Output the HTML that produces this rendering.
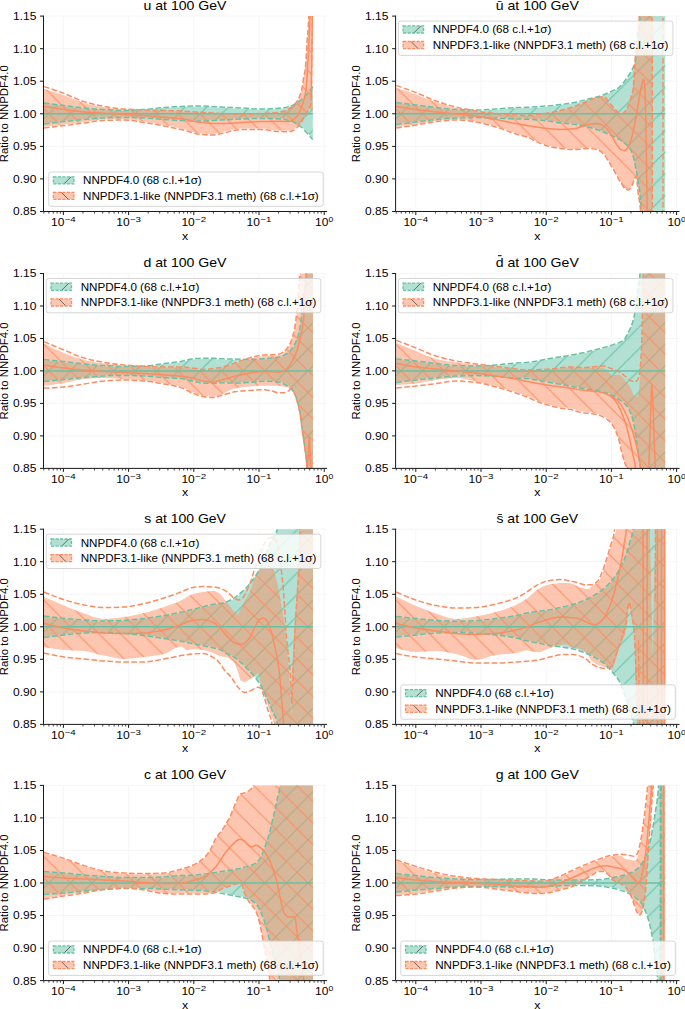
<!DOCTYPE html>
<html><head><meta charset="utf-8"><title>PDF ratios</title>
<style>html,body{margin:0;padding:0;background:#fff}svg{display:block}text{font-family:"Liberation Sans",sans-serif;fill:#000}</style></head><body>
<svg width="685" height="1009" viewBox="0 0 685 1009">
<defs>
<pattern id="hg_u" patternUnits="userSpaceOnUse" x="243.2" y="113.8" width="21.6" height="21.6"><path d="M0 0L-21.6 21.6 M21.6 0L0 21.6 M43.3 0L21.6 21.6" stroke="#66c2a5" stroke-width="1.0" stroke-opacity="1.0" fill="none"/></pattern>
<pattern id="ho_u" patternUnits="userSpaceOnUse" x="243.2" y="113.8" width="21.6" height="21.6"><path d="M0 0L21.6 21.6 M-21.6 0L0 21.6 M21.6 0L43.3 21.6" stroke="#fc8d62" stroke-width="1.0" stroke-opacity="1.0" fill="none"/></pattern>
<pattern id="hg_ubar" patternUnits="userSpaceOnUse" x="595.3" y="113.8" width="21.6" height="21.6"><path d="M0 0L-21.6 21.6 M21.6 0L0 21.6 M43.3 0L21.6 21.6" stroke="#66c2a5" stroke-width="1.0" stroke-opacity="1.0" fill="none"/></pattern>
<pattern id="ho_ubar" patternUnits="userSpaceOnUse" x="595.3" y="113.8" width="21.6" height="21.6"><path d="M0 0L21.6 21.6 M-21.6 0L0 21.6 M21.6 0L43.3 21.6" stroke="#fc8d62" stroke-width="1.0" stroke-opacity="1.0" fill="none"/></pattern>
<pattern id="hg_d" patternUnits="userSpaceOnUse" x="243.2" y="370.9" width="21.6" height="21.6"><path d="M0 0L-21.6 21.6 M21.6 0L0 21.6 M43.3 0L21.6 21.6" stroke="#66c2a5" stroke-width="1.0" stroke-opacity="1.0" fill="none"/></pattern>
<pattern id="ho_d" patternUnits="userSpaceOnUse" x="243.2" y="370.9" width="21.6" height="21.6"><path d="M0 0L21.6 21.6 M-21.6 0L0 21.6 M21.6 0L43.3 21.6" stroke="#fc8d62" stroke-width="1.0" stroke-opacity="1.0" fill="none"/></pattern>
<pattern id="hg_dbar" patternUnits="userSpaceOnUse" x="595.3" y="370.9" width="21.6" height="21.6"><path d="M0 0L-21.6 21.6 M21.6 0L0 21.6 M43.3 0L21.6 21.6" stroke="#66c2a5" stroke-width="1.0" stroke-opacity="1.0" fill="none"/></pattern>
<pattern id="ho_dbar" patternUnits="userSpaceOnUse" x="595.3" y="370.9" width="21.6" height="21.6"><path d="M0 0L21.6 21.6 M-21.6 0L0 21.6 M21.6 0L43.3 21.6" stroke="#fc8d62" stroke-width="1.0" stroke-opacity="1.0" fill="none"/></pattern>
<pattern id="hg_s" patternUnits="userSpaceOnUse" x="243.2" y="626.8" width="21.6" height="21.6"><path d="M0 0L-21.6 21.6 M21.6 0L0 21.6 M43.3 0L21.6 21.6" stroke="#66c2a5" stroke-width="1.0" stroke-opacity="1.0" fill="none"/></pattern>
<pattern id="ho_s" patternUnits="userSpaceOnUse" x="243.2" y="626.8" width="21.6" height="21.6"><path d="M0 0L21.6 21.6 M-21.6 0L0 21.6 M21.6 0L43.3 21.6" stroke="#fc8d62" stroke-width="1.0" stroke-opacity="1.0" fill="none"/></pattern>
<pattern id="hg_sbar" patternUnits="userSpaceOnUse" x="595.3" y="626.8" width="21.6" height="21.6"><path d="M0 0L-21.6 21.6 M21.6 0L0 21.6 M43.3 0L21.6 21.6" stroke="#66c2a5" stroke-width="1.0" stroke-opacity="1.0" fill="none"/></pattern>
<pattern id="ho_sbar" patternUnits="userSpaceOnUse" x="595.3" y="626.8" width="21.6" height="21.6"><path d="M0 0L21.6 21.6 M-21.6 0L0 21.6 M21.6 0L43.3 21.6" stroke="#fc8d62" stroke-width="1.0" stroke-opacity="1.0" fill="none"/></pattern>
<pattern id="hg_c" patternUnits="userSpaceOnUse" x="243.2" y="883" width="21.6" height="21.6"><path d="M0 0L-21.6 21.6 M21.6 0L0 21.6 M43.3 0L21.6 21.6" stroke="#66c2a5" stroke-width="1.0" stroke-opacity="1.0" fill="none"/></pattern>
<pattern id="ho_c" patternUnits="userSpaceOnUse" x="243.2" y="883" width="21.6" height="21.6"><path d="M0 0L21.6 21.6 M-21.6 0L0 21.6 M21.6 0L43.3 21.6" stroke="#fc8d62" stroke-width="1.0" stroke-opacity="1.0" fill="none"/></pattern>
<pattern id="hg_g" patternUnits="userSpaceOnUse" x="595.3" y="883" width="21.6" height="21.6"><path d="M0 0L-21.6 21.6 M21.6 0L0 21.6 M43.3 0L21.6 21.6" stroke="#66c2a5" stroke-width="1.0" stroke-opacity="1.0" fill="none"/></pattern>
<pattern id="ho_g" patternUnits="userSpaceOnUse" x="595.3" y="883" width="21.6" height="21.6"><path d="M0 0L21.6 21.6 M-21.6 0L0 21.6 M21.6 0L43.3 21.6" stroke="#fc8d62" stroke-width="1.0" stroke-opacity="1.0" fill="none"/></pattern>
<clipPath id="cp_u"><rect x="43.5" y="16.1" width="283.1" height="195.4"/></clipPath>
<clipPath id="cp_ubar"><rect x="395.6" y="16.1" width="283.4" height="195.4"/></clipPath>
<clipPath id="cp_d"><rect x="43.5" y="273.5" width="283.1" height="194.9"/></clipPath>
<clipPath id="cp_dbar"><rect x="395.6" y="273.5" width="283.4" height="194.9"/></clipPath>
<clipPath id="cp_s"><rect x="43.5" y="529.2" width="283.1" height="195.2"/></clipPath>
<clipPath id="cp_sbar"><rect x="395.6" y="529.2" width="283.4" height="195.2"/></clipPath>
<clipPath id="cp_c"><rect x="43.5" y="785.4" width="283.1" height="195.2"/></clipPath>
<clipPath id="cp_g"><rect x="395.6" y="785.4" width="283.4" height="195.2"/></clipPath>
</defs>
<g id="panel_u">
<path d="M63.4 16.1V211.5M128.6 16.1V211.5M193.8 16.1V211.5M259 16.1V211.5M324.2 16.1V211.5M43.5 16.1H326.6M43.5 48.7H326.6M43.5 81.2H326.6M43.5 113.8H326.6M43.5 146.4H326.6M43.5 178.9H326.6M43.5 211.5H326.6" stroke="#f5f5f5" stroke-width="0.9" fill="none"/>
<g clip-path="url(#cp_u)">
<path d="M44 103.7C50.7 104.6 57.3 105.5 64 106.3C70.7 107.1 77.3 108.1 84 108.7C90.7 109.3 97.3 109.9 104 110.3C110.7 110.7 117.3 111.1 124 111.1C130.7 111.1 137.3 110.7 144 110.3C150.7 109.9 157.3 108.8 164 108.3C169.7 107.8 175.3 107.3 181 107.1C187.7 106.9 194.3 106.7 201 106.7C207.7 106.7 214.3 107.4 221 107.7C227.7 108 234.3 108.4 241 108.7C247.7 109 254.3 109.7 261 109.7C267.7 109.7 274.3 109.3 281 108.7C284.3 108.4 287.7 107.7 291 106.7C294.3 105.7 297.7 103.3 301 100.7C303 99.2 305 97 307 94.7C308.9 92.5 310.9 90 312.8 87.2L312.8 138.9C310.9 136.6 308.9 134.4 307 132.3C305 130.2 303 127.8 301 126.3C297.7 123.7 294.3 121.3 291 120.3C287.7 119.3 284.3 118.5 281 118.3C274.3 117.9 267.7 117.7 261 117.7C254.3 117.7 247.7 118 241 118.3C234.3 118.5 227.7 119 221 119.3C214.3 119.6 207.7 120.3 201 120.3C194.3 120.3 187.7 120.1 181 119.9C175.3 119.7 169.7 119.1 164 118.7C157.3 118.2 150.7 117.6 144 117.3C137.3 117 130.7 116.7 124 116.7C117.3 116.7 110.7 117 104 117.3C97.3 117.6 90.7 118.1 84 118.7C77.3 119.3 70.7 120.1 64 120.9C57.3 121.7 50.7 122.5 44 123.3Z" fill="#66c2a5" fill-opacity="0.5"/>
<path d="M44 103.7C50.7 104.6 57.3 105.5 64 106.3C70.7 107.1 77.3 108.1 84 108.7C90.7 109.3 97.3 109.9 104 110.3C110.7 110.7 117.3 111.1 124 111.1C130.7 111.1 137.3 110.7 144 110.3C150.7 109.9 157.3 108.8 164 108.3C169.7 107.8 175.3 107.3 181 107.1C187.7 106.9 194.3 106.7 201 106.7C207.7 106.7 214.3 107.4 221 107.7C227.7 108 234.3 108.4 241 108.7C247.7 109 254.3 109.7 261 109.7C267.7 109.7 274.3 109.3 281 108.7C284.3 108.4 287.7 107.7 291 106.7C294.3 105.7 297.7 103.3 301 100.7C303 99.2 305 97 307 94.7C308.9 92.5 310.9 90 312.8 87.2L312.8 138.9C310.9 136.6 308.9 134.4 307 132.3C305 130.2 303 127.8 301 126.3C297.7 123.7 294.3 121.3 291 120.3C287.7 119.3 284.3 118.5 281 118.3C274.3 117.9 267.7 117.7 261 117.7C254.3 117.7 247.7 118 241 118.3C234.3 118.5 227.7 119 221 119.3C214.3 119.6 207.7 120.3 201 120.3C194.3 120.3 187.7 120.1 181 119.9C175.3 119.7 169.7 119.1 164 118.7C157.3 118.2 150.7 117.6 144 117.3C137.3 117 130.7 116.7 124 116.7C117.3 116.7 110.7 117 104 117.3C97.3 117.6 90.7 118.1 84 118.7C77.3 119.3 70.7 120.1 64 120.9C57.3 121.7 50.7 122.5 44 123.3Z" fill="url(#hg_u)"/>
<path d="M44 89C50.7 90.9 57.3 93 64 95.3C70.7 97.6 77.3 101.1 84 103C90.7 104.8 97.3 106.2 104 107.3C110.7 108.3 117.3 109.2 124 109.7C130.7 110.2 137.3 110.5 144 110.7C150.7 111 157.3 111.1 164 111.3C169.7 111.4 175.3 111.5 181 111.7C187.7 111.9 194.3 112.7 201 113.1C207.7 113.5 214.3 113.8 221 114.1C227.7 114.4 234.3 115.1 241 115.1C247.7 115.1 254.3 114.7 261 114.3C267.7 113.9 274.3 113.7 281 112.7C284.3 112.2 287.7 110.3 291 108.2C292.1 107.5 293.2 106.4 294.3 105.3C295.5 104.1 296.6 102.7 297.8 100.8C298.7 99.3 299.6 97.3 300.5 94.6C301.1 92.8 301.7 90.5 302.3 87.4C302.7 85.2 303.2 81.1 303.6 78.5C304.1 75.3 304.7 74.3 305.2 70.2C305.8 65.6 306.4 52.7 307 43.7C307.6 34.9 308.2 32.3 308.8 16.7C309 10 309.2 -10.5 309.5 -29.3L312.8 112.6C311.7 109.9 310.5 109 309.4 109C308.5 109 307.6 111.4 306.7 112.6C305.8 113.8 304.9 115 304 116.5C303.1 117.9 302.3 120.1 301.4 121.4C300.2 123.2 299 124.6 297.8 125.8C296.3 127.2 294.9 128.8 293.4 129.4C291.9 130 290.5 130.7 289 130.7C286.3 130.7 283.7 130.7 281 130.6C274.3 130.5 267.7 128.6 261 128.6C254.3 128.6 247.7 128.6 241 128.6C234.3 128.6 227.7 131.4 221 132.6C218.3 133.1 215.7 134 213 134C209 134 205 133.7 201 133.4C194.3 132.9 187.7 129.9 181 128.4C175.3 127.1 169.7 126.1 164 125C157.3 123.7 150.7 122.3 144 121.4C137.3 120.5 130.7 119.2 124 119.2C117.3 119.2 110.7 119.4 104 119.6C97.3 119.8 90.7 121.2 84 122C77.3 122.8 70.7 123.8 64 124.6C57.3 125.4 50.7 126.1 44 126.8Z" fill="#fc8d62" fill-opacity="0.5"/>
<path d="M44 89C50.7 90.9 57.3 93 64 95.3C70.7 97.6 77.3 101.1 84 103C90.7 104.8 97.3 106.2 104 107.3C110.7 108.3 117.3 109.2 124 109.7C130.7 110.2 137.3 110.5 144 110.7C150.7 111 157.3 111.1 164 111.3C169.7 111.4 175.3 111.5 181 111.7C187.7 111.9 194.3 112.7 201 113.1C207.7 113.5 214.3 113.8 221 114.1C227.7 114.4 234.3 115.1 241 115.1C247.7 115.1 254.3 114.7 261 114.3C267.7 113.9 274.3 113.7 281 112.7C284.3 112.2 287.7 110.3 291 108.2C292.1 107.5 293.2 106.4 294.3 105.3C295.5 104.1 296.6 102.7 297.8 100.8C298.7 99.3 299.6 97.3 300.5 94.6C301.1 92.8 301.7 90.5 302.3 87.4C302.7 85.2 303.2 81.1 303.6 78.5C304.1 75.3 304.7 74.3 305.2 70.2C305.8 65.6 306.4 52.7 307 43.7C307.6 34.9 308.2 32.3 308.8 16.7C309 10 309.2 -10.5 309.5 -29.3L312.8 112.6C311.7 109.9 310.5 109 309.4 109C308.5 109 307.6 111.4 306.7 112.6C305.8 113.8 304.9 115 304 116.5C303.1 117.9 302.3 120.1 301.4 121.4C300.2 123.2 299 124.6 297.8 125.8C296.3 127.2 294.9 128.8 293.4 129.4C291.9 130 290.5 130.7 289 130.7C286.3 130.7 283.7 130.7 281 130.6C274.3 130.5 267.7 128.6 261 128.6C254.3 128.6 247.7 128.6 241 128.6C234.3 128.6 227.7 131.4 221 132.6C218.3 133.1 215.7 134 213 134C209 134 205 133.7 201 133.4C194.3 132.9 187.7 129.9 181 128.4C175.3 127.1 169.7 126.1 164 125C157.3 123.7 150.7 122.3 144 121.4C137.3 120.5 130.7 119.2 124 119.2C117.3 119.2 110.7 119.4 104 119.6C97.3 119.8 90.7 121.2 84 122C77.3 122.8 70.7 123.8 64 124.6C57.3 125.4 50.7 126.1 44 126.8Z" fill="url(#ho_u)"/>
<path d="M43.5 113.8H312.8" stroke="#66c2a5" stroke-width="1.5" fill="none"/>
<path d="M44 103C50.7 103.9 57.3 104.8 64 105.6C70.7 106.4 77.3 107.4 84 108C90.7 108.6 97.3 109.2 104 109.6C110.7 110 117.3 110.4 124 110.4C130.7 110.4 137.3 110 144 109.6C150.7 109.2 157.3 108.1 164 107.6C169.7 107.1 175.3 106.6 181 106.4C187.7 106.2 194.3 106 201 106C207.7 106 214.3 106.7 221 107C227.7 107.3 234.3 107.7 241 108C247.7 108.3 254.3 109 261 109C267.7 109 274.3 108.6 281 108C284.3 107.7 287.7 107 291 106C294.3 105 297.7 102.6 301 100C303 98.5 305 96.3 307 94C308.9 91.8 310.9 89.3 312.8 86.5" stroke="#66c2a5" stroke-width="1.5" fill="none" stroke-dasharray="5.6 2.4" stroke-linejoin="round"/>
<path d="M44 124C50.7 123.2 57.3 122.4 64 121.6C70.7 120.8 77.3 120 84 119.4C90.7 118.8 97.3 118.3 104 118C110.7 117.7 117.3 117.4 124 117.4C130.7 117.4 137.3 117.7 144 118C150.7 118.3 157.3 118.9 164 119.4C169.7 119.8 175.3 120.4 181 120.6C187.7 120.8 194.3 121 201 121C207.7 121 214.3 120.3 221 120C227.7 119.7 234.3 119.2 241 119C247.7 118.8 254.3 118.4 261 118.4C267.7 118.4 274.3 118.6 281 119C284.3 119.2 287.7 120 291 121C294.3 122 297.7 124.4 301 127C303 128.5 305 130.9 307 133C308.9 135.1 310.9 137.3 312.8 139.6" stroke="#66c2a5" stroke-width="1.5" fill="none" stroke-dasharray="5.6 2.4" stroke-linejoin="round"/>
<path d="M44 106.6C50.7 107.7 57.3 108.7 64 109.6C70.7 110.5 77.3 111.5 84 112C90.7 112.5 97.3 112.8 104 113.2C110.7 113.6 117.3 114 124 114.4C130.7 114.8 137.3 115.1 144 115.6C150.7 116.1 157.3 116.7 164 117.2C169.7 117.7 175.3 118 181 118.6C187.7 119.4 194.3 121.8 201 122.4C207.7 123 214.3 123.6 221 123.6C227.7 123.6 234.3 122.7 241 122.4C247.7 122.1 254.3 121.7 261 121.6C267.7 121.5 274.3 121.3 281 121.3C283.6 121.3 286.3 121.5 288.9 121.5C290.4 121.5 291.9 120.6 293.4 119.7C294.9 118.9 296.3 117.3 297.8 115.3C298.7 114.1 299.6 112.1 300.5 110C301.4 107.9 302.3 105 303.2 101.9C304.1 98.9 304.9 96.8 305.8 91.2C306.4 87.5 306.9 78.3 307.5 69.5C308 61.7 308.5 49.9 309 40C309.4 32.1 309.8 28.3 310.2 16C310.5 7.8 310.7 -10.7 311 -30" stroke="#fc8d62" stroke-width="1.5" fill="none" stroke-linejoin="round"/>
<path d="M44 86.6C50.7 88.6 57.3 90.9 64 93.4C70.7 95.9 77.3 99.6 84 101.6C90.7 103.6 97.3 105.3 104 106.4C110.7 107.5 117.3 108.5 124 109C130.7 109.5 137.3 109.8 144 110C150.7 110.2 157.3 110.4 164 110.6C169.7 110.7 175.3 110.8 181 111C187.7 111.2 194.3 112 201 112.4C207.7 112.8 214.3 113.1 221 113.4C227.7 113.7 234.3 114.4 241 114.4C247.7 114.4 254.3 114 261 113.6C267.7 113.2 274.3 113 281 112C284.3 111.5 287.7 109.6 291 107.5C292.1 106.8 293.2 105.7 294.3 104.6C295.5 103.4 296.6 102 297.8 100.1C298.7 98.6 299.6 96.6 300.5 93.9C301.1 92.1 301.7 89.8 302.3 86.7C302.7 84.5 303.2 80.4 303.6 77.8C304.1 74.6 304.7 73.6 305.2 69.5C305.8 64.9 306.4 52 307 43C307.6 34.2 308.2 31.6 308.8 16C309 9.3 309.2 -11.2 309.5 -30" stroke="#fc8d62" stroke-width="1.5" fill="none" stroke-dasharray="5.6 2.4" stroke-linejoin="round"/>
<path d="M44 128C50.7 127.2 57.3 126.4 64 125.6C70.7 124.8 77.3 123.9 84 123C90.7 122.1 97.3 120.6 104 120.4C110.7 120.2 117.3 120 124 120C130.7 120 137.3 121.4 144 122.4C150.7 123.4 157.3 124.7 164 126C169.7 127.1 175.3 128.1 181 129.4C187.7 130.9 194.3 133.9 201 134.4C205 134.7 209 135 213 135C215.7 135 218.3 134.1 221 133.6C227.7 132.4 234.3 129.6 241 129.6C247.7 129.6 254.3 129.6 261 129.6C267.7 129.6 274.3 131.5 281 131.6C283.7 131.7 286.3 131.7 289 131.7C290.5 131.7 291.9 131 293.4 130.4C294.9 129.8 296.3 128.2 297.8 126.8C299 125.6 300.2 124.3 301.4 122.4C302.3 121 303.1 118.6 304 117C304.9 115.4 305.8 114.1 306.7 112.6C307.6 111.1 308.5 109.9 309.4 108C309.9 106.9 310.5 106.8 311 104C311.3 102.6 311.5 78.4 311.8 60C312 48.5 312.1 35.1 312.3 16C312.4 4.6 312.5 -12.2 312.6 -30" stroke="#fc8d62" stroke-width="1.5" fill="none" stroke-dasharray="5.6 2.4" stroke-linejoin="round"/>
<path d="M311.2 100C311.4 89 311.6 75.2 311.8 60C312 47.3 312.1 34 312.3 16C312.4 8.8 312.4 -0.5 312.5 -10" stroke="#fc8d62" stroke-width="1.5" fill="none"/>
</g>
<path d="M43.5 16.1V211.5H326.6" stroke="#1a1a1a" stroke-width="1" fill="none" stroke-linecap="square"/>
<path d="M63.4 211.5v3.5M128.6 211.5v3.5M193.8 211.5v3.5M259 211.5v3.5M324.2 211.5v3.5" stroke="#1a1a1a" stroke-width="1" fill="none"/>
<path d="M43.8 211.5v2.1M48.9 211.5v2.1M53.3 211.5v2.1M57.1 211.5v2.1M60.4 211.5v2.1M83 211.5v2.1M94.5 211.5v2.1M102.7 211.5v2.1M109 211.5v2.1M114.1 211.5v2.1M118.5 211.5v2.1M122.3 211.5v2.1M125.6 211.5v2.1M148.2 211.5v2.1M159.7 211.5v2.1M167.9 211.5v2.1M174.2 211.5v2.1M179.3 211.5v2.1M183.7 211.5v2.1M187.5 211.5v2.1M190.8 211.5v2.1M213.4 211.5v2.1M224.9 211.5v2.1M233.1 211.5v2.1M239.4 211.5v2.1M244.5 211.5v2.1M248.9 211.5v2.1M252.7 211.5v2.1M256 211.5v2.1M278.6 211.5v2.1M290.1 211.5v2.1M298.3 211.5v2.1M304.6 211.5v2.1M309.7 211.5v2.1M314.1 211.5v2.1M317.9 211.5v2.1M321.2 211.5v2.1" stroke="#1a1a1a" stroke-width="0.8" fill="none"/>
<path d="M43.5 16.1h-3.5M43.5 48.7h-3.5M43.5 81.2h-3.5M43.5 113.8h-3.5M43.5 146.4h-3.5M43.5 178.9h-3.5M43.5 211.5h-3.5" stroke="#1a1a1a" stroke-width="1" fill="none"/>
<text x="13" y="20" font-size="10.5" text-anchor="start" textLength="23.4" lengthAdjust="spacingAndGlyphs">1.15</text>
<text x="13" y="52.6" font-size="10.5" text-anchor="start" textLength="23.4" lengthAdjust="spacingAndGlyphs">1.10</text>
<text x="13" y="85.1" font-size="10.5" text-anchor="start" textLength="23.4" lengthAdjust="spacingAndGlyphs">1.05</text>
<text x="13" y="117.7" font-size="10.5" text-anchor="start" textLength="23.4" lengthAdjust="spacingAndGlyphs">1.00</text>
<text x="13" y="150.3" font-size="10.5" text-anchor="start" textLength="23.4" lengthAdjust="spacingAndGlyphs">0.95</text>
<text x="13" y="182.8" font-size="10.5" text-anchor="start" textLength="23.4" lengthAdjust="spacingAndGlyphs">0.90</text>
<text x="13" y="215.4" font-size="10.5" text-anchor="start" textLength="23.4" lengthAdjust="spacingAndGlyphs">0.85</text>
<text x="51" y="226.1" font-size="10.5" text-anchor="start" textLength="13.4" lengthAdjust="spacingAndGlyphs">10</text>
<text x="64.7" y="222.1" font-size="7.5" text-anchor="start" textLength="11.1" lengthAdjust="spacingAndGlyphs">−4</text>
<text x="116.2" y="226.1" font-size="10.5" text-anchor="start" textLength="13.4" lengthAdjust="spacingAndGlyphs">10</text>
<text x="129.9" y="222.1" font-size="7.5" text-anchor="start" textLength="11.1" lengthAdjust="spacingAndGlyphs">−3</text>
<text x="181.4" y="226.1" font-size="10.5" text-anchor="start" textLength="13.4" lengthAdjust="spacingAndGlyphs">10</text>
<text x="195.1" y="222.1" font-size="7.5" text-anchor="start" textLength="11.1" lengthAdjust="spacingAndGlyphs">−2</text>
<text x="246.6" y="226.1" font-size="10.5" text-anchor="start" textLength="13.4" lengthAdjust="spacingAndGlyphs">10</text>
<text x="260.3" y="222.1" font-size="7.5" text-anchor="start" textLength="11.1" lengthAdjust="spacingAndGlyphs">−1</text>
<text x="315" y="226.1" font-size="10.5" text-anchor="start" textLength="13.4" lengthAdjust="spacingAndGlyphs">10</text>
<text x="328.6" y="222.1" font-size="7.5" text-anchor="start" textLength="4.8" lengthAdjust="spacingAndGlyphs">0</text>
<text x="181.9" y="239.5" font-size="10.5" text-anchor="start" textLength="6.2" lengthAdjust="spacingAndGlyphs">x</text>
<text transform="translate(7.9 162.3) rotate(-90)" font-size="10.5" text-anchor="start" textLength="97" lengthAdjust="spacingAndGlyphs">Ratio to NNPDF4.0</text>
<text x="143.5" y="10" font-size="12.6" text-anchor="start" textLength="83" lengthAdjust="spacingAndGlyphs">u at 100 GeV</text>
<rect x="48.7" y="172" width="274.5" height="34.3" rx="2.2" ry="2.2" fill="#fff" fill-opacity="0.8" stroke="#ccc" stroke-opacity="0.8" stroke-width="1"/>
<rect x="53.4" y="176.8" width="20.5" height="7.1" fill="#66c2a5" fill-opacity="0.5"/>
<path d="M64 183.8L71.1 176.8" stroke="#444" stroke-width="1" stroke-opacity="0.75"/>
<rect x="53.4" y="176.8" width="20.5" height="7.1" fill="none" stroke="#66c2a5" stroke-width="1.3" stroke-dasharray="3.1 1.4"/>
<text x="83.1" y="184.2" font-size="10.5" text-anchor="start" textLength="118.6" lengthAdjust="spacingAndGlyphs">NNPDF4.0 (68 c.l.+1σ)</text>
<rect x="53.4" y="192.3" width="20.5" height="7.1" fill="#fc8d62" fill-opacity="0.5"/>
<path d="M61.3 192.3L68.4 199.4" stroke="#444" stroke-width="1" stroke-opacity="0.75"/>
<rect x="53.4" y="192.3" width="20.5" height="7.1" fill="none" stroke="#fc8d62" stroke-width="1.3" stroke-dasharray="3.1 1.4"/>
<text x="83.1" y="199.8" font-size="10.5" text-anchor="start" textLength="235.6" lengthAdjust="spacingAndGlyphs">NNPDF3.1-like (NNPDF3.1 meth) (68 c.l.+1σ)</text>
</g>
<g id="panel_ubar">
<path d="M415.8 16.1V211.5M481 16.1V211.5M546.2 16.1V211.5M611.4 16.1V211.5M676.6 16.1V211.5M395.6 16.1H679M395.6 48.7H679M395.6 81.2H679M395.6 113.8H679M395.6 146.4H679M395.6 178.9H679M395.6 211.5H679" stroke="#f5f5f5" stroke-width="0.9" fill="none"/>
<g clip-path="url(#cp_ubar)">
<path d="M396.3 103.1C402.9 104 409.4 104.8 416 105.7C422.7 106.6 429.3 107.5 436 108.3C442.7 109.1 449.3 110.1 456 110.3C462.7 110.5 469.3 110.7 476 110.7C482.7 110.7 489.3 110.1 496 109.7C502.7 109.3 509.3 108.6 516 108.3C519.7 108.2 523.3 108.1 527 108C534.7 107.7 542.3 107.1 550 106.4C553.3 106.1 556.7 105.7 560 105.3C564.9 104.7 569.7 104 574.6 103.1C579.5 102.2 584.3 100.7 589.2 99.5C593.1 98.5 597 97.8 600.9 96.5C604.3 95.4 607.6 93.8 611 92.2C613.7 90.9 616.3 89.9 619 88C621.3 86.3 623.7 83.1 626 79.9C628.3 76.7 630.7 73.7 633 68.4C634.2 65.7 635.4 62.7 636.6 56.7C637.4 52.7 638.2 43.8 639 33.7C639.3 29.5 639.7 26.8 640 17.2C640.2 11.4 640.4 -29.3 640.6 -29.3C648.8 -29.3 657 -29.3 665.2 -29.3L665.2 259.3C657.4 259.3 649.6 259.3 641.8 259.3C641.5 259.3 641.3 217.1 641 210.3C640.5 198.4 640.1 193.5 639.6 189.3C639.1 184.8 638.6 182.7 638.1 179.8C637.4 175.5 636.6 171.7 635.9 168.1C634.9 163.4 634 158.1 633 155C632 151.8 631 149.2 630 147.7C628.6 145.6 627.1 144.5 625.7 143.3C623.3 141.2 620.8 139.6 618.4 138.2C613.5 135.5 608.7 133.5 603.8 131.6C598.9 129.7 594.1 127.7 589.2 126.5C584.3 125.3 579.5 124.3 574.6 123.6C569.7 122.9 564.9 122.7 560 122.1C556.7 121.7 553.3 121 550 120.6C542.3 119.7 534.7 118.7 527 118.5C523.3 118.4 519.7 118.4 516 118.3C509.3 118.1 502.7 117.5 496 117.3C489.3 117.1 482.7 116.9 476 116.9C469.3 116.9 462.7 117.1 456 117.3C449.3 117.5 442.7 118.3 436 118.9C429.3 119.5 422.7 120.5 416 121.3C409.4 122.1 402.9 122.9 396.3 123.7Z" fill="#66c2a5" fill-opacity="0.5"/>
<path d="M396.3 103.1C402.9 104 409.4 104.8 416 105.7C422.7 106.6 429.3 107.5 436 108.3C442.7 109.1 449.3 110.1 456 110.3C462.7 110.5 469.3 110.7 476 110.7C482.7 110.7 489.3 110.1 496 109.7C502.7 109.3 509.3 108.6 516 108.3C519.7 108.2 523.3 108.1 527 108C534.7 107.7 542.3 107.1 550 106.4C553.3 106.1 556.7 105.7 560 105.3C564.9 104.7 569.7 104 574.6 103.1C579.5 102.2 584.3 100.7 589.2 99.5C593.1 98.5 597 97.8 600.9 96.5C604.3 95.4 607.6 93.8 611 92.2C613.7 90.9 616.3 89.9 619 88C621.3 86.3 623.7 83.1 626 79.9C628.3 76.7 630.7 73.7 633 68.4C634.2 65.7 635.4 62.7 636.6 56.7C637.4 52.7 638.2 43.8 639 33.7C639.3 29.5 639.7 26.8 640 17.2C640.2 11.4 640.4 -29.3 640.6 -29.3C648.8 -29.3 657 -29.3 665.2 -29.3L665.2 259.3C657.4 259.3 649.6 259.3 641.8 259.3C641.5 259.3 641.3 217.1 641 210.3C640.5 198.4 640.1 193.5 639.6 189.3C639.1 184.8 638.6 182.7 638.1 179.8C637.4 175.5 636.6 171.7 635.9 168.1C634.9 163.4 634 158.1 633 155C632 151.8 631 149.2 630 147.7C628.6 145.6 627.1 144.5 625.7 143.3C623.3 141.2 620.8 139.6 618.4 138.2C613.5 135.5 608.7 133.5 603.8 131.6C598.9 129.7 594.1 127.7 589.2 126.5C584.3 125.3 579.5 124.3 574.6 123.6C569.7 122.9 564.9 122.7 560 122.1C556.7 121.7 553.3 121 550 120.6C542.3 119.7 534.7 118.7 527 118.5C523.3 118.4 519.7 118.4 516 118.3C509.3 118.1 502.7 117.5 496 117.3C489.3 117.1 482.7 116.9 476 116.9C469.3 116.9 462.7 117.1 456 117.3C449.3 117.5 442.7 118.3 436 118.9C429.3 119.5 422.7 120.5 416 121.3C409.4 122.1 402.9 122.9 396.3 123.7Z" fill="url(#hg_ubar)"/>
<path d="M396.3 88C402.9 89.9 409.4 92.1 416 94.5C422.7 96.9 429.3 100.2 436 102.3C442.7 104.5 449.3 106.3 456 107.8C462.7 109.3 469.3 110.7 476 111.7C482.7 112.7 489.3 113.7 496 114.3C502.7 114.9 509.3 115.4 516 115.7C519.7 115.9 523.3 116.1 527 116.1C534.7 116.1 542.3 114.6 550 113.4C557.7 112.2 565.3 110 573 107.6C576.9 106.4 580.8 104.5 584.7 103C588.5 101.5 592.2 99.6 596 98.7C598.6 98.1 601.2 97.3 603.8 97.3C605.7 97.3 607.7 101.6 609.6 103.8C611.6 106 613.5 108.5 615.5 110.4C617 111.8 618.4 114.1 619.9 114.3C620.6 114.4 621.3 114.5 622 114.5C623.2 114.5 624.5 112.7 625.7 111.1C626.7 109.9 627.6 107.6 628.6 105.3C629.6 103 630.5 99.8 631.5 96.5C632 94.8 632.5 93.6 633 90.7C633.8 86 634.6 66.1 635.4 56.7C636.2 47.7 636.9 41.5 637.7 33.7C638.2 28.3 638.8 27.7 639.3 17.2C639.5 12.6 639.8 -29.3 640 -29.3C644.1 -29.3 648.2 -29.3 652.3 -29.3L652.3 259.3C648.6 259.3 644.9 259.3 641.2 259.3C641 259.3 640.7 213.9 640.5 210.3C639.8 199.9 639.2 200.9 638.5 195.3C638 191.1 637.5 184.7 637 181.3C636.6 178.8 636.3 175.4 635.9 175.4C635.4 175.4 635 177.3 634.5 178.3C633.5 180.5 632.5 184.1 631.5 185.7C630.5 187.3 629.6 189.3 628.6 189.3C627.6 189.3 626.7 189 625.7 188.6C624.2 188 622.8 184.9 621.3 182.7C619.4 179.8 617.4 175.9 615.5 172.5C613.5 169.1 611.6 165.5 609.6 162.3C607.7 159.2 605.7 155.4 603.8 153.5C601.9 151.6 599.9 149.8 598 149.2C595.1 148.4 592.1 147.7 589.2 147.7C584.3 147.7 579.5 148.9 574.6 148.9C569.7 148.9 564.9 148.3 560 147.7C556.7 147.3 553.3 146.7 550 145.9C546.2 145 542.3 143.5 538.5 141.9C534.7 140.3 530.8 137.6 527 136.3C523.3 135 519.7 134.4 516 133.3C509.3 131.3 502.7 128.2 496 126.3C489.3 124.4 482.7 122.3 476 121.3C469.3 120.3 462.7 119.3 456 119.3C449.3 119.3 442.7 120.2 436 120.9C429.3 121.6 422.7 123.2 416 124.3C409.4 125.4 402.9 126.4 396.3 127.3Z" fill="#fc8d62" fill-opacity="0.5"/>
<path d="M396.3 88C402.9 89.9 409.4 92.1 416 94.5C422.7 96.9 429.3 100.2 436 102.3C442.7 104.5 449.3 106.3 456 107.8C462.7 109.3 469.3 110.7 476 111.7C482.7 112.7 489.3 113.7 496 114.3C502.7 114.9 509.3 115.4 516 115.7C519.7 115.9 523.3 116.1 527 116.1C534.7 116.1 542.3 114.6 550 113.4C557.7 112.2 565.3 110 573 107.6C576.9 106.4 580.8 104.5 584.7 103C588.5 101.5 592.2 99.6 596 98.7C598.6 98.1 601.2 97.3 603.8 97.3C605.7 97.3 607.7 101.6 609.6 103.8C611.6 106 613.5 108.5 615.5 110.4C617 111.8 618.4 114.1 619.9 114.3C620.6 114.4 621.3 114.5 622 114.5C623.2 114.5 624.5 112.7 625.7 111.1C626.7 109.9 627.6 107.6 628.6 105.3C629.6 103 630.5 99.8 631.5 96.5C632 94.8 632.5 93.6 633 90.7C633.8 86 634.6 66.1 635.4 56.7C636.2 47.7 636.9 41.5 637.7 33.7C638.2 28.3 638.8 27.7 639.3 17.2C639.5 12.6 639.8 -29.3 640 -29.3C644.1 -29.3 648.2 -29.3 652.3 -29.3L652.3 259.3C648.6 259.3 644.9 259.3 641.2 259.3C641 259.3 640.7 213.9 640.5 210.3C639.8 199.9 639.2 200.9 638.5 195.3C638 191.1 637.5 184.7 637 181.3C636.6 178.8 636.3 175.4 635.9 175.4C635.4 175.4 635 177.3 634.5 178.3C633.5 180.5 632.5 184.1 631.5 185.7C630.5 187.3 629.6 189.3 628.6 189.3C627.6 189.3 626.7 189 625.7 188.6C624.2 188 622.8 184.9 621.3 182.7C619.4 179.8 617.4 175.9 615.5 172.5C613.5 169.1 611.6 165.5 609.6 162.3C607.7 159.2 605.7 155.4 603.8 153.5C601.9 151.6 599.9 149.8 598 149.2C595.1 148.4 592.1 147.7 589.2 147.7C584.3 147.7 579.5 148.9 574.6 148.9C569.7 148.9 564.9 148.3 560 147.7C556.7 147.3 553.3 146.7 550 145.9C546.2 145 542.3 143.5 538.5 141.9C534.7 140.3 530.8 137.6 527 136.3C523.3 135 519.7 134.4 516 133.3C509.3 131.3 502.7 128.2 496 126.3C489.3 124.4 482.7 122.3 476 121.3C469.3 120.3 462.7 119.3 456 119.3C449.3 119.3 442.7 120.2 436 120.9C429.3 121.6 422.7 123.2 416 124.3C409.4 125.4 402.9 126.4 396.3 127.3Z" fill="url(#ho_ubar)"/>
<path d="M395.6 113.8H665.2" stroke="#66c2a5" stroke-width="1.5" fill="none"/>
<path d="M396.3 102.4C402.9 103.3 409.4 104.1 416 105C422.7 105.9 429.3 106.8 436 107.6C442.7 108.4 449.3 109.4 456 109.6C462.7 109.8 469.3 110 476 110C482.7 110 489.3 109.4 496 109C502.7 108.6 509.3 107.9 516 107.6C519.7 107.5 523.3 107.4 527 107.3C534.7 107 542.3 106.4 550 105.7C553.3 105.4 556.7 105 560 104.6C564.9 104 569.7 103.3 574.6 102.4C579.5 101.5 584.3 100 589.2 98.8C593.1 97.8 597 97.1 600.9 95.8C604.3 94.7 607.6 93.1 611 91.5C613.7 90.2 616.3 89.2 619 87.3C621.3 85.6 623.7 82.4 626 79.2C628.3 76 630.7 73 633 67.7C634.2 65 635.4 62 636.6 56C637.4 52 638.2 43.1 639 33C639.3 28.8 639.7 26.1 640 16.5C640.2 10.7 640.4 -30 640.6 -30C648.8 -30 657 -30 665.2 -30" stroke="#66c2a5" stroke-width="1.5" fill="none" stroke-dasharray="5.6 2.4" stroke-linejoin="round"/>
<path d="M396.3 124.4C402.9 123.6 409.4 122.8 416 122C422.7 121.2 429.3 120.2 436 119.6C442.7 119 449.3 118.2 456 118C462.7 117.8 469.3 117.6 476 117.6C482.7 117.6 489.3 117.8 496 118C502.7 118.2 509.3 118.8 516 119C519.7 119.1 523.3 119.1 527 119.2C534.7 119.4 542.3 120.4 550 121.3C553.3 121.7 556.7 122.4 560 122.8C564.9 123.4 569.7 123.6 574.6 124.3C579.5 125 584.3 126 589.2 127.2C594.1 128.4 598.9 130.4 603.8 132.3C608.7 134.2 613.5 136.2 618.4 138.9C620.8 140.3 623.3 141.9 625.7 144C627.1 145.2 628.6 146.3 630 148.4C631 149.9 632 152.5 633 155.7C634 158.8 634.9 164.1 635.9 168.8C636.6 172.4 637.4 176.2 638.1 180.5C638.6 183.4 639.1 185.5 639.6 190C640.1 194.2 640.5 199.1 641 211C641.3 217.8 641.5 260 641.8 260C649.6 260 657.4 260 665.2 260" stroke="#66c2a5" stroke-width="1.5" fill="none" stroke-dasharray="5.6 2.4" stroke-linejoin="round"/>
<path d="M396.3 106.4C402.9 107.6 409.4 108.7 416 109.6C422.7 110.5 429.3 111.3 436 112C442.7 112.7 449.3 113.3 456 114C462.7 114.7 469.3 115.1 476 116C482.7 116.9 489.3 118.3 496 119.6C502.7 120.9 509.3 122.4 516 123.6C519.7 124.3 523.3 124.9 527 125.5C534.7 126.7 542.3 128.2 550 128.8C553.3 129.1 556.7 129.4 560 129.4C564.9 129.4 569.7 129.1 574.6 128.7C578.5 128.4 582.4 125.7 586.3 125C589.7 124.4 593.1 123.6 596.5 123.6C598.9 123.6 601.4 124.6 603.8 125.8C605.7 126.7 607.7 129.7 609.6 132.3C611.6 135 613.5 139.7 615.5 142.6C617.4 145.4 619.4 149.2 621.3 149.9C622.3 150.3 623.2 150.6 624.2 150.6C625.4 150.6 626.7 149.2 627.9 147.7C629.1 146.2 630.3 142.2 631.5 138.2C632.5 134.9 633.5 129.9 634.5 125C635.5 120.3 636.4 114.6 637.4 109C638.1 104.8 638.9 99.8 639.6 95.8C640.4 91.5 641.2 87.1 642 84C642.5 82.1 643 79.2 643.5 79.2C643.9 79.2 644.3 82.2 644.7 86C645.1 90.2 645.6 110.4 646 130C646.4 148.1 646.8 174.4 647.2 211C647.3 223.2 647.5 241.8 647.6 260" stroke="#fc8d62" stroke-width="1.5" fill="none" stroke-linejoin="round"/>
<path d="M396.3 85.6C402.9 87.7 409.4 90.1 416 92.6C422.7 95.2 429.3 98.7 436 101C442.7 103.3 449.3 105.4 456 107C462.7 108.6 469.3 109.9 476 111C482.7 112.1 489.3 113 496 113.6C502.7 114.2 509.3 114.7 516 115C519.7 115.2 523.3 115.4 527 115.4C534.7 115.4 542.3 113.9 550 112.7C557.7 111.5 565.3 109.3 573 106.9C576.9 105.7 580.8 103.8 584.7 102.3C588.5 100.8 592.2 98.9 596 98C598.6 97.4 601.2 96.6 603.8 96.6C605.7 96.6 607.7 100.9 609.6 103.1C611.6 105.3 613.5 107.8 615.5 109.7C617 111.1 618.4 113.4 619.9 113.6C620.6 113.7 621.3 113.8 622 113.8C623.2 113.8 624.5 112 625.7 110.4C626.7 109.2 627.6 106.9 628.6 104.6C629.6 102.3 630.5 99.1 631.5 95.8C632 94.1 632.5 92.9 633 90C633.8 85.3 634.6 65.4 635.4 56C636.2 47 636.9 40.8 637.7 33C638.2 27.6 638.8 27 639.3 16.5C639.5 11.9 639.8 -30 640 -30C644.1 -30 648.2 -30 652.3 -30" stroke="#fc8d62" stroke-width="1.5" fill="none" stroke-dasharray="5.6 2.4" stroke-linejoin="round"/>
<path d="M396.3 128C402.9 127.1 409.4 126.1 416 125C422.7 123.9 429.3 122.3 436 121.6C442.7 120.9 449.3 120 456 120C462.7 120 469.3 121 476 122C482.7 123 489.3 125.1 496 127C502.7 128.9 509.3 132 516 134C519.7 135.1 523.3 135.7 527 137C530.8 138.3 534.7 141 538.5 142.6C542.3 144.2 546.2 145.7 550 146.6C553.3 147.4 556.7 148 560 148.4C564.9 149 569.7 149.6 574.6 149.6C579.5 149.6 584.3 148.4 589.2 148.4C592.1 148.4 595.1 149.1 598 149.9C599.9 150.5 601.9 152.3 603.8 154.2C605.7 156.1 607.7 159.9 609.6 163C611.6 166.2 613.5 169.8 615.5 173.2C617.4 176.6 619.4 180.5 621.3 183.4C622.8 185.6 624.2 188.7 625.7 189.3C626.7 189.7 627.6 190 628.6 190C629.6 190 630.5 188 631.5 186.4C632.5 184.8 633.5 181.2 634.5 179C635 178 635.4 176.1 635.9 176.1C636.3 176.1 636.6 179.5 637 182C637.5 185.4 638 191.8 638.5 196C639.2 201.6 639.8 200.6 640.5 211C640.7 214.6 641 260 641.2 260C644.9 260 648.6 260 652.3 260" stroke="#fc8d62" stroke-width="1.5" fill="none" stroke-dasharray="5.6 2.4" stroke-linejoin="round"/>
<path d="M652.3 10C652.3 80 652.3 150 652.3 220" stroke="#fc8d62" stroke-width="1.5" fill="none" stroke-dasharray="5.6 2.4"/>
<path d="M663 10C663 80 663 150 663 220" stroke="#fc8d62" stroke-width="1.5" fill="none" stroke-dasharray="5.6 2.4"/>
</g>
<path d="M395.6 16.1V211.5H679" stroke="#1a1a1a" stroke-width="1" fill="none" stroke-linecap="square"/>
<path d="M415.8 211.5v3.5M481 211.5v3.5M546.2 211.5v3.5M611.4 211.5v3.5M676.6 211.5v3.5" stroke="#1a1a1a" stroke-width="1" fill="none"/>
<path d="M396.2 211.5v2.1M401.3 211.5v2.1M405.7 211.5v2.1M409.5 211.5v2.1M412.8 211.5v2.1M435.4 211.5v2.1M446.9 211.5v2.1M455.1 211.5v2.1M461.4 211.5v2.1M466.5 211.5v2.1M470.9 211.5v2.1M474.7 211.5v2.1M478 211.5v2.1M500.6 211.5v2.1M512.1 211.5v2.1M520.3 211.5v2.1M526.6 211.5v2.1M531.7 211.5v2.1M536.1 211.5v2.1M539.9 211.5v2.1M543.2 211.5v2.1M565.8 211.5v2.1M577.3 211.5v2.1M585.5 211.5v2.1M591.8 211.5v2.1M596.9 211.5v2.1M601.3 211.5v2.1M605.1 211.5v2.1M608.4 211.5v2.1M631 211.5v2.1M642.5 211.5v2.1M650.7 211.5v2.1M657 211.5v2.1M662.1 211.5v2.1M666.5 211.5v2.1M670.3 211.5v2.1M673.6 211.5v2.1" stroke="#1a1a1a" stroke-width="0.8" fill="none"/>
<path d="M395.6 16.1h-3.5M395.6 48.7h-3.5M395.6 81.2h-3.5M395.6 113.8h-3.5M395.6 146.4h-3.5M395.6 178.9h-3.5M395.6 211.5h-3.5" stroke="#1a1a1a" stroke-width="1" fill="none"/>
<text x="365.1" y="20" font-size="10.5" text-anchor="start" textLength="23.4" lengthAdjust="spacingAndGlyphs">1.15</text>
<text x="365.1" y="52.6" font-size="10.5" text-anchor="start" textLength="23.4" lengthAdjust="spacingAndGlyphs">1.10</text>
<text x="365.1" y="85.1" font-size="10.5" text-anchor="start" textLength="23.4" lengthAdjust="spacingAndGlyphs">1.05</text>
<text x="365.1" y="117.7" font-size="10.5" text-anchor="start" textLength="23.4" lengthAdjust="spacingAndGlyphs">1.00</text>
<text x="365.1" y="150.3" font-size="10.5" text-anchor="start" textLength="23.4" lengthAdjust="spacingAndGlyphs">0.95</text>
<text x="365.1" y="182.8" font-size="10.5" text-anchor="start" textLength="23.4" lengthAdjust="spacingAndGlyphs">0.90</text>
<text x="365.1" y="215.4" font-size="10.5" text-anchor="start" textLength="23.4" lengthAdjust="spacingAndGlyphs">0.85</text>
<text x="403.4" y="226.1" font-size="10.5" text-anchor="start" textLength="13.4" lengthAdjust="spacingAndGlyphs">10</text>
<text x="417.1" y="222.1" font-size="7.5" text-anchor="start" textLength="11.1" lengthAdjust="spacingAndGlyphs">−4</text>
<text x="468.6" y="226.1" font-size="10.5" text-anchor="start" textLength="13.4" lengthAdjust="spacingAndGlyphs">10</text>
<text x="482.3" y="222.1" font-size="7.5" text-anchor="start" textLength="11.1" lengthAdjust="spacingAndGlyphs">−3</text>
<text x="533.8" y="226.1" font-size="10.5" text-anchor="start" textLength="13.4" lengthAdjust="spacingAndGlyphs">10</text>
<text x="547.5" y="222.1" font-size="7.5" text-anchor="start" textLength="11.1" lengthAdjust="spacingAndGlyphs">−2</text>
<text x="599" y="226.1" font-size="10.5" text-anchor="start" textLength="13.4" lengthAdjust="spacingAndGlyphs">10</text>
<text x="612.7" y="222.1" font-size="7.5" text-anchor="start" textLength="11.1" lengthAdjust="spacingAndGlyphs">−1</text>
<text x="667.4" y="226.1" font-size="10.5" text-anchor="start" textLength="13.4" lengthAdjust="spacingAndGlyphs">10</text>
<text x="681" y="222.1" font-size="7.5" text-anchor="start" textLength="4.8" lengthAdjust="spacingAndGlyphs">0</text>
<text x="534.2" y="239.5" font-size="10.5" text-anchor="start" textLength="6.2" lengthAdjust="spacingAndGlyphs">x</text>
<text transform="translate(360 162.3) rotate(-90)" font-size="10.5" text-anchor="start" textLength="97" lengthAdjust="spacingAndGlyphs">Ratio to NNPDF4.0</text>
<text x="495.8" y="10" font-size="12.6" text-anchor="start" textLength="83" lengthAdjust="spacingAndGlyphs">ū at 100 GeV</text>
<rect x="398.4" y="21.1" width="274.5" height="34.3" rx="2.2" ry="2.2" fill="#fff" fill-opacity="0.8" stroke="#ccc" stroke-opacity="0.8" stroke-width="1"/>
<rect x="403.1" y="25.9" width="20.5" height="7.1" fill="#66c2a5" fill-opacity="0.5"/>
<path d="M413.7 33L420.8 25.9" stroke="#444" stroke-width="1" stroke-opacity="0.75"/>
<rect x="403.1" y="25.9" width="20.5" height="7.1" fill="none" stroke="#66c2a5" stroke-width="1.3" stroke-dasharray="3.1 1.4"/>
<text x="432.8" y="33.4" font-size="10.5" text-anchor="start" textLength="118.6" lengthAdjust="spacingAndGlyphs">NNPDF4.0 (68 c.l.+1σ)</text>
<rect x="403.1" y="41.5" width="20.5" height="7.1" fill="#fc8d62" fill-opacity="0.5"/>
<path d="M411 41.5L418.1 48.6" stroke="#444" stroke-width="1" stroke-opacity="0.75"/>
<rect x="403.1" y="41.5" width="20.5" height="7.1" fill="none" stroke="#fc8d62" stroke-width="1.3" stroke-dasharray="3.1 1.4"/>
<text x="432.8" y="49" font-size="10.5" text-anchor="start" textLength="235.6" lengthAdjust="spacingAndGlyphs">NNPDF3.1-like (NNPDF3.1 meth) (68 c.l.+1σ)</text>
</g>
<g id="panel_d">
<path d="M63.4 273.5V468.4M128.6 273.5V468.4M193.8 273.5V468.4M259 273.5V468.4M324.2 273.5V468.4M43.5 273.5H326.6M43.5 306H326.6M43.5 338.5H326.6M43.5 370.9H326.6M43.5 403.4H326.6M43.5 435.9H326.6M43.5 468.4H326.6" stroke="#f5f5f5" stroke-width="0.9" fill="none"/>
<g clip-path="url(#cp_d)">
<path d="M44 360.3C50.7 360.9 57.3 361.6 64 362.3C70.7 363 77.3 364.1 84 364.7C90.7 365.3 97.3 365.9 104 366.3C110.7 366.7 117.3 367.1 124 367.1C130.7 367.1 137.3 366.9 144 366.7C150.7 366.5 157.3 365.1 164 364.3C169.7 363.6 175.3 363.1 181 362.2C184.7 361.6 188.3 360 192 359.6C195.7 359.2 199.3 358.9 203 358.9C206.6 358.9 210.2 358.9 213.8 358.9C215.9 358.9 217.9 359.3 220 359.4C224.9 359.6 229.7 359.7 234.6 359.8C239.5 359.9 244.3 360.1 249.2 360.1C254.1 360.1 258.9 359.7 263.8 359.4C268.7 359.1 273.5 358.8 278.4 357.9C280.8 357.5 283.3 356.4 285.7 355C287.6 353.9 289.6 352.2 291.5 349.9C293 348.2 294.4 345.8 295.9 342.6C296.9 340.5 297.8 337.7 298.8 333.8C299.5 330.8 300.3 326.2 301 320.7C301.7 315.7 302.3 306.5 303 300.7C303.6 295.8 304.1 292.4 304.7 287.7C305.2 283.5 305.7 282.4 306.2 274C306.5 269.5 306.7 230.7 307 230.7C309 230.7 311 230.7 313 230.7L313 509.3C311.2 509.3 309.4 509.3 307.6 509.3C307.4 509.3 307.1 472 306.9 467.5C306.2 453.4 305.4 452 304.7 446C304 440 303.2 436 302.5 430.7C302 427.1 301.5 422.9 301 419.3C300.5 416 300.1 412.2 299.6 409.8C298.9 406.1 298.1 403.6 297.4 401.1C296.4 397.8 295.5 394 294.5 392.3C293.5 390.5 292.5 389.6 291.5 388.6C289.6 386.8 287.6 385.3 285.7 384.3C283.3 383 280.8 381.5 278.4 381.3C273.5 380.8 268.7 380.6 263.8 380.6C258.9 380.6 254.1 381.5 249.2 381.8C244.3 382.1 239.5 382.4 234.6 382.4C229.7 382.4 224.9 382.1 220 382.1C217.9 382.1 215.9 382.7 213.8 382.7C210.2 382.7 206.6 382.5 203 382.2C199.3 381.9 195.7 381 192 380.3C188.3 379.6 184.7 378.3 181 377.9C175.3 377.4 169.7 377.3 164 376.9C157.3 376.4 150.7 375.6 144 375.3C137.3 375 130.7 374.7 124 374.7C117.3 374.7 110.7 375 104 375.3C97.3 375.6 90.7 376.3 84 376.9C77.3 377.5 70.7 378.2 64 378.9C57.3 379.6 50.7 380.2 44 380.9Z" fill="#66c2a5" fill-opacity="0.5"/>
<path d="M44 360.3C50.7 360.9 57.3 361.6 64 362.3C70.7 363 77.3 364.1 84 364.7C90.7 365.3 97.3 365.9 104 366.3C110.7 366.7 117.3 367.1 124 367.1C130.7 367.1 137.3 366.9 144 366.7C150.7 366.5 157.3 365.1 164 364.3C169.7 363.6 175.3 363.1 181 362.2C184.7 361.6 188.3 360 192 359.6C195.7 359.2 199.3 358.9 203 358.9C206.6 358.9 210.2 358.9 213.8 358.9C215.9 358.9 217.9 359.3 220 359.4C224.9 359.6 229.7 359.7 234.6 359.8C239.5 359.9 244.3 360.1 249.2 360.1C254.1 360.1 258.9 359.7 263.8 359.4C268.7 359.1 273.5 358.8 278.4 357.9C280.8 357.5 283.3 356.4 285.7 355C287.6 353.9 289.6 352.2 291.5 349.9C293 348.2 294.4 345.8 295.9 342.6C296.9 340.5 297.8 337.7 298.8 333.8C299.5 330.8 300.3 326.2 301 320.7C301.7 315.7 302.3 306.5 303 300.7C303.6 295.8 304.1 292.4 304.7 287.7C305.2 283.5 305.7 282.4 306.2 274C306.5 269.5 306.7 230.7 307 230.7C309 230.7 311 230.7 313 230.7L313 509.3C311.2 509.3 309.4 509.3 307.6 509.3C307.4 509.3 307.1 472 306.9 467.5C306.2 453.4 305.4 452 304.7 446C304 440 303.2 436 302.5 430.7C302 427.1 301.5 422.9 301 419.3C300.5 416 300.1 412.2 299.6 409.8C298.9 406.1 298.1 403.6 297.4 401.1C296.4 397.8 295.5 394 294.5 392.3C293.5 390.5 292.5 389.6 291.5 388.6C289.6 386.8 287.6 385.3 285.7 384.3C283.3 383 280.8 381.5 278.4 381.3C273.5 380.8 268.7 380.6 263.8 380.6C258.9 380.6 254.1 381.5 249.2 381.8C244.3 382.1 239.5 382.4 234.6 382.4C229.7 382.4 224.9 382.1 220 382.1C217.9 382.1 215.9 382.7 213.8 382.7C210.2 382.7 206.6 382.5 203 382.2C199.3 381.9 195.7 381 192 380.3C188.3 379.6 184.7 378.3 181 377.9C175.3 377.4 169.7 377.3 164 376.9C157.3 376.4 150.7 375.6 144 375.3C137.3 375 130.7 374.7 124 374.7C117.3 374.7 110.7 375 104 375.3C97.3 375.6 90.7 376.3 84 376.9C77.3 377.5 70.7 378.2 64 378.9C57.3 379.6 50.7 380.2 44 380.9Z" fill="url(#hg_d)"/>
<path d="M44 343.6C50.7 347.1 57.3 350.3 64 353C70.7 355.7 77.3 358.4 84 360C90.7 361.6 97.3 362.7 104 363.6C110.7 364.5 117.3 365.2 124 365.8C130.7 366.4 137.3 366.9 144 367.2C150.7 367.5 157.3 367.8 164 367.8C169.7 367.8 175.3 367.8 181 367.8C184.7 367.8 188.3 368.3 192 368.7C195.7 369.1 199.3 370.3 203 370.3C206.6 370.3 210.2 369.8 213.8 369.4C215.9 369.2 217.9 368.7 220 368.3C224.9 367.3 229.7 365.5 234.6 364C239.5 362.5 244.3 360.2 249.2 359C254.1 357.8 258.9 356.4 263.8 356C268.7 355.6 273.5 355.8 278.4 355.3C280.3 355.1 282.3 353.8 284.2 352.4C285.7 351.4 287.1 349.6 288.6 347.3C289.8 345.4 291.1 342.2 292.3 338.5C293 336.3 293.8 333.3 294.5 329.8C295.1 327.1 295.6 324.2 296.2 320C296.7 316.3 297.2 310.1 297.7 304.4C298.2 299.1 298.6 293.3 299.1 286.9C299.4 282.8 299.7 280.8 300 273.3C300.2 267.5 300.5 230 300.7 230C304.8 230 308.9 230 313 230L313 510C311.2 510 309.4 510 307.6 510C307.4 510 307.1 472.6 306.9 468.2C306.2 454.4 305.4 453.1 304.7 447.2C304 441.3 303.2 437.2 302.5 431.9C302 428.3 301.5 424.1 301 420.5C300.5 417.2 300.1 413.4 299.6 411C298.9 407.3 298.1 404.8 297.4 402.3C296.4 399 295.5 395.6 294.5 393.5C293.5 391.4 292.5 389.1 291.5 388.6C289.6 387.7 287.6 387.6 285.7 387.2C283.3 386.7 280.8 385.7 278.4 385.7C273.5 385.7 268.7 385.7 263.8 385.7C258.9 385.7 254.1 386 249.2 386.4C244.3 386.8 239.5 387.5 234.6 388.6C232.2 389.2 229.7 390.4 227.3 391.5C224.9 392.6 222.4 394.4 220 395.2C217.9 395.9 215.9 396.7 213.8 396.7C210.2 396.7 206.6 396.2 203 395.6C199.3 395 195.7 393.6 192 392.2C188.3 390.8 184.7 387.9 181 386.8C175.3 385.1 169.7 384.2 164 383.2C157.3 382 150.7 380.7 144 380.2C137.3 379.7 130.7 379.6 124 379.2C117.3 378.8 110.7 378 104 378C97.3 378 90.7 378.5 84 379C77.3 379.5 70.7 381.9 64 383C57.3 384.1 50.7 385.2 44 386Z" fill="#fc8d62" fill-opacity="0.5"/>
<path d="M44 343.6C50.7 347.1 57.3 350.3 64 353C70.7 355.7 77.3 358.4 84 360C90.7 361.6 97.3 362.7 104 363.6C110.7 364.5 117.3 365.2 124 365.8C130.7 366.4 137.3 366.9 144 367.2C150.7 367.5 157.3 367.8 164 367.8C169.7 367.8 175.3 367.8 181 367.8C184.7 367.8 188.3 368.3 192 368.7C195.7 369.1 199.3 370.3 203 370.3C206.6 370.3 210.2 369.8 213.8 369.4C215.9 369.2 217.9 368.7 220 368.3C224.9 367.3 229.7 365.5 234.6 364C239.5 362.5 244.3 360.2 249.2 359C254.1 357.8 258.9 356.4 263.8 356C268.7 355.6 273.5 355.8 278.4 355.3C280.3 355.1 282.3 353.8 284.2 352.4C285.7 351.4 287.1 349.6 288.6 347.3C289.8 345.4 291.1 342.2 292.3 338.5C293 336.3 293.8 333.3 294.5 329.8C295.1 327.1 295.6 324.2 296.2 320C296.7 316.3 297.2 310.1 297.7 304.4C298.2 299.1 298.6 293.3 299.1 286.9C299.4 282.8 299.7 280.8 300 273.3C300.2 267.5 300.5 230 300.7 230C304.8 230 308.9 230 313 230L313 510C311.2 510 309.4 510 307.6 510C307.4 510 307.1 472.6 306.9 468.2C306.2 454.4 305.4 453.1 304.7 447.2C304 441.3 303.2 437.2 302.5 431.9C302 428.3 301.5 424.1 301 420.5C300.5 417.2 300.1 413.4 299.6 411C298.9 407.3 298.1 404.8 297.4 402.3C296.4 399 295.5 395.6 294.5 393.5C293.5 391.4 292.5 389.1 291.5 388.6C289.6 387.7 287.6 387.6 285.7 387.2C283.3 386.7 280.8 385.7 278.4 385.7C273.5 385.7 268.7 385.7 263.8 385.7C258.9 385.7 254.1 386 249.2 386.4C244.3 386.8 239.5 387.5 234.6 388.6C232.2 389.2 229.7 390.4 227.3 391.5C224.9 392.6 222.4 394.4 220 395.2C217.9 395.9 215.9 396.7 213.8 396.7C210.2 396.7 206.6 396.2 203 395.6C199.3 395 195.7 393.6 192 392.2C188.3 390.8 184.7 387.9 181 386.8C175.3 385.1 169.7 384.2 164 383.2C157.3 382 150.7 380.7 144 380.2C137.3 379.7 130.7 379.6 124 379.2C117.3 378.8 110.7 378 104 378C97.3 378 90.7 378.5 84 379C77.3 379.5 70.7 381.9 64 383C57.3 384.1 50.7 385.2 44 386Z" fill="url(#ho_d)"/>
<path d="M43.5 370.9H312.8" stroke="#66c2a5" stroke-width="1.5" fill="none"/>
<path d="M44 359.6C50.7 360.2 57.3 360.9 64 361.6C70.7 362.3 77.3 363.4 84 364C90.7 364.6 97.3 365.2 104 365.6C110.7 366 117.3 366.4 124 366.4C130.7 366.4 137.3 366.2 144 366C150.7 365.8 157.3 364.4 164 363.6C169.7 362.9 175.3 362.4 181 361.5C184.7 360.9 188.3 359.3 192 358.9C195.7 358.5 199.3 358.2 203 358.2C206.6 358.2 210.2 358.2 213.8 358.2C215.9 358.2 217.9 358.6 220 358.7C224.9 358.9 229.7 359 234.6 359.1C239.5 359.2 244.3 359.4 249.2 359.4C254.1 359.4 258.9 359 263.8 358.7C268.7 358.4 273.5 358.1 278.4 357.2C280.8 356.8 283.3 355.7 285.7 354.3C287.6 353.2 289.6 351.5 291.5 349.2C293 347.5 294.4 345.1 295.9 341.9C296.9 339.8 297.8 337 298.8 333.1C299.5 330.1 300.3 325.5 301 320C301.7 315 302.3 305.8 303 300C303.6 295.1 304.1 291.7 304.7 287C305.2 282.8 305.7 281.7 306.2 273.3C306.5 268.8 306.7 230 307 230C309 230 311 230 313 230" stroke="#66c2a5" stroke-width="1.5" fill="none" stroke-dasharray="5.6 2.4" stroke-linejoin="round"/>
<path d="M44 381.6C50.7 380.9 57.3 380.3 64 379.6C70.7 378.9 77.3 378.2 84 377.6C90.7 377 97.3 376.3 104 376C110.7 375.7 117.3 375.4 124 375.4C130.7 375.4 137.3 375.7 144 376C150.7 376.3 157.3 377.1 164 377.6C169.7 378 175.3 378.1 181 378.6C184.7 379 188.3 380.3 192 381C195.7 381.7 199.3 382.6 203 382.9C206.6 383.2 210.2 383.4 213.8 383.4C215.9 383.4 217.9 382.8 220 382.8C224.9 382.8 229.7 383.1 234.6 383.1C239.5 383.1 244.3 382.8 249.2 382.5C254.1 382.2 258.9 381.3 263.8 381.3C268.7 381.3 273.5 381.5 278.4 382C280.8 382.2 283.3 383.7 285.7 385C287.6 386 289.6 387.5 291.5 389.3C292.5 390.3 293.5 391.2 294.5 393C295.5 394.7 296.4 398.5 297.4 401.8C298.1 404.3 298.9 406.8 299.6 410.5C300.1 412.9 300.5 416.7 301 420C301.5 423.6 302 427.8 302.5 431.4C303.2 436.7 304 440.7 304.7 446.7C305.4 452.7 306.2 454.1 306.9 468.2C307.1 472.7 307.4 510 307.6 510C309.4 510 311.2 510 313 510" stroke="#66c2a5" stroke-width="1.5" fill="none" stroke-dasharray="5.6 2.4" stroke-linejoin="round"/>
<path d="M44 365C50.7 366.2 57.3 367.2 64 368C70.7 368.8 77.3 369.4 84 370C90.7 370.6 97.3 371.2 104 371.6C110.7 372 117.3 372.1 124 372.4C130.7 372.7 137.3 373.2 144 373.6C150.7 374 157.3 374.5 164 375C169.7 375.4 175.3 375.6 181 376.2C184.7 376.6 188.3 377.1 192 377.8C195.7 378.5 199.3 380.4 203 381C206.6 381.5 210.2 382.1 213.8 382.1C215.9 382.1 217.9 381.1 220 380.6C224.9 379.3 229.7 377.4 234.6 376.2C239.5 375 244.3 374.1 249.2 373.3C254.1 372.5 258.9 371.4 263.8 371.4C268.7 371.4 273.5 372.3 278.4 372.3C280.3 372.3 282.3 371.6 284.2 370.8C285.7 370.2 287.1 368.5 288.6 366.7C290.1 364.9 291.5 362.2 293 359.4C294.5 356.6 295.9 353.6 297.4 349.2C298.4 346.3 299.3 341.7 300.3 337.5C301 334.3 301.8 331.6 302.5 327.3C302.8 325.4 303.2 323.3 303.5 320C304 315.1 304.5 303.7 305 295C305.4 288 305.8 285.5 306.2 273C306.4 266.7 306.6 247.9 306.8 230" stroke="#fc8d62" stroke-width="1.5" fill="none" stroke-linejoin="round"/>
<path d="M44 341.6C50.7 344.5 57.3 347.3 64 350C70.7 352.7 77.3 356.1 84 358C90.7 359.9 97.3 361.3 104 362.4C110.7 363.5 117.3 364.4 124 365C130.7 365.6 137.3 366.1 144 366.4C150.7 366.7 157.3 367 164 367C169.7 367 175.3 367 181 367C184.7 367 188.3 367.5 192 367.9C195.7 368.3 199.3 369.4 203 369.4C206.6 369.4 210.2 368.9 213.8 368.5C215.9 368.3 217.9 367.8 220 367.4C224.9 366.4 229.7 364.7 234.6 363.1C239.5 361.5 244.3 359.3 249.2 358C254.1 356.7 258.9 355.4 263.8 355C268.7 354.6 273.5 354.8 278.4 354.3C280.3 354.1 282.3 352.8 284.2 351.4C285.7 350.4 287.1 348.6 288.6 346.3C289.8 344.4 291.1 341.2 292.3 337.5C293 335.3 293.8 332.4 294.5 328.8C295 326.5 295.4 323.6 295.9 320C296.4 316.1 296.9 310.1 297.4 304.4C297.9 299.1 298.3 293.3 298.8 286.9C299.1 282.8 299.4 280.8 299.7 273.3C299.9 267.5 300.2 230 300.4 230C304.6 230 308.8 230 313 230" stroke="#fc8d62" stroke-width="1.5" fill="none" stroke-dasharray="5.6 2.4" stroke-linejoin="round"/>
<path d="M44 388C50.7 388 57.3 387.5 64 387C70.7 386.5 77.3 385 84 384C90.7 383 97.3 381.5 104 381C110.7 380.5 117.3 380 124 380C130.7 380 137.3 380.5 144 381C150.7 381.5 157.3 382.8 164 384C169.7 385 175.3 385.9 181 387.6C184.7 388.7 188.3 391.6 192 393C195.7 394.4 199.3 395.8 203 396.4C206.6 397 210.2 397.5 213.8 397.5C215.9 397.5 217.9 396.5 220 395.9C222.4 395.2 224.9 394.4 227.3 393.7C229.7 393 232.2 392.2 234.6 391.8C239.5 391.1 244.3 390.7 249.2 390.4C254.1 390.1 258.9 389.8 263.8 389.8C266.2 389.8 268.7 390.4 271.1 390.8C273.5 391.2 276 392.7 278.4 392.7C280.3 392.7 282.3 392.7 284.2 392.7C285.7 392.7 287.1 391.6 288.6 390.8C289.6 390.3 290.5 388.6 291.5 388.6C292.5 388.6 293.5 391.4 294.5 393.5C295.5 395.6 296.4 399 297.4 402.3C298.1 404.8 298.9 407.3 299.6 411C300.1 413.4 300.5 417.2 301 420.5C301.5 424.1 302 428.3 302.5 431.9C303.2 437.2 304 441.3 304.7 447.2C305.4 453.1 306.2 454.4 306.9 468.2C307.1 472.6 307.4 510 307.6 510C309.4 510 311.2 510 313 510" stroke="#fc8d62" stroke-width="1.5" fill="none" stroke-dasharray="5.6 2.4" stroke-linejoin="round"/>
<path d="M307.5 468.2C307.8 462 308.2 455.9 308.5 450C308.8 445.2 309 436 309.3 436C309.5 436 309.8 445.5 310 450C310.3 456.4 310.7 462.5 311 468.2" stroke="#fc8d62" stroke-width="1.5" fill="none"/>
</g>
<path d="M43.5 273.5V468.4H326.6" stroke="#1a1a1a" stroke-width="1" fill="none" stroke-linecap="square"/>
<path d="M63.4 468.4v3.5M128.6 468.4v3.5M193.8 468.4v3.5M259 468.4v3.5M324.2 468.4v3.5" stroke="#1a1a1a" stroke-width="1" fill="none"/>
<path d="M43.8 468.4v2.1M48.9 468.4v2.1M53.3 468.4v2.1M57.1 468.4v2.1M60.4 468.4v2.1M83 468.4v2.1M94.5 468.4v2.1M102.7 468.4v2.1M109 468.4v2.1M114.1 468.4v2.1M118.5 468.4v2.1M122.3 468.4v2.1M125.6 468.4v2.1M148.2 468.4v2.1M159.7 468.4v2.1M167.9 468.4v2.1M174.2 468.4v2.1M179.3 468.4v2.1M183.7 468.4v2.1M187.5 468.4v2.1M190.8 468.4v2.1M213.4 468.4v2.1M224.9 468.4v2.1M233.1 468.4v2.1M239.4 468.4v2.1M244.5 468.4v2.1M248.9 468.4v2.1M252.7 468.4v2.1M256 468.4v2.1M278.6 468.4v2.1M290.1 468.4v2.1M298.3 468.4v2.1M304.6 468.4v2.1M309.7 468.4v2.1M314.1 468.4v2.1M317.9 468.4v2.1M321.2 468.4v2.1" stroke="#1a1a1a" stroke-width="0.8" fill="none"/>
<path d="M43.5 273.5h-3.5M43.5 306h-3.5M43.5 338.5h-3.5M43.5 370.9h-3.5M43.5 403.4h-3.5M43.5 435.9h-3.5M43.5 468.4h-3.5" stroke="#1a1a1a" stroke-width="1" fill="none"/>
<text x="13" y="277.4" font-size="10.5" text-anchor="start" textLength="23.4" lengthAdjust="spacingAndGlyphs">1.15</text>
<text x="13" y="309.9" font-size="10.5" text-anchor="start" textLength="23.4" lengthAdjust="spacingAndGlyphs">1.10</text>
<text x="13" y="342.4" font-size="10.5" text-anchor="start" textLength="23.4" lengthAdjust="spacingAndGlyphs">1.05</text>
<text x="13" y="374.8" font-size="10.5" text-anchor="start" textLength="23.4" lengthAdjust="spacingAndGlyphs">1.00</text>
<text x="13" y="407.3" font-size="10.5" text-anchor="start" textLength="23.4" lengthAdjust="spacingAndGlyphs">0.95</text>
<text x="13" y="439.8" font-size="10.5" text-anchor="start" textLength="23.4" lengthAdjust="spacingAndGlyphs">0.90</text>
<text x="13" y="472.3" font-size="10.5" text-anchor="start" textLength="23.4" lengthAdjust="spacingAndGlyphs">0.85</text>
<text x="51" y="483" font-size="10.5" text-anchor="start" textLength="13.4" lengthAdjust="spacingAndGlyphs">10</text>
<text x="64.7" y="479" font-size="7.5" text-anchor="start" textLength="11.1" lengthAdjust="spacingAndGlyphs">−4</text>
<text x="116.2" y="483" font-size="10.5" text-anchor="start" textLength="13.4" lengthAdjust="spacingAndGlyphs">10</text>
<text x="129.9" y="479" font-size="7.5" text-anchor="start" textLength="11.1" lengthAdjust="spacingAndGlyphs">−3</text>
<text x="181.4" y="483" font-size="10.5" text-anchor="start" textLength="13.4" lengthAdjust="spacingAndGlyphs">10</text>
<text x="195.1" y="479" font-size="7.5" text-anchor="start" textLength="11.1" lengthAdjust="spacingAndGlyphs">−2</text>
<text x="246.6" y="483" font-size="10.5" text-anchor="start" textLength="13.4" lengthAdjust="spacingAndGlyphs">10</text>
<text x="260.3" y="479" font-size="7.5" text-anchor="start" textLength="11.1" lengthAdjust="spacingAndGlyphs">−1</text>
<text x="315" y="483" font-size="10.5" text-anchor="start" textLength="13.4" lengthAdjust="spacingAndGlyphs">10</text>
<text x="328.6" y="479" font-size="7.5" text-anchor="start" textLength="4.8" lengthAdjust="spacingAndGlyphs">0</text>
<text x="181.9" y="496.4" font-size="10.5" text-anchor="start" textLength="6.2" lengthAdjust="spacingAndGlyphs">x</text>
<text transform="translate(7.9 419.5) rotate(-90)" font-size="10.5" text-anchor="start" textLength="97" lengthAdjust="spacingAndGlyphs">Ratio to NNPDF4.0</text>
<text x="143.5" y="267.4" font-size="12.6" text-anchor="start" textLength="83" lengthAdjust="spacingAndGlyphs">d at 100 GeV</text>
<rect x="46.3" y="278.5" width="274.5" height="34.3" rx="2.2" ry="2.2" fill="#fff" fill-opacity="0.8" stroke="#ccc" stroke-opacity="0.8" stroke-width="1"/>
<rect x="51" y="283.2" width="20.5" height="7.1" fill="#66c2a5" fill-opacity="0.5"/>
<path d="M61.6 290.4L68.7 283.2" stroke="#444" stroke-width="1" stroke-opacity="0.75"/>
<rect x="51" y="283.2" width="20.5" height="7.1" fill="none" stroke="#66c2a5" stroke-width="1.3" stroke-dasharray="3.1 1.4"/>
<text x="80.7" y="290.8" font-size="10.5" text-anchor="start" textLength="118.6" lengthAdjust="spacingAndGlyphs">NNPDF4.0 (68 c.l.+1σ)</text>
<rect x="51" y="298.9" width="20.5" height="7.1" fill="#fc8d62" fill-opacity="0.5"/>
<path d="M58.9 298.9L66 306" stroke="#444" stroke-width="1" stroke-opacity="0.75"/>
<rect x="51" y="298.9" width="20.5" height="7.1" fill="none" stroke="#fc8d62" stroke-width="1.3" stroke-dasharray="3.1 1.4"/>
<text x="80.7" y="306.4" font-size="10.5" text-anchor="start" textLength="235.6" lengthAdjust="spacingAndGlyphs">NNPDF3.1-like (NNPDF3.1 meth) (68 c.l.+1σ)</text>
</g>
<g id="panel_dbar">
<path d="M415.8 273.5V468.4M481 273.5V468.4M546.2 273.5V468.4M611.4 273.5V468.4M676.6 273.5V468.4M395.6 273.5H679M395.6 306H679M395.6 338.5H679M395.6 370.9H679M395.6 403.4H679M395.6 435.9H679M395.6 468.4H679" stroke="#f5f5f5" stroke-width="0.9" fill="none"/>
<g clip-path="url(#cp_dbar)">
<path d="M396.3 359.7C402.9 360.3 409.4 361 416 361.7C422.7 362.5 429.3 363.5 436 364.3C442.7 365.1 449.3 366.1 456 366.3C462.7 366.5 469.3 366.7 476 366.7C482.7 366.7 489.3 366.1 496 365.7C502.7 365.3 509.3 364.1 516 363.7C519.7 363.5 523.3 363.4 527 363.2C534.7 362.7 542.3 360.4 550 359.1C556.7 358 563.3 357.2 570 356C574.9 355.1 579.7 354.2 584.6 353.1C589.5 352 594.3 350.8 599.2 349.5C604.1 348.2 608.9 346.8 613.8 345.1C617.2 343.9 620.6 343.3 624 340.7C625.3 339.7 626.7 336.2 628 333.7C628.9 331.9 629.9 330.3 630.8 328C632 325.1 633.1 321.8 634.3 316.4C635.1 312.9 635.8 305.7 636.6 300.3C637.4 294.9 638.1 290.5 638.9 284.2C639.3 281.2 639.6 280.4 640 273.7C640.2 270.1 640.4 230.7 640.6 230.7C648.8 230.7 657 230.7 665.2 230.7L665.2 509.3C657.1 509.3 649 509.3 640.9 509.3C640.7 509.3 640.5 470 640.3 467.3C640 462.7 639.6 462.6 639.3 460.3C638.9 457.3 638.4 454.4 638 451.3C637.5 447.5 636.9 443 636.4 439.3C635.7 434.2 634.9 429 634.2 425.4C633.2 420.6 632.3 416.3 631.3 413.8C629.8 410 628.4 407.5 626.9 405.7C624.5 402.7 622 401 619.6 399.2C616.7 397.1 613.8 395.2 610.9 394C607 392.4 603.1 391.2 599.2 390.4C594.3 389.4 589.5 389 584.6 388.2C579.7 387.4 574.9 386.2 570 385.3C563.3 384.1 556.7 382.9 550 381.8C542.3 380.5 534.7 378.5 527 377.9C523.3 377.6 519.7 377.5 516 377.3C509.3 376.9 502.7 376.1 496 375.7C489.3 375.3 482.7 374.9 476 374.9C469.3 374.9 462.7 375.1 456 375.3C449.3 375.5 442.7 376.6 436 377.3C429.3 378 422.7 378.6 416 379.3C409.4 380 402.9 380.8 396.3 381.7Z" fill="#66c2a5" fill-opacity="0.5"/>
<path d="M396.3 359.7C402.9 360.3 409.4 361 416 361.7C422.7 362.5 429.3 363.5 436 364.3C442.7 365.1 449.3 366.1 456 366.3C462.7 366.5 469.3 366.7 476 366.7C482.7 366.7 489.3 366.1 496 365.7C502.7 365.3 509.3 364.1 516 363.7C519.7 363.5 523.3 363.4 527 363.2C534.7 362.7 542.3 360.4 550 359.1C556.7 358 563.3 357.2 570 356C574.9 355.1 579.7 354.2 584.6 353.1C589.5 352 594.3 350.8 599.2 349.5C604.1 348.2 608.9 346.8 613.8 345.1C617.2 343.9 620.6 343.3 624 340.7C625.3 339.7 626.7 336.2 628 333.7C628.9 331.9 629.9 330.3 630.8 328C632 325.1 633.1 321.8 634.3 316.4C635.1 312.9 635.8 305.7 636.6 300.3C637.4 294.9 638.1 290.5 638.9 284.2C639.3 281.2 639.6 280.4 640 273.7C640.2 270.1 640.4 230.7 640.6 230.7C648.8 230.7 657 230.7 665.2 230.7L665.2 509.3C657.1 509.3 649 509.3 640.9 509.3C640.7 509.3 640.5 470 640.3 467.3C640 462.7 639.6 462.6 639.3 460.3C638.9 457.3 638.4 454.4 638 451.3C637.5 447.5 636.9 443 636.4 439.3C635.7 434.2 634.9 429 634.2 425.4C633.2 420.6 632.3 416.3 631.3 413.8C629.8 410 628.4 407.5 626.9 405.7C624.5 402.7 622 401 619.6 399.2C616.7 397.1 613.8 395.2 610.9 394C607 392.4 603.1 391.2 599.2 390.4C594.3 389.4 589.5 389 584.6 388.2C579.7 387.4 574.9 386.2 570 385.3C563.3 384.1 556.7 382.9 550 381.8C542.3 380.5 534.7 378.5 527 377.9C523.3 377.6 519.7 377.5 516 377.3C509.3 376.9 502.7 376.1 496 375.7C489.3 375.3 482.7 374.9 476 374.9C469.3 374.9 462.7 375.1 456 375.3C449.3 375.5 442.7 376.6 436 377.3C429.3 378 422.7 378.6 416 379.3C409.4 380 402.9 380.8 396.3 381.7Z" fill="url(#hg_dbar)"/>
<path d="M396.3 343C402.9 345.7 409.4 348.4 416 351C422.7 353.7 429.3 357.4 436 359C442.7 360.6 449.3 361.5 456 362.4C462.7 363.3 469.3 364 476 364.8C482.7 365.6 489.3 366.4 496 367.2C502.7 368 509.3 369.1 516 369.8C519.7 370.2 523.3 370.8 527 370.8C534.7 370.8 542.3 370.3 550 369.8C556.7 369.4 563.3 367.6 570 367.6C574.9 367.6 579.7 368.3 584.6 368.3C589.5 368.3 594.3 367.6 599.2 367.6C601.6 367.6 604.1 368.5 606.5 369.6C608.4 370.5 610.4 375.8 612.3 375.8C614.3 375.8 616.2 374.6 618.2 374.6C620.1 374.6 622.1 377.5 624 379.4C626 381.3 627.9 383.6 629.9 386.7C631.3 388.9 632.8 394.2 634.2 395.5C634.9 396.2 635.7 396.9 636.4 396.9C637.1 396.9 637.9 395.1 638.6 392.6C639.1 390.9 639.6 382.9 640.1 376.5C640.6 370.5 641 362.5 641.5 354.6C641.8 350.1 642 347.9 642.3 340C642.5 334.1 642.7 310.7 642.9 300C643.1 289.3 643.3 284.9 643.5 273C643.7 263.1 643.8 230 644 230C651.1 230 658.1 230 665.2 230L665.2 510C652.8 510 640.4 510 628 510C627.7 510 627.3 469.8 627 468C626.4 464.9 625.9 465.1 625.3 463.4C624.2 460 623 456.3 621.9 451.9C621 448.4 620.1 443.2 619.2 440C618.4 437 617.5 434.4 616.7 432.4C615.2 428.8 613.8 425.7 612.3 423.7C610.4 421.1 608.4 419.1 606.5 417.8C604.1 416.2 601.6 414.9 599.2 414.2C596.8 413.5 594.3 413 591.9 412.6C589.5 412.2 587 412.2 584.6 411.8C582.2 411.4 579.7 410.8 577.3 410.2C574.9 409.6 572.4 408.3 570 408C567.2 407.6 564.4 407.6 561.6 407.3C557.7 406.8 553.9 405.7 550 404.7C546.2 403.7 542.3 402.4 538.5 401C534.7 399.6 530.8 397.5 527 396C523.3 394.5 519.7 393.2 516 392C509.3 389.8 502.7 387.7 496 386C489.3 384.3 482.7 382.7 476 381.4C469.3 380.1 462.7 378 456 378C449.3 378 442.7 379.1 436 380C429.3 380.9 422.7 382.9 416 383.6C409.4 384.3 402.9 384.9 396.3 385Z" fill="#fc8d62" fill-opacity="0.5"/>
<path d="M396.3 343C402.9 345.7 409.4 348.4 416 351C422.7 353.7 429.3 357.4 436 359C442.7 360.6 449.3 361.5 456 362.4C462.7 363.3 469.3 364 476 364.8C482.7 365.6 489.3 366.4 496 367.2C502.7 368 509.3 369.1 516 369.8C519.7 370.2 523.3 370.8 527 370.8C534.7 370.8 542.3 370.3 550 369.8C556.7 369.4 563.3 367.6 570 367.6C574.9 367.6 579.7 368.3 584.6 368.3C589.5 368.3 594.3 367.6 599.2 367.6C601.6 367.6 604.1 368.5 606.5 369.6C608.4 370.5 610.4 375.8 612.3 375.8C614.3 375.8 616.2 374.6 618.2 374.6C620.1 374.6 622.1 377.5 624 379.4C626 381.3 627.9 383.6 629.9 386.7C631.3 388.9 632.8 394.2 634.2 395.5C634.9 396.2 635.7 396.9 636.4 396.9C637.1 396.9 637.9 395.1 638.6 392.6C639.1 390.9 639.6 382.9 640.1 376.5C640.6 370.5 641 362.5 641.5 354.6C641.8 350.1 642 347.9 642.3 340C642.5 334.1 642.7 310.7 642.9 300C643.1 289.3 643.3 284.9 643.5 273C643.7 263.1 643.8 230 644 230C651.1 230 658.1 230 665.2 230L665.2 510C652.8 510 640.4 510 628 510C627.7 510 627.3 469.8 627 468C626.4 464.9 625.9 465.1 625.3 463.4C624.2 460 623 456.3 621.9 451.9C621 448.4 620.1 443.2 619.2 440C618.4 437 617.5 434.4 616.7 432.4C615.2 428.8 613.8 425.7 612.3 423.7C610.4 421.1 608.4 419.1 606.5 417.8C604.1 416.2 601.6 414.9 599.2 414.2C596.8 413.5 594.3 413 591.9 412.6C589.5 412.2 587 412.2 584.6 411.8C582.2 411.4 579.7 410.8 577.3 410.2C574.9 409.6 572.4 408.3 570 408C567.2 407.6 564.4 407.6 561.6 407.3C557.7 406.8 553.9 405.7 550 404.7C546.2 403.7 542.3 402.4 538.5 401C534.7 399.6 530.8 397.5 527 396C523.3 394.5 519.7 393.2 516 392C509.3 389.8 502.7 387.7 496 386C489.3 384.3 482.7 382.7 476 381.4C469.3 380.1 462.7 378 456 378C449.3 378 442.7 379.1 436 380C429.3 380.9 422.7 382.9 416 383.6C409.4 384.3 402.9 384.9 396.3 385Z" fill="url(#ho_dbar)"/>
<path d="M395.6 370.9H665.2" stroke="#66c2a5" stroke-width="1.5" fill="none"/>
<path d="M396.3 359C402.9 359.6 409.4 360.3 416 361C422.7 361.8 429.3 362.8 436 363.6C442.7 364.4 449.3 365.4 456 365.6C462.7 365.8 469.3 366 476 366C482.7 366 489.3 365.4 496 365C502.7 364.6 509.3 363.4 516 363C519.7 362.8 523.3 362.7 527 362.5C534.7 362 542.3 359.7 550 358.4C556.7 357.3 563.3 356.5 570 355.3C574.9 354.4 579.7 353.5 584.6 352.4C589.5 351.3 594.3 350.1 599.2 348.8C604.1 347.5 608.9 346.1 613.8 344.4C617.2 343.2 620.6 342.6 624 340C625.3 339 626.7 335.5 628 333C628.9 331.2 629.9 329.6 630.8 327.3C632 324.4 633.1 321.1 634.3 315.7C635.1 312.2 635.8 305 636.6 299.6C637.4 294.2 638.1 289.8 638.9 283.5C639.3 280.5 639.6 279.7 640 273C640.2 269.4 640.4 230 640.6 230C648.8 230 657 230 665.2 230" stroke="#66c2a5" stroke-width="1.5" fill="none" stroke-dasharray="5.6 2.4" stroke-linejoin="round"/>
<path d="M396.3 382.4C402.9 381.5 409.4 380.7 416 380C422.7 379.3 429.3 378.7 436 378C442.7 377.3 449.3 376.2 456 376C462.7 375.8 469.3 375.6 476 375.6C482.7 375.6 489.3 376 496 376.4C502.7 376.8 509.3 377.6 516 378C519.7 378.2 523.3 378.3 527 378.6C534.7 379.2 542.3 381.2 550 382.5C556.7 383.6 563.3 384.8 570 386C574.9 386.9 579.7 388.1 584.6 388.9C589.5 389.7 594.3 390.1 599.2 391.1C603.1 391.9 607 393.1 610.9 394.7C613.8 395.9 616.7 397.8 619.6 399.9C622 401.7 624.5 403.4 626.9 406.4C628.4 408.2 629.8 410.7 631.3 414.5C632.3 417 633.2 421.3 634.2 426.1C634.9 429.7 635.7 434.9 636.4 440C636.9 443.7 637.5 448.2 638 452C638.4 455.1 638.9 458 639.3 461C639.6 463.3 640 463.4 640.3 468C640.5 470.7 640.7 510 640.9 510C649 510 657.1 510 665.2 510" stroke="#66c2a5" stroke-width="1.5" fill="none" stroke-dasharray="5.6 2.4" stroke-linejoin="round"/>
<path d="M396.3 363.6C402.9 365 409.4 366.2 416 367C422.7 367.8 429.3 368.3 436 369C442.7 369.7 449.3 370.3 456 371C462.7 371.7 469.3 372.2 476 373C482.7 373.8 489.3 375 496 376C502.7 377 509.3 377.8 516 379C519.7 379.7 523.3 380.8 527 381.5C534.7 383 542.3 384.3 550 385.5C556.7 386.5 563.3 387.2 570 388.2C574.9 388.9 579.7 389.8 584.6 390.4C589.5 391 594.3 391 599.2 391.8C602.6 392.3 606 393.6 609.4 395.5C611.8 396.8 614.3 399.5 616.7 402.8C618.2 404.8 619.6 408.2 621.1 411.5C622.6 414.8 624 418.6 625.5 423.2C627 427.8 628.4 433.7 629.9 440C630.9 444.4 632 449.7 633 455C633.8 459.1 634.6 459.6 635.4 468C635.8 471.8 636.1 492.2 636.5 510" stroke="#fc8d62" stroke-width="1.5" fill="none" stroke-linejoin="round"/>
<path d="M396.3 340.4C402.9 342.9 409.4 345.4 416 348C422.7 350.6 429.3 353.9 436 356C442.7 358.1 449.3 359.8 456 361C462.7 362.2 469.3 363.1 476 364C482.7 364.9 489.3 365.6 496 366.4C502.7 367.2 509.3 368.3 516 369C519.7 369.4 523.3 370 527 370C534.7 370 542.3 369.5 550 369C556.7 368.6 563.3 367 570 367C574.9 367 579.7 367.7 584.6 367.7C587 367.7 589.5 367.2 591.9 367C595.8 366.6 599.7 366 603.6 366C606 366 608.5 367.6 610.9 368.5C613.3 369.4 615.8 370.2 618.2 371.4C620.6 372.6 623.1 374.7 625.5 376.5C627.4 377.9 629.4 380.4 631.3 380.9C632.8 381.3 634.2 381.6 635.7 381.6C636.7 381.6 637.6 380.1 638.6 378C639.1 376.9 639.6 373.4 640.1 369.2C640.5 366.2 640.8 361.1 641.2 354.6C641.4 351.1 641.6 346.4 641.8 340C642.1 331.4 642.3 311.6 642.6 300C642.8 289.9 643.1 284.1 643.3 273C643.5 261.9 643.8 230 644 230C651.1 230 658.1 230 665.2 230" stroke="#fc8d62" stroke-width="1.5" fill="none" stroke-dasharray="5.6 2.4" stroke-linejoin="round"/>
<path d="M396.3 388C402.9 387.4 409.4 386.7 416 386C422.7 385.3 429.3 384.4 436 383.6C442.7 382.8 449.3 381 456 381C462.7 381 469.3 381.7 476 382.4C482.7 383.1 489.3 385.3 496 387C502.7 388.7 509.3 390.8 516 393C519.7 394.2 523.3 395.5 527 397C530.8 398.5 534.7 400.6 538.5 402C542.3 403.4 546.2 404.7 550 405.7C553.9 406.7 557.7 407.7 561.6 408.3C564.4 408.7 567.2 408.8 570 409.3C572.4 409.7 574.9 410.9 577.3 411.5C579.7 412.1 582.2 412.7 584.6 413C587 413.3 589.5 413.4 591.9 413.7C594.3 414 596.8 414.5 599.2 415.2C601.6 415.9 604.1 417.2 606.5 418.8C608.4 420.1 610.4 422.1 612.3 424.7C613.8 426.7 615.2 429.8 616.7 433.4C617.4 435.2 618.2 437.4 618.9 440C619.8 443.2 620.7 448.4 621.6 451.9C622.7 456.3 623.9 459.9 625 463.4C625.5 465 626.1 464.9 626.6 468C626.9 469.9 627.3 510 627.6 510C640.1 510 652.7 510 665.2 510" stroke="#fc8d62" stroke-width="1.5" fill="none" stroke-dasharray="5.6 2.4" stroke-linejoin="round"/>
<path d="M648.8 468C649.1 459.5 649.5 450.1 649.8 440C650.2 427.9 650.6 409.9 651 400C651.3 393.4 651.5 383.8 651.8 383.8C652.1 383.8 652.5 393.2 652.8 400C653.3 409.5 653.7 428 654.2 440C654.6 450.2 655 459.6 655.4 468" stroke="#fc8d62" stroke-width="1.5" fill="none"/>
<path d="M609.4 395.5C612.3 395.9 615.3 398.5 618.2 401.3C620.6 403.6 623.1 408.2 625.5 413C627.4 416.8 629.4 422 631.3 427.6C632.5 431.2 633.8 435.4 635 440C636.2 444.4 637.3 449.5 638.5 455C639.3 458.9 640.2 463.3 641 468" stroke="#fc8d62" stroke-width="1.5" fill="none"/>
</g>
<path d="M395.6 273.5V468.4H679" stroke="#1a1a1a" stroke-width="1" fill="none" stroke-linecap="square"/>
<path d="M415.8 468.4v3.5M481 468.4v3.5M546.2 468.4v3.5M611.4 468.4v3.5M676.6 468.4v3.5" stroke="#1a1a1a" stroke-width="1" fill="none"/>
<path d="M396.2 468.4v2.1M401.3 468.4v2.1M405.7 468.4v2.1M409.5 468.4v2.1M412.8 468.4v2.1M435.4 468.4v2.1M446.9 468.4v2.1M455.1 468.4v2.1M461.4 468.4v2.1M466.5 468.4v2.1M470.9 468.4v2.1M474.7 468.4v2.1M478 468.4v2.1M500.6 468.4v2.1M512.1 468.4v2.1M520.3 468.4v2.1M526.6 468.4v2.1M531.7 468.4v2.1M536.1 468.4v2.1M539.9 468.4v2.1M543.2 468.4v2.1M565.8 468.4v2.1M577.3 468.4v2.1M585.5 468.4v2.1M591.8 468.4v2.1M596.9 468.4v2.1M601.3 468.4v2.1M605.1 468.4v2.1M608.4 468.4v2.1M631 468.4v2.1M642.5 468.4v2.1M650.7 468.4v2.1M657 468.4v2.1M662.1 468.4v2.1M666.5 468.4v2.1M670.3 468.4v2.1M673.6 468.4v2.1" stroke="#1a1a1a" stroke-width="0.8" fill="none"/>
<path d="M395.6 273.5h-3.5M395.6 306h-3.5M395.6 338.5h-3.5M395.6 370.9h-3.5M395.6 403.4h-3.5M395.6 435.9h-3.5M395.6 468.4h-3.5" stroke="#1a1a1a" stroke-width="1" fill="none"/>
<text x="365.1" y="277.4" font-size="10.5" text-anchor="start" textLength="23.4" lengthAdjust="spacingAndGlyphs">1.15</text>
<text x="365.1" y="309.9" font-size="10.5" text-anchor="start" textLength="23.4" lengthAdjust="spacingAndGlyphs">1.10</text>
<text x="365.1" y="342.4" font-size="10.5" text-anchor="start" textLength="23.4" lengthAdjust="spacingAndGlyphs">1.05</text>
<text x="365.1" y="374.8" font-size="10.5" text-anchor="start" textLength="23.4" lengthAdjust="spacingAndGlyphs">1.00</text>
<text x="365.1" y="407.3" font-size="10.5" text-anchor="start" textLength="23.4" lengthAdjust="spacingAndGlyphs">0.95</text>
<text x="365.1" y="439.8" font-size="10.5" text-anchor="start" textLength="23.4" lengthAdjust="spacingAndGlyphs">0.90</text>
<text x="365.1" y="472.3" font-size="10.5" text-anchor="start" textLength="23.4" lengthAdjust="spacingAndGlyphs">0.85</text>
<text x="403.4" y="483" font-size="10.5" text-anchor="start" textLength="13.4" lengthAdjust="spacingAndGlyphs">10</text>
<text x="417.1" y="479" font-size="7.5" text-anchor="start" textLength="11.1" lengthAdjust="spacingAndGlyphs">−4</text>
<text x="468.6" y="483" font-size="10.5" text-anchor="start" textLength="13.4" lengthAdjust="spacingAndGlyphs">10</text>
<text x="482.3" y="479" font-size="7.5" text-anchor="start" textLength="11.1" lengthAdjust="spacingAndGlyphs">−3</text>
<text x="533.8" y="483" font-size="10.5" text-anchor="start" textLength="13.4" lengthAdjust="spacingAndGlyphs">10</text>
<text x="547.5" y="479" font-size="7.5" text-anchor="start" textLength="11.1" lengthAdjust="spacingAndGlyphs">−2</text>
<text x="599" y="483" font-size="10.5" text-anchor="start" textLength="13.4" lengthAdjust="spacingAndGlyphs">10</text>
<text x="612.7" y="479" font-size="7.5" text-anchor="start" textLength="11.1" lengthAdjust="spacingAndGlyphs">−1</text>
<text x="667.4" y="483" font-size="10.5" text-anchor="start" textLength="13.4" lengthAdjust="spacingAndGlyphs">10</text>
<text x="681" y="479" font-size="7.5" text-anchor="start" textLength="4.8" lengthAdjust="spacingAndGlyphs">0</text>
<text x="534.2" y="496.4" font-size="10.5" text-anchor="start" textLength="6.2" lengthAdjust="spacingAndGlyphs">x</text>
<text transform="translate(360 419.5) rotate(-90)" font-size="10.5" text-anchor="start" textLength="97" lengthAdjust="spacingAndGlyphs">Ratio to NNPDF4.0</text>
<text x="495.8" y="267.4" font-size="12.6" text-anchor="start" textLength="83" lengthAdjust="spacingAndGlyphs">d at 100 GeV</text>
<path d="M498 255.7h3.6" stroke="#000" stroke-width="1" fill="none"/>
<rect x="398.4" y="278.5" width="274.5" height="34.3" rx="2.2" ry="2.2" fill="#fff" fill-opacity="0.8" stroke="#ccc" stroke-opacity="0.8" stroke-width="1"/>
<rect x="403.1" y="283.2" width="20.5" height="7.1" fill="#66c2a5" fill-opacity="0.5"/>
<path d="M413.7 290.4L420.8 283.2" stroke="#444" stroke-width="1" stroke-opacity="0.75"/>
<rect x="403.1" y="283.2" width="20.5" height="7.1" fill="none" stroke="#66c2a5" stroke-width="1.3" stroke-dasharray="3.1 1.4"/>
<text x="432.8" y="290.8" font-size="10.5" text-anchor="start" textLength="118.6" lengthAdjust="spacingAndGlyphs">NNPDF4.0 (68 c.l.+1σ)</text>
<rect x="403.1" y="298.9" width="20.5" height="7.1" fill="#fc8d62" fill-opacity="0.5"/>
<path d="M411 298.9L418.1 306" stroke="#444" stroke-width="1" stroke-opacity="0.75"/>
<rect x="403.1" y="298.9" width="20.5" height="7.1" fill="none" stroke="#fc8d62" stroke-width="1.3" stroke-dasharray="3.1 1.4"/>
<text x="432.8" y="306.4" font-size="10.5" text-anchor="start" textLength="235.6" lengthAdjust="spacingAndGlyphs">NNPDF3.1-like (NNPDF3.1 meth) (68 c.l.+1σ)</text>
</g>
<g id="panel_s">
<path d="M63.4 529.2V724.4M128.6 529.2V724.4M193.8 529.2V724.4M259 529.2V724.4M324.2 529.2V724.4M43.5 529.2H326.6M43.5 561.7H326.6M43.5 594.3H326.6M43.5 626.8H326.6M43.5 659.3H326.6M43.5 691.9H326.6M43.5 724.4H326.6" stroke="#f5f5f5" stroke-width="0.9" fill="none"/>
<g clip-path="url(#cp_s)">
<path d="M44 616.7C50.7 617.6 57.3 618.5 64 619.1C70.7 619.7 77.3 620.3 84 620.7C90.7 621.1 97.3 621.7 104 621.7C110.7 621.7 117.3 621.4 124 621.1C130.7 620.8 137.3 619.9 144 619.1C150.7 618.3 157.3 617.4 164 616.3C169.7 615.4 175.3 614.1 181 612.9C184.7 612.1 188.3 611.2 192 610.3C195.7 609.4 199.3 608.4 203 607.5C206.6 606.6 210.2 605.4 213.8 604.9C215.9 604.6 217.9 604.6 220 604.3C222.4 603.9 224.9 603 227.3 602.1C229.7 601.2 232.2 599.9 234.6 598.4C237 596.9 239.5 594.8 241.9 592.6C244.3 590.4 246.8 588.1 249.2 585.3C251.6 582.5 254.1 578.7 256.5 575.1C257.5 573.7 258.4 572.5 259.4 570.7C261.7 566.5 264.1 559 266.4 553.4C268.6 548.1 270.8 542.6 273 538C274.4 535 275.9 536.2 277.3 529.7C277.6 528.2 278 490.7 278.3 490.7C289.9 490.7 301.4 490.7 313 490.7L313 769.3C301.4 769.3 289.9 769.3 278.3 769.3C278 769.3 277.6 725.4 277.3 723.3C275.9 714.4 274.4 715.4 273 711.8C270.8 706.3 268.6 701 266.4 696.3C264.2 691.6 262 686.8 259.8 683.3C257.6 679.8 255.5 677.2 253.3 674.6C251.4 672.4 249.6 670.5 247.7 668.6C245.8 666.6 243.8 664.4 241.9 662.7C239.5 660.5 237 658.4 234.6 656.9C232.2 655.4 229.7 654.5 227.3 653.2C224.9 651.9 222.4 649.8 220 648.9C217.9 648.2 215.9 647.8 213.8 647.3C210.2 646.5 206.6 645.7 203 645C199.3 644.2 195.7 643.5 192 642.8C188.3 642.1 184.7 641.2 181 640.5C175.3 639.4 169.7 638.6 164 637.7C157.3 636.7 150.7 635.7 144 634.9C137.3 634.1 130.7 633.4 124 632.9C117.3 632.4 110.7 631.7 104 631.7C97.3 631.7 90.7 632 84 632.3C77.3 632.6 70.7 633.5 64 634.3C57.3 635.1 50.7 635.9 44 636.9Z" fill="#66c2a5" fill-opacity="0.5"/>
<path d="M44 616.7C50.7 617.6 57.3 618.5 64 619.1C70.7 619.7 77.3 620.3 84 620.7C90.7 621.1 97.3 621.7 104 621.7C110.7 621.7 117.3 621.4 124 621.1C130.7 620.8 137.3 619.9 144 619.1C150.7 618.3 157.3 617.4 164 616.3C169.7 615.4 175.3 614.1 181 612.9C184.7 612.1 188.3 611.2 192 610.3C195.7 609.4 199.3 608.4 203 607.5C206.6 606.6 210.2 605.4 213.8 604.9C215.9 604.6 217.9 604.6 220 604.3C222.4 603.9 224.9 603 227.3 602.1C229.7 601.2 232.2 599.9 234.6 598.4C237 596.9 239.5 594.8 241.9 592.6C244.3 590.4 246.8 588.1 249.2 585.3C251.6 582.5 254.1 578.7 256.5 575.1C257.5 573.7 258.4 572.5 259.4 570.7C261.7 566.5 264.1 559 266.4 553.4C268.6 548.1 270.8 542.6 273 538C274.4 535 275.9 536.2 277.3 529.7C277.6 528.2 278 490.7 278.3 490.7C289.9 490.7 301.4 490.7 313 490.7L313 769.3C301.4 769.3 289.9 769.3 278.3 769.3C278 769.3 277.6 725.4 277.3 723.3C275.9 714.4 274.4 715.4 273 711.8C270.8 706.3 268.6 701 266.4 696.3C264.2 691.6 262 686.8 259.8 683.3C257.6 679.8 255.5 677.2 253.3 674.6C251.4 672.4 249.6 670.5 247.7 668.6C245.8 666.6 243.8 664.4 241.9 662.7C239.5 660.5 237 658.4 234.6 656.9C232.2 655.4 229.7 654.5 227.3 653.2C224.9 651.9 222.4 649.8 220 648.9C217.9 648.2 215.9 647.8 213.8 647.3C210.2 646.5 206.6 645.7 203 645C199.3 644.2 195.7 643.5 192 642.8C188.3 642.1 184.7 641.2 181 640.5C175.3 639.4 169.7 638.6 164 637.7C157.3 636.7 150.7 635.7 144 634.9C137.3 634.1 130.7 633.4 124 632.9C117.3 632.4 110.7 631.7 104 631.7C97.3 631.7 90.7 632 84 632.3C77.3 632.6 70.7 633.5 64 634.3C57.3 635.1 50.7 635.9 44 636.9Z" fill="url(#hg_s)"/>
<path d="M44 597C50.7 600 57.3 602.8 64 605.6C70.7 608.4 77.3 611.5 84 613.6C90.7 615.7 97.3 619 104 619C110.7 619 117.3 617.9 124 617C130.7 616.1 137.3 614.6 144 613C150.7 611.4 157.3 609.2 164 607C169.7 605.1 175.3 603.2 181 600.5C183.9 599.1 186.9 596.5 189.8 595.4C194.2 593.8 198.6 592.6 203 592C206.6 591.5 210.2 591 213.8 591C215.9 591 217.9 592.6 220 594.1C221.5 595.1 222.9 597.4 224.4 599.2C226.3 601.5 228.3 604 230.2 606.5C231.7 608.4 233.1 610.9 234.6 612.3C235.6 613.2 236.5 614.5 237.5 614.5C238.5 614.5 239.4 611.2 240.4 609.4C241.9 606.7 243.3 603.3 244.8 600.7C246.3 598.1 247.7 596.5 249.2 593.4C249.9 591.9 250.7 589.5 251.4 587.5C252.6 584.2 253.8 580.1 255 577.3C256.2 574.4 257.5 571.4 258.7 570C260.5 568 262.2 566 264 566C265.3 566 266.7 566 268 566C269.8 566 271.5 567.7 273.3 570C274.5 571.5 275.7 577 276.9 581.7C277.9 585.6 278.9 590.9 279.9 596.3C280.9 601.5 281.8 607.7 282.8 613.8C283.5 618.4 284.3 622.4 285 628.4C285.5 632.2 285.9 638.3 286.4 643C286.9 648 287.4 652.1 287.9 657.6C288.2 661.3 288.6 664.9 288.9 670C289.3 675.6 289.6 685.8 290 692C290.5 700.9 291.1 714.7 291.6 714.7C291.7 714.7 291.9 700.6 292 692C292.1 685.6 292.2 673.1 292.3 670C292.5 662.8 292.8 662.1 293 657.6C293.2 653.1 293.5 647 293.7 643C294 637.2 294.4 633.5 294.7 628.4C295 623.8 295.3 618.4 295.6 613.8C295.9 608.7 296.3 604.6 296.6 599.2C296.9 594.9 297.1 589.8 297.4 584.6C297.6 580.1 297.9 576.1 298.1 570C298.5 560.4 298.8 550.3 299.2 529C299.3 521.3 299.5 490 299.6 490C304.1 490 308.5 490 313 490L313 770C300.3 770 287.7 770 275 770C274.7 770 274.3 726.2 274 724C272.9 717.1 271.9 717.8 270.8 714.7C269.3 710.4 267.9 705.9 266.4 701.5C264.9 697.1 263.5 693.1 262 688.4C260.5 683.7 259.1 673 257.6 673C256.9 673 256.1 674.6 255.4 675.3C253.9 676.6 252.5 677.7 251 678.6C248.8 679.9 246.7 681.9 244.5 681.9C243.3 681.9 242.2 681.4 241 680.7C240 680.1 239 674.7 238 672C236.9 668.9 235.7 664.9 234.6 663.4C232.2 660.3 229.7 658.4 227.3 657.6C224.9 656.8 222.4 656.7 220 656C217.9 655.4 215.9 654.1 213.8 653.4C210.2 652.1 206.6 650.6 203 650.1C199.3 649.5 195.7 649 192 649C190.5 649 189.1 650.5 187.6 650.5C185.4 650.5 183.2 646.5 181 646.5C175.3 646.5 169.7 652.7 164 654C157.3 655.5 150.7 656.2 144 657C137.3 657.8 130.7 659 124 659C117.3 659 110.7 656.9 104 655.6C97.3 654.3 90.7 651.5 84 651C77.3 650.5 70.7 650.5 64 650C57.3 649.5 50.7 648.3 44 647Z" fill="#fc8d62" fill-opacity="0.5"/>
<path d="M44 597C50.7 600 57.3 602.8 64 605.6C70.7 608.4 77.3 611.5 84 613.6C90.7 615.7 97.3 619 104 619C110.7 619 117.3 617.9 124 617C130.7 616.1 137.3 614.6 144 613C150.7 611.4 157.3 609.2 164 607C169.7 605.1 175.3 603.2 181 600.5C183.9 599.1 186.9 596.5 189.8 595.4C194.2 593.8 198.6 592.6 203 592C206.6 591.5 210.2 591 213.8 591C215.9 591 217.9 592.6 220 594.1C221.5 595.1 222.9 597.4 224.4 599.2C226.3 601.5 228.3 604 230.2 606.5C231.7 608.4 233.1 610.9 234.6 612.3C235.6 613.2 236.5 614.5 237.5 614.5C238.5 614.5 239.4 611.2 240.4 609.4C241.9 606.7 243.3 603.3 244.8 600.7C246.3 598.1 247.7 596.5 249.2 593.4C249.9 591.9 250.7 589.5 251.4 587.5C252.6 584.2 253.8 580.1 255 577.3C256.2 574.4 257.5 571.4 258.7 570C260.5 568 262.2 566 264 566C265.3 566 266.7 566 268 566C269.8 566 271.5 567.7 273.3 570C274.5 571.5 275.7 577 276.9 581.7C277.9 585.6 278.9 590.9 279.9 596.3C280.9 601.5 281.8 607.7 282.8 613.8C283.5 618.4 284.3 622.4 285 628.4C285.5 632.2 285.9 638.3 286.4 643C286.9 648 287.4 652.1 287.9 657.6C288.2 661.3 288.6 664.9 288.9 670C289.3 675.6 289.6 685.8 290 692C290.5 700.9 291.1 714.7 291.6 714.7C291.7 714.7 291.9 700.6 292 692C292.1 685.6 292.2 673.1 292.3 670C292.5 662.8 292.8 662.1 293 657.6C293.2 653.1 293.5 647 293.7 643C294 637.2 294.4 633.5 294.7 628.4C295 623.8 295.3 618.4 295.6 613.8C295.9 608.7 296.3 604.6 296.6 599.2C296.9 594.9 297.1 589.8 297.4 584.6C297.6 580.1 297.9 576.1 298.1 570C298.5 560.4 298.8 550.3 299.2 529C299.3 521.3 299.5 490 299.6 490C304.1 490 308.5 490 313 490L313 770C300.3 770 287.7 770 275 770C274.7 770 274.3 726.2 274 724C272.9 717.1 271.9 717.8 270.8 714.7C269.3 710.4 267.9 705.9 266.4 701.5C264.9 697.1 263.5 693.1 262 688.4C260.5 683.7 259.1 673 257.6 673C256.9 673 256.1 674.6 255.4 675.3C253.9 676.6 252.5 677.7 251 678.6C248.8 679.9 246.7 681.9 244.5 681.9C243.3 681.9 242.2 681.4 241 680.7C240 680.1 239 674.7 238 672C236.9 668.9 235.7 664.9 234.6 663.4C232.2 660.3 229.7 658.4 227.3 657.6C224.9 656.8 222.4 656.7 220 656C217.9 655.4 215.9 654.1 213.8 653.4C210.2 652.1 206.6 650.6 203 650.1C199.3 649.5 195.7 649 192 649C190.5 649 189.1 650.5 187.6 650.5C185.4 650.5 183.2 646.5 181 646.5C175.3 646.5 169.7 652.7 164 654C157.3 655.5 150.7 656.2 144 657C137.3 657.8 130.7 659 124 659C117.3 659 110.7 656.9 104 655.6C97.3 654.3 90.7 651.5 84 651C77.3 650.5 70.7 650.5 64 650C57.3 649.5 50.7 648.3 44 647Z" fill="url(#ho_s)"/>
<path d="M43.5 626.8H312.8" stroke="#66c2a5" stroke-width="1.5" fill="none"/>
<path d="M44 616C50.7 616.9 57.3 617.8 64 618.4C70.7 619 77.3 619.6 84 620C90.7 620.4 97.3 621 104 621C110.7 621 117.3 620.7 124 620.4C130.7 620.1 137.3 619.2 144 618.4C150.7 617.6 157.3 616.7 164 615.6C169.7 614.7 175.3 613.4 181 612.2C184.7 611.4 188.3 610.5 192 609.6C195.7 608.7 199.3 607.7 203 606.8C206.6 605.9 210.2 604.7 213.8 604.2C215.9 603.9 217.9 603.9 220 603.6C222.4 603.2 224.9 602.3 227.3 601.4C229.7 600.5 232.2 599.2 234.6 597.7C237 596.2 239.5 594.1 241.9 591.9C244.3 589.7 246.8 587.4 249.2 584.6C251.6 581.8 254.1 578 256.5 574.4C257.5 573 258.4 571.8 259.4 570C261.7 565.8 264.1 558.3 266.4 552.7C268.6 547.4 270.8 541.9 273 537.3C274.4 534.3 275.9 535.5 277.3 529C277.6 527.5 278 490 278.3 490C289.9 490 301.4 490 313 490" stroke="#66c2a5" stroke-width="1.5" fill="none" stroke-dasharray="5.6 2.4" stroke-linejoin="round"/>
<path d="M44 637.6C50.7 636.6 57.3 635.8 64 635C70.7 634.2 77.3 633.3 84 633C90.7 632.7 97.3 632.4 104 632.4C110.7 632.4 117.3 633.1 124 633.6C130.7 634.1 137.3 634.8 144 635.6C150.7 636.4 157.3 637.4 164 638.4C169.7 639.3 175.3 640.1 181 641.2C184.7 641.9 188.3 642.8 192 643.5C195.7 644.2 199.3 644.9 203 645.7C206.6 646.4 210.2 647.2 213.8 648C215.9 648.5 217.9 648.9 220 649.6C222.4 650.5 224.9 652.6 227.3 653.9C229.7 655.2 232.2 656.1 234.6 657.6C237 659.1 239.5 661.2 241.9 663.4C243.8 665.1 245.8 667.3 247.7 669.3C249.6 671.2 251.4 673.1 253.3 675.3C255.5 677.9 257.6 680.5 259.8 684C262 687.5 264.2 692.3 266.4 697C268.6 701.7 270.8 707 273 712.5C274.4 716.1 275.9 715.1 277.3 724C277.6 726.1 278 770 278.3 770C289.9 770 301.4 770 313 770" stroke="#66c2a5" stroke-width="1.5" fill="none" stroke-dasharray="5.6 2.4" stroke-linejoin="round"/>
<path d="M44 623.6C50.7 625.3 57.3 626.8 64 628C70.7 629.2 77.3 630.2 84 631C90.7 631.8 97.3 632.7 104 633C110.7 633.3 117.3 633.6 124 633.6C130.7 633.6 137.3 633.3 144 633C150.7 632.7 157.3 631.4 164 630C169.7 628.8 175.3 626.7 181 624.7C184.7 623.4 188.3 621.1 192 620.5C195.7 619.9 199.3 619.4 203 619.4C206.6 619.4 210.2 621 213.8 622.7C215.9 623.7 217.9 626 220 628C222.4 630.4 224.9 634 227.3 636.5C229.7 639 232.2 642.2 234.6 643C237 643.8 239.5 644.5 241.9 644.5C244.3 644.5 246.8 641.5 249.2 638.6C251.1 636.3 253.1 630.4 255 626.9C256.5 624.2 257.9 620.6 259.4 619.6C260.6 618.7 261.9 617.9 263.1 617.9C264.3 617.9 265.5 619.1 266.7 620.4C268.2 622 269.6 626.8 271.1 631.3C272.3 635 273.5 640.6 274.7 645.9C275.7 650.3 276.7 654.7 277.7 660.5C278.2 663.2 278.6 666.1 279.1 670C280 677.2 280.8 689.2 281.7 700C282.3 707.5 282.9 709.9 283.5 724C283.8 730.3 284 751 284.3 770" stroke="#fc8d62" stroke-width="1.5" fill="none" stroke-linejoin="round"/>
<path d="M44 592C50.7 594.9 57.3 597.5 64 599.6C70.7 601.7 77.3 603.8 84 605C90.7 606.2 97.3 607.6 104 607.6C110.7 607.6 117.3 607.3 124 607C130.7 606.7 137.3 605 144 603.6C150.7 602.2 157.3 600.1 164 598C169.7 596.2 175.3 594.1 181 592C184.7 590.6 188.3 588.3 192 587.7C195.7 587.1 199.3 586.6 203 586.6C206.6 586.6 210.2 586.8 213.8 587C215.9 587.1 217.9 587.6 220 588.2C222.4 588.9 224.9 590.3 227.3 591.9C229.7 593.5 232.2 597.4 234.6 598.5C236.1 599.2 237.5 599.9 239 599.9C240.5 599.9 241.9 598.4 243.4 597C244.6 595.8 245.8 592.9 247 590.4C248.2 587.9 249.5 585.1 250.7 581.7C251.9 578.4 253.1 573.5 254.3 570C255.4 566.8 256.5 564.3 257.6 561.4C259.8 555.6 262 547.6 264.2 543.9C265.7 541.5 267.1 539 268.6 538.4C270.1 537.8 271.5 537.3 273 537.3C274.4 537.3 275.9 540.2 277.3 543.9C278 545.8 278.8 551.2 279.5 556C280.1 559.9 280.7 564.8 281.3 570C282 576.4 282.8 583.1 283.5 591.9C284 597.9 284.5 606.2 285 613.8C285.5 620.9 285.9 629.9 286.4 635.7C287.1 644.8 287.9 650.8 288.6 657.6C289.1 662 289.5 664.1 290 670C290.3 674.2 290.7 683.1 291 690C291.2 694.8 291.5 705 291.7 705C291.9 705 292.2 696.1 292.4 690C292.6 684.8 292.8 674.7 293 670C293.2 664.6 293.5 662.1 293.7 657.6C294 651.1 294.4 642.4 294.7 635.7C295.1 627.7 295.5 620.3 295.9 613.8C296.4 605.7 296.9 599.5 297.4 591.9C297.9 584.8 298.3 580.1 298.8 570C299.2 561.3 299.6 549.1 300 529C300.2 520.6 300.3 490 300.5 490C304.7 490 308.8 490 313 490" stroke="#fc8d62" stroke-width="1.5" fill="none" stroke-dasharray="5.6 2.4" stroke-linejoin="round"/>
<path d="M44 653C50.7 654.7 57.3 656.1 64 657C70.7 657.9 77.3 658.3 84 659C90.7 659.7 97.3 660.6 104 661C110.7 661.4 117.3 662 124 662C130.7 662 137.3 662 144 662C150.7 662 157.3 660.1 164 659C169.7 658 175.3 656.5 181 655.6C184.7 655 188.3 654.3 192 654C195.7 653.7 199.3 653.4 203 653.4C206.6 653.4 210.2 655.7 213.8 657.8C215.9 659 217.9 661 220 663.4C221.5 665.1 222.9 668.1 224.4 670C226.7 673 229.1 674.6 231.4 677.5C233.6 680.2 235.8 685 238 687.3C240.2 689.5 242.3 692.4 244.5 692.4C246.7 692.4 248.8 691.4 251 690.6C253.2 689.8 255.4 687.3 257.6 687.3C258.7 687.3 259.9 687.7 261 688.4C262.1 689 263.1 693.9 264.2 697.2C265.7 701.7 267.1 707.4 268.6 712.5C269.7 716.3 270.8 715.6 271.9 724C272.2 726.6 272.6 770 272.9 770C286.3 770 299.6 770 313 770" stroke="#fc8d62" stroke-width="1.5" fill="none" stroke-dasharray="5.6 2.4" stroke-linejoin="round"/>
</g>
<path d="M43.5 529.2V724.4H326.6" stroke="#1a1a1a" stroke-width="1" fill="none" stroke-linecap="square"/>
<path d="M63.4 724.4v3.5M128.6 724.4v3.5M193.8 724.4v3.5M259 724.4v3.5M324.2 724.4v3.5" stroke="#1a1a1a" stroke-width="1" fill="none"/>
<path d="M43.8 724.4v2.1M48.9 724.4v2.1M53.3 724.4v2.1M57.1 724.4v2.1M60.4 724.4v2.1M83 724.4v2.1M94.5 724.4v2.1M102.7 724.4v2.1M109 724.4v2.1M114.1 724.4v2.1M118.5 724.4v2.1M122.3 724.4v2.1M125.6 724.4v2.1M148.2 724.4v2.1M159.7 724.4v2.1M167.9 724.4v2.1M174.2 724.4v2.1M179.3 724.4v2.1M183.7 724.4v2.1M187.5 724.4v2.1M190.8 724.4v2.1M213.4 724.4v2.1M224.9 724.4v2.1M233.1 724.4v2.1M239.4 724.4v2.1M244.5 724.4v2.1M248.9 724.4v2.1M252.7 724.4v2.1M256 724.4v2.1M278.6 724.4v2.1M290.1 724.4v2.1M298.3 724.4v2.1M304.6 724.4v2.1M309.7 724.4v2.1M314.1 724.4v2.1M317.9 724.4v2.1M321.2 724.4v2.1" stroke="#1a1a1a" stroke-width="0.8" fill="none"/>
<path d="M43.5 529.2h-3.5M43.5 561.7h-3.5M43.5 594.3h-3.5M43.5 626.8h-3.5M43.5 659.3h-3.5M43.5 691.9h-3.5M43.5 724.4h-3.5" stroke="#1a1a1a" stroke-width="1" fill="none"/>
<text x="13" y="533.1" font-size="10.5" text-anchor="start" textLength="23.4" lengthAdjust="spacingAndGlyphs">1.15</text>
<text x="13" y="565.6" font-size="10.5" text-anchor="start" textLength="23.4" lengthAdjust="spacingAndGlyphs">1.10</text>
<text x="13" y="598.2" font-size="10.5" text-anchor="start" textLength="23.4" lengthAdjust="spacingAndGlyphs">1.05</text>
<text x="13" y="630.7" font-size="10.5" text-anchor="start" textLength="23.4" lengthAdjust="spacingAndGlyphs">1.00</text>
<text x="13" y="663.2" font-size="10.5" text-anchor="start" textLength="23.4" lengthAdjust="spacingAndGlyphs">0.95</text>
<text x="13" y="695.8" font-size="10.5" text-anchor="start" textLength="23.4" lengthAdjust="spacingAndGlyphs">0.90</text>
<text x="13" y="728.3" font-size="10.5" text-anchor="start" textLength="23.4" lengthAdjust="spacingAndGlyphs">0.85</text>
<text x="51" y="739" font-size="10.5" text-anchor="start" textLength="13.4" lengthAdjust="spacingAndGlyphs">10</text>
<text x="64.7" y="735" font-size="7.5" text-anchor="start" textLength="11.1" lengthAdjust="spacingAndGlyphs">−4</text>
<text x="116.2" y="739" font-size="10.5" text-anchor="start" textLength="13.4" lengthAdjust="spacingAndGlyphs">10</text>
<text x="129.9" y="735" font-size="7.5" text-anchor="start" textLength="11.1" lengthAdjust="spacingAndGlyphs">−3</text>
<text x="181.4" y="739" font-size="10.5" text-anchor="start" textLength="13.4" lengthAdjust="spacingAndGlyphs">10</text>
<text x="195.1" y="735" font-size="7.5" text-anchor="start" textLength="11.1" lengthAdjust="spacingAndGlyphs">−2</text>
<text x="246.6" y="739" font-size="10.5" text-anchor="start" textLength="13.4" lengthAdjust="spacingAndGlyphs">10</text>
<text x="260.3" y="735" font-size="7.5" text-anchor="start" textLength="11.1" lengthAdjust="spacingAndGlyphs">−1</text>
<text x="315" y="739" font-size="10.5" text-anchor="start" textLength="13.4" lengthAdjust="spacingAndGlyphs">10</text>
<text x="328.6" y="735" font-size="7.5" text-anchor="start" textLength="4.8" lengthAdjust="spacingAndGlyphs">0</text>
<text x="181.9" y="752.4" font-size="10.5" text-anchor="start" textLength="6.2" lengthAdjust="spacingAndGlyphs">x</text>
<text transform="translate(7.9 675.3) rotate(-90)" font-size="10.5" text-anchor="start" textLength="97" lengthAdjust="spacingAndGlyphs">Ratio to NNPDF4.0</text>
<text x="144.3" y="523.1" font-size="12.6" text-anchor="start" textLength="81.6" lengthAdjust="spacingAndGlyphs">s at 100 GeV</text>
<rect x="46.3" y="534.2" width="274.5" height="34.3" rx="2.2" ry="2.2" fill="#fff" fill-opacity="0.8" stroke="#ccc" stroke-opacity="0.8" stroke-width="1"/>
<rect x="51" y="539" width="20.5" height="7.1" fill="#66c2a5" fill-opacity="0.5"/>
<path d="M61.6 546.1L68.7 539" stroke="#444" stroke-width="1" stroke-opacity="0.75"/>
<rect x="51" y="539" width="20.5" height="7.1" fill="none" stroke="#66c2a5" stroke-width="1.3" stroke-dasharray="3.1 1.4"/>
<text x="80.7" y="546.5" font-size="10.5" text-anchor="start" textLength="118.6" lengthAdjust="spacingAndGlyphs">NNPDF4.0 (68 c.l.+1σ)</text>
<rect x="51" y="554.6" width="20.5" height="7.1" fill="#fc8d62" fill-opacity="0.5"/>
<path d="M58.9 554.6L66 561.7" stroke="#444" stroke-width="1" stroke-opacity="0.75"/>
<rect x="51" y="554.6" width="20.5" height="7.1" fill="none" stroke="#fc8d62" stroke-width="1.3" stroke-dasharray="3.1 1.4"/>
<text x="80.7" y="562.1" font-size="10.5" text-anchor="start" textLength="235.6" lengthAdjust="spacingAndGlyphs">NNPDF3.1-like (NNPDF3.1 meth) (68 c.l.+1σ)</text>
</g>
<g id="panel_sbar">
<path d="M415.8 529.2V724.4M481 529.2V724.4M546.2 529.2V724.4M611.4 529.2V724.4M676.6 529.2V724.4M395.6 529.2H679M395.6 561.7H679M395.6 594.3H679M395.6 626.8H679M395.6 659.3H679M395.6 691.9H679M395.6 724.4H679" stroke="#f5f5f5" stroke-width="0.9" fill="none"/>
<g clip-path="url(#cp_sbar)">
<path d="M396.3 617.1C402.9 617.9 409.4 618.6 416 619.3C422.7 620 429.3 620.7 436 621.1C442.7 621.5 449.3 621.9 456 621.9C462.7 621.9 469.3 621.6 476 621.3C482.7 621 489.3 620.1 496 619.3C502.7 618.5 509.3 617.6 516 616.3C519.7 615.6 523.3 614.4 527 613.7C534.7 612.3 542.3 611.8 550 610.4C556.7 609.2 563.3 607.7 570 605.9C572.4 605.3 574.9 604.5 577.3 603.7C579.7 602.9 582.2 601.9 584.6 600.8C587 599.7 589.5 598.4 591.9 597.1C594.3 595.8 596.8 594.4 599.2 592.7C601.6 591 604.1 589.1 606.5 586.9C608.9 584.7 611.4 582.1 613.8 578.9C616.2 575.7 618.7 571.9 621.1 567.2C622.6 564.4 624 561 625.5 557C627 553 628.4 547.8 629.9 542.4C630.9 538.9 631.8 539.6 632.8 530.7C633 528.6 633.3 490.7 633.5 490.7C644.1 490.7 654.6 490.7 665.2 490.7L665.2 769.3C655 769.3 644.8 769.3 634.6 769.3C634.3 769.3 633.9 726.5 633.6 723.8C633.1 719.5 632.5 719.3 632 717.3C630.8 713 629.7 709.5 628.5 705.8C627 701 625.5 696.1 624 692C622.4 687.7 620.9 683.3 619.3 680.5C617 676.4 614.6 673.9 612.3 671.2C609.2 667.7 606.1 664.3 603 662C599.2 659.1 595.4 656.9 591.6 655.1C585.4 652.2 579.2 649.6 573 648.2C565.3 646.5 557.7 646 550 644.7C542.3 643.4 534.7 641.8 527 640.1C523.3 639.3 519.7 638 516 637.3C509.3 636 502.7 635 496 634.3C489.3 633.6 482.7 633.1 476 632.7C469.3 632.3 462.7 631.7 456 631.7C449.3 631.7 442.7 632 436 632.3C429.3 632.6 422.7 633.6 416 634.3C409.4 635 402.9 635.6 396.3 636.3Z" fill="#66c2a5" fill-opacity="0.5"/>
<path d="M396.3 617.1C402.9 617.9 409.4 618.6 416 619.3C422.7 620 429.3 620.7 436 621.1C442.7 621.5 449.3 621.9 456 621.9C462.7 621.9 469.3 621.6 476 621.3C482.7 621 489.3 620.1 496 619.3C502.7 618.5 509.3 617.6 516 616.3C519.7 615.6 523.3 614.4 527 613.7C534.7 612.3 542.3 611.8 550 610.4C556.7 609.2 563.3 607.7 570 605.9C572.4 605.3 574.9 604.5 577.3 603.7C579.7 602.9 582.2 601.9 584.6 600.8C587 599.7 589.5 598.4 591.9 597.1C594.3 595.8 596.8 594.4 599.2 592.7C601.6 591 604.1 589.1 606.5 586.9C608.9 584.7 611.4 582.1 613.8 578.9C616.2 575.7 618.7 571.9 621.1 567.2C622.6 564.4 624 561 625.5 557C627 553 628.4 547.8 629.9 542.4C630.9 538.9 631.8 539.6 632.8 530.7C633 528.6 633.3 490.7 633.5 490.7C644.1 490.7 654.6 490.7 665.2 490.7L665.2 769.3C655 769.3 644.8 769.3 634.6 769.3C634.3 769.3 633.9 726.5 633.6 723.8C633.1 719.5 632.5 719.3 632 717.3C630.8 713 629.7 709.5 628.5 705.8C627 701 625.5 696.1 624 692C622.4 687.7 620.9 683.3 619.3 680.5C617 676.4 614.6 673.9 612.3 671.2C609.2 667.7 606.1 664.3 603 662C599.2 659.1 595.4 656.9 591.6 655.1C585.4 652.2 579.2 649.6 573 648.2C565.3 646.5 557.7 646 550 644.7C542.3 643.4 534.7 641.8 527 640.1C523.3 639.3 519.7 638 516 637.3C509.3 636 502.7 635 496 634.3C489.3 633.6 482.7 633.1 476 632.7C469.3 632.3 462.7 631.7 456 631.7C449.3 631.7 442.7 632 436 632.3C429.3 632.6 422.7 633.6 416 634.3C409.4 635 402.9 635.6 396.3 636.3Z" fill="url(#hg_sbar)"/>
<path d="M396.3 596.4C402.9 599.9 409.4 603.2 416 606C422.7 608.8 429.3 611.5 436 613.6C442.7 615.7 449.3 619 456 619C462.7 619 469.3 617.5 476 616.4C482.7 615.3 489.3 613.8 496 612C502.7 610.2 509.3 608 516 605C519.7 603.3 523.3 601 527 598.5C530.8 595.9 534.7 591 538.5 588.9C542.3 586.8 546.2 585 550 584.3C553.9 583.6 557.7 583 561.6 583C564.4 583 567.2 583.1 570 583.3C572.4 583.5 574.9 585.4 577.3 586.2C579.7 587 582.2 587.9 584.6 588.4C585.7 588.6 586.9 589 588 589C589.3 589 590.6 587.1 591.9 586.2C593.8 584.9 595.8 584.4 597.7 582.6C598.9 581.5 600.2 579.2 601.4 576.7C602.6 574.2 603.8 570.2 605 566.5C606.5 562 607.9 556.8 609.4 551.9C610.9 547 612.3 542.2 613.8 537.3C614.5 534.9 615.3 535 616 530C616.3 527.7 616.7 490 617 490C627.7 490 638.5 490 649.2 490C649.4 490 649.6 518.7 649.8 529C650.3 554.9 650.8 569.3 651.3 590C651.8 610.7 652.3 653.5 652.8 653.5C653.2 653.5 653.6 607.9 654 590C654.5 566.2 655.1 555.7 655.6 529C655.8 519 656 490 656.2 490C659.2 490 662.2 490 665.2 490L665.2 770C656.1 770 647.1 770 638 770C637.8 770 637.5 733.9 637.3 724.5C636.8 704.3 636.3 698.5 635.8 683.5C635.3 667.5 634.7 634.5 634.2 630C633.3 622.4 632.4 622.6 631.5 618C630.7 613.9 629.9 603.7 629.1 603.7C628.4 603.7 627.6 623.2 626.9 626.8C624.4 639.3 621.8 641.1 619.3 648C616.6 655.4 613.9 669.6 611.2 669.6C609.3 669.6 607.3 668 605.4 667.3C603.1 666.5 600.8 666 598.5 665C596.2 664 593.9 662.6 591.6 660.4C590.1 658.9 588.5 654.9 587 653.5C584.7 651.3 582.3 649.5 580 648.9C577.7 648.3 575.3 648.3 573 647.7C570.7 647.1 568.5 644.3 566.2 644.3C560.8 644.3 555.4 646.4 550 648C546.2 649.1 542.3 652.3 538.5 652.3C534.7 652.3 530.8 650.5 527 650.5C523.3 650.5 519.7 652.5 516 653C509.3 654 502.7 654.1 496 655C489.3 655.9 482.7 659.6 476 659.6C469.3 659.6 462.7 655.3 456 654C449.3 652.7 442.7 651 436 651C429.3 651 422.7 652 416 652C409.4 652 402.9 650.2 396.3 648Z" fill="#fc8d62" fill-opacity="0.5"/>
<path d="M396.3 596.4C402.9 599.9 409.4 603.2 416 606C422.7 608.8 429.3 611.5 436 613.6C442.7 615.7 449.3 619 456 619C462.7 619 469.3 617.5 476 616.4C482.7 615.3 489.3 613.8 496 612C502.7 610.2 509.3 608 516 605C519.7 603.3 523.3 601 527 598.5C530.8 595.9 534.7 591 538.5 588.9C542.3 586.8 546.2 585 550 584.3C553.9 583.6 557.7 583 561.6 583C564.4 583 567.2 583.1 570 583.3C572.4 583.5 574.9 585.4 577.3 586.2C579.7 587 582.2 587.9 584.6 588.4C585.7 588.6 586.9 589 588 589C589.3 589 590.6 587.1 591.9 586.2C593.8 584.9 595.8 584.4 597.7 582.6C598.9 581.5 600.2 579.2 601.4 576.7C602.6 574.2 603.8 570.2 605 566.5C606.5 562 607.9 556.8 609.4 551.9C610.9 547 612.3 542.2 613.8 537.3C614.5 534.9 615.3 535 616 530C616.3 527.7 616.7 490 617 490C627.7 490 638.5 490 649.2 490C649.4 490 649.6 518.7 649.8 529C650.3 554.9 650.8 569.3 651.3 590C651.8 610.7 652.3 653.5 652.8 653.5C653.2 653.5 653.6 607.9 654 590C654.5 566.2 655.1 555.7 655.6 529C655.8 519 656 490 656.2 490C659.2 490 662.2 490 665.2 490L665.2 770C656.1 770 647.1 770 638 770C637.8 770 637.5 733.9 637.3 724.5C636.8 704.3 636.3 698.5 635.8 683.5C635.3 667.5 634.7 634.5 634.2 630C633.3 622.4 632.4 622.6 631.5 618C630.7 613.9 629.9 603.7 629.1 603.7C628.4 603.7 627.6 623.2 626.9 626.8C624.4 639.3 621.8 641.1 619.3 648C616.6 655.4 613.9 669.6 611.2 669.6C609.3 669.6 607.3 668 605.4 667.3C603.1 666.5 600.8 666 598.5 665C596.2 664 593.9 662.6 591.6 660.4C590.1 658.9 588.5 654.9 587 653.5C584.7 651.3 582.3 649.5 580 648.9C577.7 648.3 575.3 648.3 573 647.7C570.7 647.1 568.5 644.3 566.2 644.3C560.8 644.3 555.4 646.4 550 648C546.2 649.1 542.3 652.3 538.5 652.3C534.7 652.3 530.8 650.5 527 650.5C523.3 650.5 519.7 652.5 516 653C509.3 654 502.7 654.1 496 655C489.3 655.9 482.7 659.6 476 659.6C469.3 659.6 462.7 655.3 456 654C449.3 652.7 442.7 651 436 651C429.3 651 422.7 652 416 652C409.4 652 402.9 650.2 396.3 648Z" fill="url(#ho_sbar)"/>
<path d="M395.6 626.8H665.2" stroke="#66c2a5" stroke-width="1.5" fill="none"/>
<path d="M396.3 616.4C402.9 617.2 409.4 617.9 416 618.6C422.7 619.3 429.3 620 436 620.4C442.7 620.8 449.3 621.2 456 621.2C462.7 621.2 469.3 620.9 476 620.6C482.7 620.3 489.3 619.4 496 618.6C502.7 617.8 509.3 616.9 516 615.6C519.7 614.9 523.3 613.7 527 613C534.7 611.6 542.3 611.1 550 609.7C556.7 608.5 563.3 607 570 605.2C572.4 604.6 574.9 603.8 577.3 603C579.7 602.2 582.2 601.2 584.6 600.1C587 599 589.5 597.7 591.9 596.4C594.3 595.1 596.8 593.7 599.2 592C601.6 590.3 604.1 588.4 606.5 586.2C608.9 584 611.4 581.4 613.8 578.2C616.2 575 618.7 571.2 621.1 566.5C622.6 563.7 624 560.3 625.5 556.3C627 552.3 628.4 547.1 629.9 541.7C630.9 538.2 631.8 538.9 632.8 530C633 527.9 633.3 490 633.5 490C644.1 490 654.6 490 665.2 490" stroke="#66c2a5" stroke-width="1.5" fill="none" stroke-dasharray="5.6 2.4" stroke-linejoin="round"/>
<path d="M396.3 637C402.9 636.3 409.4 635.7 416 635C422.7 634.3 429.3 633.3 436 633C442.7 632.7 449.3 632.4 456 632.4C462.7 632.4 469.3 633 476 633.4C482.7 633.8 489.3 634.3 496 635C502.7 635.7 509.3 636.7 516 638C519.7 638.7 523.3 640 527 640.8C534.7 642.5 542.3 644.1 550 645.4C557.7 646.7 565.3 647.2 573 648.9C579.2 650.3 585.4 652.9 591.6 655.8C595.4 657.6 599.2 659.8 603 662.7C606.1 665 609.2 668.4 612.3 671.9C614.6 674.6 617 677.1 619.3 681.2C620.9 684 622.4 688.4 624 692.7C625.5 696.8 627 701.7 628.5 706.5C629.7 710.2 630.8 713.7 632 718C632.5 720 633.1 720.2 633.6 724.5C633.9 727.2 634.3 770 634.6 770C644.8 770 655 770 665.2 770" stroke="#66c2a5" stroke-width="1.5" fill="none" stroke-dasharray="5.6 2.4" stroke-linejoin="round"/>
<path d="M396.3 623.6C402.9 625.3 409.4 626.8 416 628C422.7 629.2 429.3 630.1 436 631C442.7 631.9 449.3 632.9 456 633.4C462.7 633.9 469.3 634.4 476 634.4C482.7 634.4 489.3 634 496 633.6C502.7 633.2 509.3 631.5 516 630C519.7 629.2 523.3 628.2 527 627C530.8 625.7 534.7 623.6 538.5 622.3C542.3 621 546.2 619.7 550 618.9C553.9 618.1 557.7 617 561.6 617C564.4 617 567.2 617.4 570 617.6C572.4 617.8 574.9 617.9 577.3 618.3C579.7 618.7 582.2 620.2 584.6 621.2C587 622.2 589.5 623.8 591.9 624.2C592.9 624.4 594 624.6 595 624.6C596.4 624.6 597.8 623.6 599.2 622.7C601.1 621.5 603.1 619 605 616.1C607 613.1 608.9 608.3 610.9 603C612.4 599.1 613.8 593.8 615.3 588.4C616.5 584 617.7 579.2 618.9 573.8C619.9 569.4 620.8 564.8 621.8 559.2C622.5 555 623.3 549.5 624 544.6C624.7 539.7 625.5 539.8 626.2 530C626.5 526.5 626.7 506.4 627 490" stroke="#fc8d62" stroke-width="1.5" fill="none" stroke-linejoin="round"/>
<path d="M396.3 592C402.9 595.1 409.4 597.8 416 600C422.7 602.2 429.3 604.5 436 605.6C442.7 606.7 449.3 608 456 608C462.7 608 469.3 607.8 476 607.6C482.7 607.4 489.3 605.5 496 604C502.7 602.5 509.3 600.7 516 598C519.7 596.5 523.3 594 527 591.8C530.8 589.5 534.7 586 538.5 584.3C542.3 582.6 546.2 580.8 550 580.4C553.9 580 557.7 579.6 561.6 579.6C564.4 579.6 567.2 580.6 570 581.1C572.4 581.6 574.9 582 577.3 582.6C579.7 583.2 582.2 584.7 584.6 584.7C587 584.7 589.5 584.7 591.9 584.7C593.8 584.7 595.8 583 597.7 581.1C599.2 579.7 600.6 575.8 602.1 572.3C603.6 568.8 605 563.8 606.5 559.2C608 554.6 609.4 550 610.9 544.6C612.1 540.2 613.3 540.4 614.5 530C614.8 527.1 615.2 490 615.5 490C632.1 490 648.6 490 665.2 490" stroke="#fc8d62" stroke-width="1.5" fill="none" stroke-dasharray="5.6 2.4" stroke-linejoin="round"/>
<path d="M396.3 653.6C402.9 655 409.4 656.2 416 657C422.7 657.8 429.3 658.3 436 659C442.7 659.7 449.3 660.3 456 661C462.7 661.7 469.3 663 476 663C482.7 663 489.3 663 496 663C502.7 663 509.3 662.4 516 662C519.7 661.8 523.3 661.6 527 661.3C530.8 661 534.7 660.6 538.5 660C542.3 659.4 546.2 657.9 550 657C553.9 656.1 557.7 654.6 561.6 654.6C565.4 654.6 569.2 654.6 573 654.6C576.9 654.6 580.8 656.2 584.7 658C587 659 589.3 662.5 591.6 663.9C593.9 665.3 596.2 666.7 598.5 667.3C600.8 667.9 603.1 668.5 605.4 668.5C606.9 668.5 608.5 668 610 667.3C613.1 666 616.2 653.8 619.3 645C621.5 638.6 623.8 632.3 626 622C627 617.2 628.1 602.5 629.1 602.5C629.9 602.5 630.7 609.6 631.5 614C632.4 619 633.3 622.4 634.2 632C634.8 638.4 635.4 656.5 636 672C636.6 686.7 637.1 697.8 637.7 724.5C637.9 733.9 638.1 770 638.3 770C647.3 770 656.2 770 665.2 770" stroke="#fc8d62" stroke-width="1.5" fill="none" stroke-dasharray="5.6 2.4" stroke-linejoin="round"/>
<path d="M643 529C643.2 594.2 643.3 659.3 643.5 724.5" stroke="#fc8d62" stroke-width="1.5" fill="none"/>
<path d="M647.2 529C647.2 594.2 647.2 659.3 647.2 724.5" stroke="#fc8d62" stroke-width="1.5" fill="none"/>
<path d="M657.5 529C657.5 594.2 657.5 659.3 657.5 724.5" stroke="#fc8d62" stroke-width="1.5" fill="none"/>
<path d="M661.5 529C661.5 594.2 661.5 659.3 661.5 724.5" stroke="#fc8d62" stroke-width="1.5" fill="none"/>
<path d="M664.6 529C664.6 594.2 664.6 659.3 664.6 724.5" stroke="#fc8d62" stroke-width="1.5" fill="none"/>
<path d="M638.5 640C638.8 668.2 639.2 696.3 639.5 724.5" stroke="#fc8d62" stroke-width="1.5" fill="none" stroke-dasharray="5.6 2.4"/>
<path d="M655.4 529C655.4 552.7 655.4 576.3 655.4 600" stroke="#fc8d62" stroke-width="1.5" fill="none" stroke-dasharray="5.6 2.4"/>
</g>
<path d="M395.6 529.2V724.4H679" stroke="#1a1a1a" stroke-width="1" fill="none" stroke-linecap="square"/>
<path d="M415.8 724.4v3.5M481 724.4v3.5M546.2 724.4v3.5M611.4 724.4v3.5M676.6 724.4v3.5" stroke="#1a1a1a" stroke-width="1" fill="none"/>
<path d="M396.2 724.4v2.1M401.3 724.4v2.1M405.7 724.4v2.1M409.5 724.4v2.1M412.8 724.4v2.1M435.4 724.4v2.1M446.9 724.4v2.1M455.1 724.4v2.1M461.4 724.4v2.1M466.5 724.4v2.1M470.9 724.4v2.1M474.7 724.4v2.1M478 724.4v2.1M500.6 724.4v2.1M512.1 724.4v2.1M520.3 724.4v2.1M526.6 724.4v2.1M531.7 724.4v2.1M536.1 724.4v2.1M539.9 724.4v2.1M543.2 724.4v2.1M565.8 724.4v2.1M577.3 724.4v2.1M585.5 724.4v2.1M591.8 724.4v2.1M596.9 724.4v2.1M601.3 724.4v2.1M605.1 724.4v2.1M608.4 724.4v2.1M631 724.4v2.1M642.5 724.4v2.1M650.7 724.4v2.1M657 724.4v2.1M662.1 724.4v2.1M666.5 724.4v2.1M670.3 724.4v2.1M673.6 724.4v2.1" stroke="#1a1a1a" stroke-width="0.8" fill="none"/>
<path d="M395.6 529.2h-3.5M395.6 561.7h-3.5M395.6 594.3h-3.5M395.6 626.8h-3.5M395.6 659.3h-3.5M395.6 691.9h-3.5M395.6 724.4h-3.5" stroke="#1a1a1a" stroke-width="1" fill="none"/>
<text x="365.1" y="533.1" font-size="10.5" text-anchor="start" textLength="23.4" lengthAdjust="spacingAndGlyphs">1.15</text>
<text x="365.1" y="565.6" font-size="10.5" text-anchor="start" textLength="23.4" lengthAdjust="spacingAndGlyphs">1.10</text>
<text x="365.1" y="598.2" font-size="10.5" text-anchor="start" textLength="23.4" lengthAdjust="spacingAndGlyphs">1.05</text>
<text x="365.1" y="630.7" font-size="10.5" text-anchor="start" textLength="23.4" lengthAdjust="spacingAndGlyphs">1.00</text>
<text x="365.1" y="663.2" font-size="10.5" text-anchor="start" textLength="23.4" lengthAdjust="spacingAndGlyphs">0.95</text>
<text x="365.1" y="695.8" font-size="10.5" text-anchor="start" textLength="23.4" lengthAdjust="spacingAndGlyphs">0.90</text>
<text x="365.1" y="728.3" font-size="10.5" text-anchor="start" textLength="23.4" lengthAdjust="spacingAndGlyphs">0.85</text>
<text x="403.4" y="739" font-size="10.5" text-anchor="start" textLength="13.4" lengthAdjust="spacingAndGlyphs">10</text>
<text x="417.1" y="735" font-size="7.5" text-anchor="start" textLength="11.1" lengthAdjust="spacingAndGlyphs">−4</text>
<text x="468.6" y="739" font-size="10.5" text-anchor="start" textLength="13.4" lengthAdjust="spacingAndGlyphs">10</text>
<text x="482.3" y="735" font-size="7.5" text-anchor="start" textLength="11.1" lengthAdjust="spacingAndGlyphs">−3</text>
<text x="533.8" y="739" font-size="10.5" text-anchor="start" textLength="13.4" lengthAdjust="spacingAndGlyphs">10</text>
<text x="547.5" y="735" font-size="7.5" text-anchor="start" textLength="11.1" lengthAdjust="spacingAndGlyphs">−2</text>
<text x="599" y="739" font-size="10.5" text-anchor="start" textLength="13.4" lengthAdjust="spacingAndGlyphs">10</text>
<text x="612.7" y="735" font-size="7.5" text-anchor="start" textLength="11.1" lengthAdjust="spacingAndGlyphs">−1</text>
<text x="667.4" y="739" font-size="10.5" text-anchor="start" textLength="13.4" lengthAdjust="spacingAndGlyphs">10</text>
<text x="681" y="735" font-size="7.5" text-anchor="start" textLength="4.8" lengthAdjust="spacingAndGlyphs">0</text>
<text x="534.2" y="752.4" font-size="10.5" text-anchor="start" textLength="6.2" lengthAdjust="spacingAndGlyphs">x</text>
<text transform="translate(360 675.3) rotate(-90)" font-size="10.5" text-anchor="start" textLength="97" lengthAdjust="spacingAndGlyphs">Ratio to NNPDF4.0</text>
<text x="496.5" y="523.1" font-size="12.6" text-anchor="start" textLength="81.6" lengthAdjust="spacingAndGlyphs">s̄ at 100 GeV</text>
<rect x="400.8" y="684.9" width="274.5" height="34.3" rx="2.2" ry="2.2" fill="#fff" fill-opacity="0.8" stroke="#ccc" stroke-opacity="0.8" stroke-width="1"/>
<rect x="405.5" y="689.6" width="20.5" height="7.1" fill="#66c2a5" fill-opacity="0.5"/>
<path d="M416.1 696.8L423.2 689.6" stroke="#444" stroke-width="1" stroke-opacity="0.75"/>
<rect x="405.5" y="689.6" width="20.5" height="7.1" fill="none" stroke="#66c2a5" stroke-width="1.3" stroke-dasharray="3.1 1.4"/>
<text x="435.2" y="697.1" font-size="10.5" text-anchor="start" textLength="118.6" lengthAdjust="spacingAndGlyphs">NNPDF4.0 (68 c.l.+1σ)</text>
<rect x="405.5" y="705.2" width="20.5" height="7.1" fill="#fc8d62" fill-opacity="0.5"/>
<path d="M413.4 705.2L420.5 712.4" stroke="#444" stroke-width="1" stroke-opacity="0.75"/>
<rect x="405.5" y="705.2" width="20.5" height="7.1" fill="none" stroke="#fc8d62" stroke-width="1.3" stroke-dasharray="3.1 1.4"/>
<text x="435.2" y="712.8" font-size="10.5" text-anchor="start" textLength="235.6" lengthAdjust="spacingAndGlyphs">NNPDF3.1-like (NNPDF3.1 meth) (68 c.l.+1σ)</text>
</g>
<g id="panel_c">
<path d="M63.4 785.4V980.6M128.6 785.4V980.6M193.8 785.4V980.6M259 785.4V980.6M324.2 785.4V980.6M43.5 785.4H326.6M43.5 817.9H326.6M43.5 850.5H326.6M43.5 883H326.6M43.5 915.5H326.6M43.5 948.1H326.6M43.5 980.6H326.6" stroke="#f5f5f5" stroke-width="0.9" fill="none"/>
<g clip-path="url(#cp_c)">
<path d="M44 872.3C50.7 872.7 57.3 873.2 64 873.7C70.7 874.2 77.3 875.2 84 875.7C90.7 876.2 97.3 876.7 104 877.1C110.7 877.5 117.3 878.3 124 878.3C130.7 878.3 137.3 878.3 144 878.3C150.7 878.3 157.3 878 164 877.7C169.7 877.4 175.3 876.5 181 876.3C184.7 876.2 188.3 876.2 192 876C195.7 875.8 199.3 875.3 203 874.9C206.6 874.5 210.2 873.9 213.8 873.4C217.5 872.9 221.1 872.3 224.8 871.7C228.4 871.1 232.1 870.6 235.7 869.9C239.4 869.2 243 868.4 246.7 867.3C249.6 866.4 252.5 865.7 255.4 864C256.9 863.2 258.3 861.6 259.8 859.6C261.3 857.6 262.7 853.5 264.2 849.7C265.7 845.9 267.1 841.6 268.6 836.6C270.1 831.6 271.5 825.3 273 819.1C274.4 813 275.9 806.2 277.3 799.4C278.2 795.1 279.1 795.3 280 786.3C280.3 783 280.7 740.7 281 740.7C291.7 740.7 302.3 740.7 313 740.7L313 1029.3C302.2 1029.3 291.3 1029.3 280.5 1029.3C280.2 1029.3 279.8 982.7 279.5 979.7C278.1 966.6 276.6 968 275.2 962.2C273.7 956.3 272.3 950.5 270.8 944.7C269.3 938.9 267.9 932.2 266.4 927.2C264.9 922.2 263.5 917.6 262 914.1C260.5 910.6 259.1 907.3 257.6 905.3C256.2 903.4 254.7 901.9 253.3 900.9C251.1 899.4 248.9 898.2 246.7 897.6C243 896.5 239.4 896.2 235.7 895.5C232.1 894.8 228.4 894 224.8 893.3C221.1 892.6 217.5 891.6 213.8 891.1C210.2 890.6 206.6 890.2 203 890C199.3 889.8 195.7 889.6 192 889.5C188.3 889.4 184.7 889.2 181 889.1C175.3 888.9 169.7 888.5 164 888.3C157.3 888.1 150.7 887.7 144 887.7C137.3 887.7 130.7 887.7 124 887.7C117.3 887.7 110.7 888.5 104 888.9C97.3 889.3 90.7 889.8 84 890.3C77.3 890.8 70.7 891.8 64 892.3C57.3 892.8 50.7 893.3 44 893.7Z" fill="#66c2a5" fill-opacity="0.5"/>
<path d="M44 872.3C50.7 872.7 57.3 873.2 64 873.7C70.7 874.2 77.3 875.2 84 875.7C90.7 876.2 97.3 876.7 104 877.1C110.7 877.5 117.3 878.3 124 878.3C130.7 878.3 137.3 878.3 144 878.3C150.7 878.3 157.3 878 164 877.7C169.7 877.4 175.3 876.5 181 876.3C184.7 876.2 188.3 876.2 192 876C195.7 875.8 199.3 875.3 203 874.9C206.6 874.5 210.2 873.9 213.8 873.4C217.5 872.9 221.1 872.3 224.8 871.7C228.4 871.1 232.1 870.6 235.7 869.9C239.4 869.2 243 868.4 246.7 867.3C249.6 866.4 252.5 865.7 255.4 864C256.9 863.2 258.3 861.6 259.8 859.6C261.3 857.6 262.7 853.5 264.2 849.7C265.7 845.9 267.1 841.6 268.6 836.6C270.1 831.6 271.5 825.3 273 819.1C274.4 813 275.9 806.2 277.3 799.4C278.2 795.1 279.1 795.3 280 786.3C280.3 783 280.7 740.7 281 740.7C291.7 740.7 302.3 740.7 313 740.7L313 1029.3C302.2 1029.3 291.3 1029.3 280.5 1029.3C280.2 1029.3 279.8 982.7 279.5 979.7C278.1 966.6 276.6 968 275.2 962.2C273.7 956.3 272.3 950.5 270.8 944.7C269.3 938.9 267.9 932.2 266.4 927.2C264.9 922.2 263.5 917.6 262 914.1C260.5 910.6 259.1 907.3 257.6 905.3C256.2 903.4 254.7 901.9 253.3 900.9C251.1 899.4 248.9 898.2 246.7 897.6C243 896.5 239.4 896.2 235.7 895.5C232.1 894.8 228.4 894 224.8 893.3C221.1 892.6 217.5 891.6 213.8 891.1C210.2 890.6 206.6 890.2 203 890C199.3 889.8 195.7 889.6 192 889.5C188.3 889.4 184.7 889.2 181 889.1C175.3 888.9 169.7 888.5 164 888.3C157.3 888.1 150.7 887.7 144 887.7C137.3 887.7 130.7 887.7 124 887.7C117.3 887.7 110.7 888.5 104 888.9C97.3 889.3 90.7 889.8 84 890.3C77.3 890.8 70.7 891.8 64 892.3C57.3 892.8 50.7 893.3 44 893.7Z" fill="url(#hg_c)"/>
<path d="M44 853.1C50.7 854.9 57.3 856.9 64 859.1C70.7 861.3 77.3 864.2 84 866.3C90.7 868.4 97.3 870.7 104 871.7C110.7 872.7 117.3 873.4 124 873.7C130.7 874 137.3 874.3 144 874.3C150.7 874.3 157.3 874.1 164 873.7C169.7 873.4 175.3 871.4 181 869.9C184.7 868.9 188.3 867.8 192 866.2C195.7 864.6 199.3 862.6 203 859.6C205.2 857.8 207.3 855.2 209.5 852C211.7 848.8 213.8 842.3 216 838.8C218.2 835.3 220.4 833.3 222.6 830.1C224.8 826.9 227 823.4 229.2 819.1C231.4 814.9 233.5 808.5 235.7 803.8C237.2 800.6 238.6 795.9 240.1 795C242.3 793.7 244.5 793.8 246.7 792.8C248.1 792.1 249.6 791.1 251 789.6C251.8 788.8 252.5 788.7 253.3 786.3C253.6 785.2 254 740.7 254.3 740.7C273.9 740.7 293.4 740.7 313 740.7L313 1029.3C298.9 1029.3 284.8 1029.3 270.7 1029.3C270.4 1029.3 270 984.2 269.7 979.7C268.6 964.8 267.5 964.4 266.4 957.9C265.3 951.4 264.2 946.1 263.1 940.3C262 934.5 260.9 927.1 259.8 922.8C258.3 917.1 256.9 912.5 255.4 909.7C253.2 905.6 251.1 904.4 248.9 900.9C247.4 898.5 246 895.6 244.5 892.2C243.4 889.7 242.3 883.5 241.2 883.3C240.1 883.1 239.1 883 238 883C235.1 883 232.1 884.6 229.2 885.6C226.3 886.6 223.3 887.6 220.4 888.9C218.2 889.8 216 891.8 213.8 892.2C210.2 892.8 206.6 893.3 203 893.3C199.3 893.3 195.7 893.3 192 893.3C188.3 893.3 184.7 893.3 181 893.3C175.3 893.3 169.7 893.1 164 892.9C157.3 892.6 150.7 890.2 144 889.3C137.3 888.4 130.7 887.3 124 887.3C117.3 887.3 110.7 888.2 104 888.9C97.3 889.6 90.7 891.2 84 892.3C77.3 893.4 70.7 894.3 64 895.3C57.3 896.3 50.7 897.3 44 898.3Z" fill="#fc8d62" fill-opacity="0.5"/>
<path d="M44 853.1C50.7 854.9 57.3 856.9 64 859.1C70.7 861.3 77.3 864.2 84 866.3C90.7 868.4 97.3 870.7 104 871.7C110.7 872.7 117.3 873.4 124 873.7C130.7 874 137.3 874.3 144 874.3C150.7 874.3 157.3 874.1 164 873.7C169.7 873.4 175.3 871.4 181 869.9C184.7 868.9 188.3 867.8 192 866.2C195.7 864.6 199.3 862.6 203 859.6C205.2 857.8 207.3 855.2 209.5 852C211.7 848.8 213.8 842.3 216 838.8C218.2 835.3 220.4 833.3 222.6 830.1C224.8 826.9 227 823.4 229.2 819.1C231.4 814.9 233.5 808.5 235.7 803.8C237.2 800.6 238.6 795.9 240.1 795C242.3 793.7 244.5 793.8 246.7 792.8C248.1 792.1 249.6 791.1 251 789.6C251.8 788.8 252.5 788.7 253.3 786.3C253.6 785.2 254 740.7 254.3 740.7C273.9 740.7 293.4 740.7 313 740.7L313 1029.3C298.9 1029.3 284.8 1029.3 270.7 1029.3C270.4 1029.3 270 984.2 269.7 979.7C268.6 964.8 267.5 964.4 266.4 957.9C265.3 951.4 264.2 946.1 263.1 940.3C262 934.5 260.9 927.1 259.8 922.8C258.3 917.1 256.9 912.5 255.4 909.7C253.2 905.6 251.1 904.4 248.9 900.9C247.4 898.5 246 895.6 244.5 892.2C243.4 889.7 242.3 883.5 241.2 883.3C240.1 883.1 239.1 883 238 883C235.1 883 232.1 884.6 229.2 885.6C226.3 886.6 223.3 887.6 220.4 888.9C218.2 889.8 216 891.8 213.8 892.2C210.2 892.8 206.6 893.3 203 893.3C199.3 893.3 195.7 893.3 192 893.3C188.3 893.3 184.7 893.3 181 893.3C175.3 893.3 169.7 893.1 164 892.9C157.3 892.6 150.7 890.2 144 889.3C137.3 888.4 130.7 887.3 124 887.3C117.3 887.3 110.7 888.2 104 888.9C97.3 889.6 90.7 891.2 84 892.3C77.3 893.4 70.7 894.3 64 895.3C57.3 896.3 50.7 897.3 44 898.3Z" fill="url(#ho_c)"/>
<path d="M43.5 883H312.8" stroke="#66c2a5" stroke-width="1.5" fill="none"/>
<path d="M44 871.6C50.7 872 57.3 872.5 64 873C70.7 873.5 77.3 874.5 84 875C90.7 875.5 97.3 876 104 876.4C110.7 876.8 117.3 877.6 124 877.6C130.7 877.6 137.3 877.6 144 877.6C150.7 877.6 157.3 877.3 164 877C169.7 876.7 175.3 875.8 181 875.6C184.7 875.5 188.3 875.5 192 875.3C195.7 875.1 199.3 874.6 203 874.2C206.6 873.8 210.2 873.2 213.8 872.7C217.5 872.2 221.1 871.6 224.8 871C228.4 870.4 232.1 869.9 235.7 869.2C239.4 868.5 243 867.7 246.7 866.6C249.6 865.7 252.5 865 255.4 863.3C256.9 862.5 258.3 860.9 259.8 858.9C261.3 856.9 262.7 852.8 264.2 849C265.7 845.2 267.1 840.9 268.6 835.9C270.1 830.9 271.5 824.6 273 818.4C274.4 812.3 275.9 805.5 277.3 798.7C278.2 794.4 279.1 794.6 280 785.6C280.3 782.3 280.7 740 281 740C291.7 740 302.3 740 313 740" stroke="#66c2a5" stroke-width="1.5" fill="none" stroke-dasharray="5.6 2.4" stroke-linejoin="round"/>
<path d="M44 894.4C50.7 894 57.3 893.5 64 893C70.7 892.5 77.3 891.5 84 891C90.7 890.5 97.3 890 104 889.6C110.7 889.2 117.3 888.4 124 888.4C130.7 888.4 137.3 888.4 144 888.4C150.7 888.4 157.3 888.8 164 889C169.7 889.2 175.3 889.6 181 889.8C184.7 889.9 188.3 890.1 192 890.2C195.7 890.3 199.3 890.5 203 890.7C206.6 890.9 210.2 891.3 213.8 891.8C217.5 892.3 221.1 893.3 224.8 894C228.4 894.7 232.1 895.5 235.7 896.2C239.4 896.9 243 897.2 246.7 898.3C248.9 898.9 251.1 900.1 253.3 901.6C254.7 902.6 256.2 904.1 257.6 906C259.1 908 260.5 911.3 262 914.8C263.5 918.3 264.9 922.9 266.4 927.9C267.9 932.9 269.3 939.6 270.8 945.4C272.3 951.2 273.7 957 275.2 962.9C276.6 968.7 278.1 967.3 279.5 980.4C279.8 983.4 280.2 1030 280.5 1030C291.3 1030 302.2 1030 313 1030" stroke="#66c2a5" stroke-width="1.5" fill="none" stroke-dasharray="5.6 2.4" stroke-linejoin="round"/>
<path d="M44 876.4C50.7 877 57.3 877.6 64 878C70.7 878.4 77.3 878.7 84 879C90.7 879.3 97.3 879.7 104 880C110.7 880.3 117.3 880.6 124 881C130.7 881.4 137.3 882 144 882.4C150.7 882.8 157.3 883.6 164 883.6C169.7 883.6 175.3 883.5 181 883.2C184.7 883 188.3 881.7 192 880.8C195.7 879.9 199.3 879.1 203 877.5C205.2 876.6 207.3 874.9 209.5 873.2C211.7 871.5 213.8 869.2 216 866.6C218.9 863.1 221.9 857.3 224.8 853.5C227.7 849.8 230.6 846 233.5 843.6C235.7 841.8 237.8 839.2 240 839.2C241.5 839.2 243 840.5 244.5 841.4C246.7 842.7 248.8 846.9 251 846.9C252.8 846.9 254.7 845.3 256.5 845.3C258.3 845.3 260.2 847.5 262 849.1C264.2 851.1 266.4 853.9 268.6 857.8C270.1 860.4 271.5 864.5 273 868.8C274.4 873 275.9 878.3 277.3 884.1C278.4 888.6 279.5 894.7 280.6 899.4C281.7 904.1 282.8 910.8 283.9 912.6C285.4 915 286.8 917 288.3 917C290.5 917 292.7 917 294.9 917C295.6 917 296.3 927.4 297 932.3C298.1 940 299.2 946.2 300.3 954.2C301.4 962.2 302.5 963.1 303.6 980.4C303.9 985.6 304.3 1010.2 304.6 1030" stroke="#fc8d62" stroke-width="1.5" fill="none" stroke-linejoin="round"/>
<path d="M44 852.4C50.7 854.2 57.3 856.2 64 858.4C70.7 860.6 77.3 863.5 84 865.6C90.7 867.7 97.3 870 104 871C110.7 872 117.3 872.7 124 873C130.7 873.3 137.3 873.6 144 873.6C150.7 873.6 157.3 873.4 164 873C169.7 872.7 175.3 870.7 181 869.2C184.7 868.2 188.3 867.1 192 865.5C195.7 863.9 199.3 861.9 203 858.9C205.2 857.1 207.3 854.5 209.5 851.3C211.7 848.1 213.8 841.6 216 838.1C218.2 834.6 220.4 832.6 222.6 829.4C224.8 826.2 227 822.7 229.2 818.4C231.4 814.2 233.5 807.8 235.7 803.1C237.2 799.9 238.6 795.2 240.1 794.3C242.3 793 244.5 793.1 246.7 792.1C248.1 791.4 249.6 790.4 251 788.9C251.8 788.1 252.5 788 253.3 785.6C253.6 784.5 254 740 254.3 740C273.9 740 293.4 740 313 740" stroke="#fc8d62" stroke-width="1.5" fill="none" stroke-dasharray="5.6 2.4" stroke-linejoin="round"/>
<path d="M44 899C50.7 898 57.3 897 64 896C70.7 895 77.3 894.1 84 893C90.7 891.9 97.3 890.3 104 889.6C110.7 888.9 117.3 888 124 888C130.7 888 137.3 889.1 144 890C150.7 890.9 157.3 893.3 164 893.6C169.7 893.8 175.3 894 181 894C184.7 894 188.3 894 192 894C195.7 894 199.3 894 203 894C206.6 894 210.2 893.5 213.8 892.9C216 892.5 218.2 890.5 220.4 889.6C223.3 888.3 226.3 887.3 229.2 886.3C232.1 885.3 235.1 883.7 238 883.7C239.1 883.7 240.1 883.8 241.2 884C242.3 884.2 243.4 890.4 244.5 892.9C246 896.3 247.4 899.2 248.9 901.6C251.1 905.1 253.2 906.3 255.4 910.4C256.9 913.2 258.3 917.8 259.8 923.5C260.9 927.8 262 935.2 263.1 941C264.2 946.8 265.3 952.1 266.4 958.6C267.5 965.1 268.6 965.5 269.7 980.4C270 984.9 270.4 1030 270.7 1030C284.8 1030 298.9 1030 313 1030" stroke="#fc8d62" stroke-width="1.5" fill="none" stroke-dasharray="5.6 2.4" stroke-linejoin="round"/>
</g>
<path d="M43.5 785.4V980.6H326.6" stroke="#1a1a1a" stroke-width="1" fill="none" stroke-linecap="square"/>
<path d="M63.4 980.6v3.5M128.6 980.6v3.5M193.8 980.6v3.5M259 980.6v3.5M324.2 980.6v3.5" stroke="#1a1a1a" stroke-width="1" fill="none"/>
<path d="M43.8 980.6v2.1M48.9 980.6v2.1M53.3 980.6v2.1M57.1 980.6v2.1M60.4 980.6v2.1M83 980.6v2.1M94.5 980.6v2.1M102.7 980.6v2.1M109 980.6v2.1M114.1 980.6v2.1M118.5 980.6v2.1M122.3 980.6v2.1M125.6 980.6v2.1M148.2 980.6v2.1M159.7 980.6v2.1M167.9 980.6v2.1M174.2 980.6v2.1M179.3 980.6v2.1M183.7 980.6v2.1M187.5 980.6v2.1M190.8 980.6v2.1M213.4 980.6v2.1M224.9 980.6v2.1M233.1 980.6v2.1M239.4 980.6v2.1M244.5 980.6v2.1M248.9 980.6v2.1M252.7 980.6v2.1M256 980.6v2.1M278.6 980.6v2.1M290.1 980.6v2.1M298.3 980.6v2.1M304.6 980.6v2.1M309.7 980.6v2.1M314.1 980.6v2.1M317.9 980.6v2.1M321.2 980.6v2.1" stroke="#1a1a1a" stroke-width="0.8" fill="none"/>
<path d="M43.5 785.4h-3.5M43.5 817.9h-3.5M43.5 850.5h-3.5M43.5 883h-3.5M43.5 915.5h-3.5M43.5 948.1h-3.5M43.5 980.6h-3.5" stroke="#1a1a1a" stroke-width="1" fill="none"/>
<text x="13" y="789.3" font-size="10.5" text-anchor="start" textLength="23.4" lengthAdjust="spacingAndGlyphs">1.15</text>
<text x="13" y="821.8" font-size="10.5" text-anchor="start" textLength="23.4" lengthAdjust="spacingAndGlyphs">1.10</text>
<text x="13" y="854.4" font-size="10.5" text-anchor="start" textLength="23.4" lengthAdjust="spacingAndGlyphs">1.05</text>
<text x="13" y="886.9" font-size="10.5" text-anchor="start" textLength="23.4" lengthAdjust="spacingAndGlyphs">1.00</text>
<text x="13" y="919.4" font-size="10.5" text-anchor="start" textLength="23.4" lengthAdjust="spacingAndGlyphs">0.95</text>
<text x="13" y="952" font-size="10.5" text-anchor="start" textLength="23.4" lengthAdjust="spacingAndGlyphs">0.90</text>
<text x="13" y="984.5" font-size="10.5" text-anchor="start" textLength="23.4" lengthAdjust="spacingAndGlyphs">0.85</text>
<text x="51" y="995.2" font-size="10.5" text-anchor="start" textLength="13.4" lengthAdjust="spacingAndGlyphs">10</text>
<text x="64.7" y="991.2" font-size="7.5" text-anchor="start" textLength="11.1" lengthAdjust="spacingAndGlyphs">−4</text>
<text x="116.2" y="995.2" font-size="10.5" text-anchor="start" textLength="13.4" lengthAdjust="spacingAndGlyphs">10</text>
<text x="129.9" y="991.2" font-size="7.5" text-anchor="start" textLength="11.1" lengthAdjust="spacingAndGlyphs">−3</text>
<text x="181.4" y="995.2" font-size="10.5" text-anchor="start" textLength="13.4" lengthAdjust="spacingAndGlyphs">10</text>
<text x="195.1" y="991.2" font-size="7.5" text-anchor="start" textLength="11.1" lengthAdjust="spacingAndGlyphs">−2</text>
<text x="246.6" y="995.2" font-size="10.5" text-anchor="start" textLength="13.4" lengthAdjust="spacingAndGlyphs">10</text>
<text x="260.3" y="991.2" font-size="7.5" text-anchor="start" textLength="11.1" lengthAdjust="spacingAndGlyphs">−1</text>
<text x="315" y="995.2" font-size="10.5" text-anchor="start" textLength="13.4" lengthAdjust="spacingAndGlyphs">10</text>
<text x="328.6" y="991.2" font-size="7.5" text-anchor="start" textLength="4.8" lengthAdjust="spacingAndGlyphs">0</text>
<text x="181.9" y="1008.6" font-size="10.5" text-anchor="start" textLength="6.2" lengthAdjust="spacingAndGlyphs">x</text>
<text transform="translate(7.9 931.5) rotate(-90)" font-size="10.5" text-anchor="start" textLength="97" lengthAdjust="spacingAndGlyphs">Ratio to NNPDF4.0</text>
<text x="144.1" y="779.3" font-size="12.6" text-anchor="start" textLength="82" lengthAdjust="spacingAndGlyphs">c at 100 GeV</text>
<rect x="48.7" y="941.1" width="274.5" height="34.3" rx="2.2" ry="2.2" fill="#fff" fill-opacity="0.8" stroke="#ccc" stroke-opacity="0.8" stroke-width="1"/>
<rect x="53.4" y="945.9" width="20.5" height="7.1" fill="#66c2a5" fill-opacity="0.5"/>
<path d="M64 953L71.1 945.9" stroke="#444" stroke-width="1" stroke-opacity="0.75"/>
<rect x="53.4" y="945.9" width="20.5" height="7.1" fill="none" stroke="#66c2a5" stroke-width="1.3" stroke-dasharray="3.1 1.4"/>
<text x="83.1" y="953.4" font-size="10.5" text-anchor="start" textLength="118.6" lengthAdjust="spacingAndGlyphs">NNPDF4.0 (68 c.l.+1σ)</text>
<rect x="53.4" y="961.5" width="20.5" height="7.1" fill="#fc8d62" fill-opacity="0.5"/>
<path d="M61.3 961.5L68.4 968.6" stroke="#444" stroke-width="1" stroke-opacity="0.75"/>
<rect x="53.4" y="961.5" width="20.5" height="7.1" fill="none" stroke="#fc8d62" stroke-width="1.3" stroke-dasharray="3.1 1.4"/>
<text x="83.1" y="969" font-size="10.5" text-anchor="start" textLength="235.6" lengthAdjust="spacingAndGlyphs">NNPDF3.1-like (NNPDF3.1 meth) (68 c.l.+1σ)</text>
</g>
<g id="panel_g">
<path d="M415.8 785.4V980.6M481 785.4V980.6M546.2 785.4V980.6M611.4 785.4V980.6M676.6 785.4V980.6M395.6 785.4H679M395.6 817.9H679M395.6 850.5H679M395.6 883H679M395.6 915.5H679M395.6 948.1H679M395.6 980.6H679" stroke="#f5f5f5" stroke-width="0.9" fill="none"/>
<g clip-path="url(#cp_g)">
<path d="M396.3 874.3C402.9 875 409.4 875.6 416 876.3C422.7 877 429.3 877.8 436 878.3C442.7 878.8 449.3 879.4 456 879.7C462.7 880 469.3 880.3 476 880.3C482.7 880.3 489.3 880.2 496 880.1C502.7 880 509.3 879.7 516 879.7C519.7 879.7 523.3 879.7 527 879.7C534.7 879.7 542.3 880.4 550 880.5C556.7 880.6 563.3 880.7 570 880.7C574.9 880.7 579.7 880.7 584.6 880.7C589.5 880.7 594.3 880.5 599.2 880.3C604.1 880.1 608.9 879 613.8 878.1C618.7 877.2 623.5 876.1 628.4 874.4C630.8 873.6 633.3 872.4 635.7 870.8C637.6 869.5 639.6 867.5 641.5 864.9C643 862.9 644.4 859.8 645.9 856.2C647.1 853.2 648.4 849.3 649.6 844.5C650.6 840.7 651.5 835.2 652.5 829.9C653.5 824.6 654.4 818.5 655.4 812.4C656 808.6 656.6 805.7 657.2 800.7C657.6 797.1 658.1 795.1 658.5 786.2C658.7 781.4 659 740.7 659.2 740.7C661.2 740.7 663.2 740.7 665.2 740.7L665.2 1029.3C662.9 1029.3 660.6 1029.3 658.3 1029.3C658 1029.3 657.8 984.8 657.5 980.1C656.7 965.4 655.8 965.6 655 958.2C654.3 952 653.6 943.8 652.9 939.3C652.5 937 652.2 935.4 651.8 933.6C651.1 930 650.3 926.2 649.6 923.4C648.4 918.7 647.1 914.7 645.9 911.7C644.4 908.1 643 904.9 641.5 902.9C639.6 900.3 637.6 898.6 635.7 897.1C633.3 895.3 630.8 893.8 628.4 892.7C623.5 890.5 618.7 888.6 613.8 887.6C608.9 886.6 604.1 885.8 599.2 885.4C594.3 885 589.5 884.7 584.6 884.7C579.7 884.7 574.9 884.7 570 884.7C563.3 884.7 556.7 885.4 550 885.6C542.3 885.9 534.7 886.3 527 886.3C523.3 886.3 519.7 886.3 516 886.3C509.3 886.3 502.7 886 496 885.9C489.3 885.8 482.7 885.7 476 885.7C469.3 885.7 462.7 886 456 886.3C449.3 886.6 442.7 887.2 436 887.7C429.3 888.2 422.7 888.7 416 889.3C409.4 889.9 402.9 890.6 396.3 891.3Z" fill="#66c2a5" fill-opacity="0.5"/>
<path d="M396.3 874.3C402.9 875 409.4 875.6 416 876.3C422.7 877 429.3 877.8 436 878.3C442.7 878.8 449.3 879.4 456 879.7C462.7 880 469.3 880.3 476 880.3C482.7 880.3 489.3 880.2 496 880.1C502.7 880 509.3 879.7 516 879.7C519.7 879.7 523.3 879.7 527 879.7C534.7 879.7 542.3 880.4 550 880.5C556.7 880.6 563.3 880.7 570 880.7C574.9 880.7 579.7 880.7 584.6 880.7C589.5 880.7 594.3 880.5 599.2 880.3C604.1 880.1 608.9 879 613.8 878.1C618.7 877.2 623.5 876.1 628.4 874.4C630.8 873.6 633.3 872.4 635.7 870.8C637.6 869.5 639.6 867.5 641.5 864.9C643 862.9 644.4 859.8 645.9 856.2C647.1 853.2 648.4 849.3 649.6 844.5C650.6 840.7 651.5 835.2 652.5 829.9C653.5 824.6 654.4 818.5 655.4 812.4C656 808.6 656.6 805.7 657.2 800.7C657.6 797.1 658.1 795.1 658.5 786.2C658.7 781.4 659 740.7 659.2 740.7C661.2 740.7 663.2 740.7 665.2 740.7L665.2 1029.3C662.9 1029.3 660.6 1029.3 658.3 1029.3C658 1029.3 657.8 984.8 657.5 980.1C656.7 965.4 655.8 965.6 655 958.2C654.3 952 653.6 943.8 652.9 939.3C652.5 937 652.2 935.4 651.8 933.6C651.1 930 650.3 926.2 649.6 923.4C648.4 918.7 647.1 914.7 645.9 911.7C644.4 908.1 643 904.9 641.5 902.9C639.6 900.3 637.6 898.6 635.7 897.1C633.3 895.3 630.8 893.8 628.4 892.7C623.5 890.5 618.7 888.6 613.8 887.6C608.9 886.6 604.1 885.8 599.2 885.4C594.3 885 589.5 884.7 584.6 884.7C579.7 884.7 574.9 884.7 570 884.7C563.3 884.7 556.7 885.4 550 885.6C542.3 885.9 534.7 886.3 527 886.3C523.3 886.3 519.7 886.3 516 886.3C509.3 886.3 502.7 886 496 885.9C489.3 885.8 482.7 885.7 476 885.7C469.3 885.7 462.7 886 456 886.3C449.3 886.6 442.7 887.2 436 887.7C429.3 888.2 422.7 888.7 416 889.3C409.4 889.9 402.9 890.6 396.3 891.3Z" fill="url(#hg_g)"/>
<path d="M396.3 861C402.9 863.2 409.4 865.4 416 867.4C422.7 869.5 429.3 871.8 436 873.4C442.7 875 449.3 876.3 456 877.2C462.7 878.1 469.3 878.8 476 879.3C482.7 879.8 489.3 880 496 880.3C502.7 880.6 509.3 880.9 516 881.1C519.7 881.2 523.3 881.3 527 881.4C530.8 881.5 534.7 882.1 538.5 882.1C542.3 882.1 546.2 881.4 550 880.7C553.9 880 557.7 877.9 561.6 876.3C564.4 875.1 567.2 873.8 570 872.5C574.9 870.3 579.7 868.1 584.6 866C589.5 863.9 594.3 861.8 599.2 860.1C603.1 858.7 607 856.9 610.9 856.5C614.3 856.1 617.7 855.8 621.1 855.8C622.6 855.8 624 858.7 625.5 859.1C627.4 859.6 629.4 859.6 631.3 859.9C632.7 860.1 634.1 860.6 635.5 860.6C636.4 860.6 637.3 857.6 638.2 855C639 852.7 639.8 848 640.6 843.8C641.6 838.7 642.5 833 643.5 826.3C644.2 821.2 645 815 645.7 808.8C646 806 646.4 803.3 646.7 800C647.1 795.8 647.6 794.4 648 785.5C648.2 780.7 648.5 740 648.7 740C649.2 740 649.7 740 650.2 740L654.2 739.3C653.9 759.5 653.5 778.3 653.2 784.8C652.8 792.6 652.4 794 652 799.3C651.7 803.7 651.3 809.2 651 813.9C650.3 824.2 649.5 832.5 648.8 843.1C648.3 849.8 647.9 857.9 647.4 865C646.9 872.6 646.4 881.6 645.9 886.9C645.4 891.8 645 895.5 644.5 898.6C643.8 903.4 643 908.5 642.3 910.2C641.3 912.6 640.3 914.6 639.3 914.6C638.3 914.6 637.4 912.1 636.4 910.2C635.2 907.9 634 903.1 632.8 900C631.3 896.2 629.9 891.8 628.4 889.8C626.9 887.8 625.5 886.5 624 885.4C622.1 883.9 620.1 882.9 618.2 881.8C616.2 880.7 614.3 880.3 612.3 878.9C610.9 877.9 609.4 875 608 873.8C606.5 872.5 605.1 870.8 603.6 870.8C602.1 870.8 600.7 870.8 599.2 870.8C596.8 870.8 594.3 873.2 591.9 874.5C589.5 875.8 587 877.5 584.6 878.9C582.2 880.3 579.7 881.9 577.3 883.2C574.9 884.5 572.4 886.1 570 886.9C567.2 887.8 564.4 888.1 561.6 888.8C557.7 889.7 553.9 891.3 550 891.8C546.2 892.3 542.3 892.9 538.5 892.9C534.7 892.9 530.8 892.4 527 892.1C523.3 891.8 519.7 891.3 516 890.9C509.3 890.1 502.7 889.1 496 888.3C489.3 887.5 482.7 886.3 476 886.3C469.3 886.3 462.7 886.8 456 887.3C449.3 887.8 442.7 889.3 436 890.3C429.3 891.3 422.7 892.6 416 893.3C409.4 894 402.9 894.6 396.3 894.9Z" fill="#fc8d62" fill-opacity="0.5"/>
<path d="M396.3 861C402.9 863.2 409.4 865.4 416 867.4C422.7 869.5 429.3 871.8 436 873.4C442.7 875 449.3 876.3 456 877.2C462.7 878.1 469.3 878.8 476 879.3C482.7 879.8 489.3 880 496 880.3C502.7 880.6 509.3 880.9 516 881.1C519.7 881.2 523.3 881.3 527 881.4C530.8 881.5 534.7 882.1 538.5 882.1C542.3 882.1 546.2 881.4 550 880.7C553.9 880 557.7 877.9 561.6 876.3C564.4 875.1 567.2 873.8 570 872.5C574.9 870.3 579.7 868.1 584.6 866C589.5 863.9 594.3 861.8 599.2 860.1C603.1 858.7 607 856.9 610.9 856.5C614.3 856.1 617.7 855.8 621.1 855.8C622.6 855.8 624 858.7 625.5 859.1C627.4 859.6 629.4 859.6 631.3 859.9C632.7 860.1 634.1 860.6 635.5 860.6C636.4 860.6 637.3 857.6 638.2 855C639 852.7 639.8 848 640.6 843.8C641.6 838.7 642.5 833 643.5 826.3C644.2 821.2 645 815 645.7 808.8C646 806 646.4 803.3 646.7 800C647.1 795.8 647.6 794.4 648 785.5C648.2 780.7 648.5 740 648.7 740C649.2 740 649.7 740 650.2 740L654.2 739.3C653.9 759.5 653.5 778.3 653.2 784.8C652.8 792.6 652.4 794 652 799.3C651.7 803.7 651.3 809.2 651 813.9C650.3 824.2 649.5 832.5 648.8 843.1C648.3 849.8 647.9 857.9 647.4 865C646.9 872.6 646.4 881.6 645.9 886.9C645.4 891.8 645 895.5 644.5 898.6C643.8 903.4 643 908.5 642.3 910.2C641.3 912.6 640.3 914.6 639.3 914.6C638.3 914.6 637.4 912.1 636.4 910.2C635.2 907.9 634 903.1 632.8 900C631.3 896.2 629.9 891.8 628.4 889.8C626.9 887.8 625.5 886.5 624 885.4C622.1 883.9 620.1 882.9 618.2 881.8C616.2 880.7 614.3 880.3 612.3 878.9C610.9 877.9 609.4 875 608 873.8C606.5 872.5 605.1 870.8 603.6 870.8C602.1 870.8 600.7 870.8 599.2 870.8C596.8 870.8 594.3 873.2 591.9 874.5C589.5 875.8 587 877.5 584.6 878.9C582.2 880.3 579.7 881.9 577.3 883.2C574.9 884.5 572.4 886.1 570 886.9C567.2 887.8 564.4 888.1 561.6 888.8C557.7 889.7 553.9 891.3 550 891.8C546.2 892.3 542.3 892.9 538.5 892.9C534.7 892.9 530.8 892.4 527 892.1C523.3 891.8 519.7 891.3 516 890.9C509.3 890.1 502.7 889.1 496 888.3C489.3 887.5 482.7 886.3 476 886.3C469.3 886.3 462.7 886.8 456 887.3C449.3 887.8 442.7 889.3 436 890.3C429.3 891.3 422.7 892.6 416 893.3C409.4 894 402.9 894.6 396.3 894.9Z" fill="url(#ho_g)"/>
<rect x="659.8" y="780.4" width="5.4" height="205.2" fill="#fc8d62" fill-opacity="0.5"/>
<path d="M395.6 883H665.2" stroke="#66c2a5" stroke-width="1.5" fill="none"/>
<path d="M396.3 873.6C402.9 874.3 409.4 874.9 416 875.6C422.7 876.3 429.3 877.1 436 877.6C442.7 878.1 449.3 878.7 456 879C462.7 879.3 469.3 879.6 476 879.6C482.7 879.6 489.3 879.5 496 879.4C502.7 879.3 509.3 879 516 879C519.7 879 523.3 879 527 879C534.7 879 542.3 879.7 550 879.8C556.7 879.9 563.3 880 570 880C574.9 880 579.7 880 584.6 880C589.5 880 594.3 879.8 599.2 879.6C604.1 879.4 608.9 878.3 613.8 877.4C618.7 876.5 623.5 875.4 628.4 873.7C630.8 872.9 633.3 871.7 635.7 870.1C637.6 868.8 639.6 866.8 641.5 864.2C643 862.2 644.4 859.1 645.9 855.5C647.1 852.5 648.4 848.6 649.6 843.8C650.6 840 651.5 834.5 652.5 829.2C653.5 823.9 654.4 817.8 655.4 811.7C656 807.9 656.6 805 657.2 800C657.6 796.4 658.1 794.4 658.5 785.5C658.7 780.7 659 740 659.2 740C661.2 740 663.2 740 665.2 740" stroke="#66c2a5" stroke-width="1.5" fill="none" stroke-dasharray="5.6 2.4" stroke-linejoin="round"/>
<path d="M396.3 892C402.9 891.3 409.4 890.6 416 890C422.7 889.4 429.3 888.9 436 888.4C442.7 887.9 449.3 887.3 456 887C462.7 886.7 469.3 886.4 476 886.4C482.7 886.4 489.3 886.5 496 886.6C502.7 886.7 509.3 887 516 887C519.7 887 523.3 887 527 887C534.7 887 542.3 886.6 550 886.3C556.7 886.1 563.3 885.4 570 885.4C574.9 885.4 579.7 885.4 584.6 885.4C589.5 885.4 594.3 885.7 599.2 886.1C604.1 886.5 608.9 887.3 613.8 888.3C618.7 889.3 623.5 891.2 628.4 893.4C630.8 894.5 633.3 896 635.7 897.8C637.6 899.3 639.6 901 641.5 903.6C643 905.6 644.4 908.8 645.9 912.4C647.1 915.4 648.4 919.4 649.6 924.1C650.3 926.9 651.1 930.7 651.8 934.3C652.2 936.1 652.5 937.7 652.9 940C653.6 944.5 654.3 952.7 655 958.9C655.8 966.3 656.7 966.1 657.5 980.8C657.8 985.5 658 1030 658.3 1030C660.6 1030 662.9 1030 665.2 1030" stroke="#66c2a5" stroke-width="1.5" fill="none" stroke-dasharray="5.6 2.4" stroke-linejoin="round"/>
<path d="M396.3 877.6C402.9 878.5 409.4 879.4 416 880C422.7 880.6 429.3 881.2 436 881.6C442.7 882 449.3 882.2 456 882.4C462.7 882.6 469.3 882.7 476 883C482.7 883.3 489.3 883.9 496 884.4C502.7 884.9 509.3 885.6 516 886C519.7 886.2 523.3 886.4 527 886.6C530.8 886.8 534.7 887.2 538.5 887.2C542.3 887.2 546.2 886.6 550 886C553.9 885.4 557.7 883.6 561.6 882.2C564.4 881.2 567.2 880 570 878.8C574.9 876.7 579.7 874.4 584.6 872.3C589.5 870.2 594.3 867.1 599.2 866.4C601.6 866 604.1 865.7 606.5 865.7C608.9 865.7 611.4 866.7 613.8 867.2C616.2 867.7 618.7 867.9 621.1 868.6C623.5 869.3 626 871.1 628.4 873C630.3 874.5 632.3 877.6 634.2 879.6C635.4 880.9 636.7 883.2 637.9 883.2C638.6 883.2 639.4 882.1 640.1 881C641.1 879.5 642 874.7 643 870.1C644 865.5 644.9 858.8 645.9 851.1C646.6 845.2 647.4 837 648.1 829.2C648.7 822.4 649.4 814.8 650 807.3C650.2 804.9 650.4 802.6 650.6 800C650.9 795.6 651.3 793.4 651.6 785.5C651.9 779.2 652.1 760.2 652.4 740" stroke="#fc8d62" stroke-width="1.5" fill="none" stroke-linejoin="round"/>
<path d="M396.3 860C402.9 862.2 409.4 864.4 416 866.4C422.7 868.5 429.3 870.8 436 872.4C442.7 874 449.3 875.5 456 876.4C462.7 877.3 469.3 878.1 476 878.6C482.7 879.1 489.3 879.3 496 879.6C502.7 879.9 509.3 880.2 516 880.4C519.7 880.5 523.3 880.6 527 880.7C530.8 880.8 534.7 881.4 538.5 881.4C542.3 881.4 546.2 880.7 550 880C553.9 879.3 557.7 877.2 561.6 875.5C564.4 874.3 567.2 872.8 570 871.5C574.9 869.3 579.7 867.1 584.6 865C589.5 862.9 594.3 860.8 599.2 859.1C603.1 857.7 607 856.2 610.9 855.5C614.3 854.9 617.7 854.3 621.1 854.3C623.5 854.3 626 854.8 628.4 855.2C630.3 855.5 632.3 856.2 634.2 856.2C635.2 856.2 636.2 855.2 637.2 854C638.2 852.8 639.1 848.1 640.1 843.8C641.1 839.5 642 833 643 826.3C643.7 821.2 644.5 815 645.2 808.8C645.5 806 645.9 803.3 646.2 800C646.6 795.8 647.1 794.4 647.5 785.5C647.7 780.7 648 740 648.2 740C648.9 740 649.5 740 650.2 740" stroke="#fc8d62" stroke-width="1.5" fill="none" stroke-dasharray="5.6 2.4" stroke-linejoin="round"/>
<path d="M396.3 895.6C402.9 895.3 409.4 894.7 416 894C422.7 893.3 429.3 892 436 891C442.7 890 449.3 888.5 456 888C462.7 887.5 469.3 887 476 887C482.7 887 489.3 888.2 496 889C502.7 889.8 509.3 890.8 516 891.6C519.7 892 523.3 892.5 527 892.8C530.8 893.1 534.7 893.6 538.5 893.6C542.3 893.6 546.2 893 550 892.5C553.9 892 557.7 890.4 561.6 889.5C564.4 888.8 567.2 888.5 570 887.6C572.4 886.8 574.9 885.2 577.3 883.9C579.7 882.6 582.2 881 584.6 879.6C587 878.2 589.5 876.5 591.9 875.2C594.3 873.9 596.8 871.5 599.2 871.5C600.7 871.5 602.1 871.5 603.6 871.5C605.1 871.5 606.5 873.2 608 874.5C609.4 875.7 610.9 878.6 612.3 879.6C614.3 881 616.2 881.4 618.2 882.5C620.1 883.6 622.1 884.6 624 886.1C625.5 887.2 626.9 888.5 628.4 890.5C629.9 892.5 631.3 896.9 632.8 900.7C634 903.8 635.2 908.6 636.4 910.9C637.4 912.8 638.3 915.3 639.3 915.3C640.3 915.3 641.3 913.3 642.3 910.9C643 909.2 643.8 904.1 644.5 899.3C645 896.2 645.4 892.5 645.9 887.6C646.4 882.3 646.9 873.3 647.4 865.7C647.9 858.6 648.3 850.5 648.8 843.8C649.5 833.2 650.3 824.9 651 814.6C651.3 809.9 651.7 804.4 652 800C652.4 794.7 652.8 793.3 653.2 785.5C653.5 779 653.9 760.2 654.2 740" stroke="#fc8d62" stroke-width="1.5" fill="none" stroke-dasharray="5.6 2.4" stroke-linejoin="round"/>
<path d="M661.2 785.5C661.2 850.6 661.2 915.7 661.2 980.8" stroke="#fc8d62" stroke-width="1.5" fill="none" stroke-dasharray="5.6 2.4"/>
<path d="M663.4 785.5C663.4 850.6 663.4 915.7 663.4 980.8" stroke="#fc8d62" stroke-width="1.5" fill="none"/>
<path d="M660.4 785.5C660.4 850.6 660.4 915.7 660.4 980.8" stroke="#66c2a5" stroke-width="1.5" fill="none" stroke-dasharray="5.6 2.4"/>
</g>
<path d="M395.6 785.4V980.6H679" stroke="#1a1a1a" stroke-width="1" fill="none" stroke-linecap="square"/>
<path d="M415.8 980.6v3.5M481 980.6v3.5M546.2 980.6v3.5M611.4 980.6v3.5M676.6 980.6v3.5" stroke="#1a1a1a" stroke-width="1" fill="none"/>
<path d="M396.2 980.6v2.1M401.3 980.6v2.1M405.7 980.6v2.1M409.5 980.6v2.1M412.8 980.6v2.1M435.4 980.6v2.1M446.9 980.6v2.1M455.1 980.6v2.1M461.4 980.6v2.1M466.5 980.6v2.1M470.9 980.6v2.1M474.7 980.6v2.1M478 980.6v2.1M500.6 980.6v2.1M512.1 980.6v2.1M520.3 980.6v2.1M526.6 980.6v2.1M531.7 980.6v2.1M536.1 980.6v2.1M539.9 980.6v2.1M543.2 980.6v2.1M565.8 980.6v2.1M577.3 980.6v2.1M585.5 980.6v2.1M591.8 980.6v2.1M596.9 980.6v2.1M601.3 980.6v2.1M605.1 980.6v2.1M608.4 980.6v2.1M631 980.6v2.1M642.5 980.6v2.1M650.7 980.6v2.1M657 980.6v2.1M662.1 980.6v2.1M666.5 980.6v2.1M670.3 980.6v2.1M673.6 980.6v2.1" stroke="#1a1a1a" stroke-width="0.8" fill="none"/>
<path d="M395.6 785.4h-3.5M395.6 817.9h-3.5M395.6 850.5h-3.5M395.6 883h-3.5M395.6 915.5h-3.5M395.6 948.1h-3.5M395.6 980.6h-3.5" stroke="#1a1a1a" stroke-width="1" fill="none"/>
<text x="365.1" y="789.3" font-size="10.5" text-anchor="start" textLength="23.4" lengthAdjust="spacingAndGlyphs">1.15</text>
<text x="365.1" y="821.8" font-size="10.5" text-anchor="start" textLength="23.4" lengthAdjust="spacingAndGlyphs">1.10</text>
<text x="365.1" y="854.4" font-size="10.5" text-anchor="start" textLength="23.4" lengthAdjust="spacingAndGlyphs">1.05</text>
<text x="365.1" y="886.9" font-size="10.5" text-anchor="start" textLength="23.4" lengthAdjust="spacingAndGlyphs">1.00</text>
<text x="365.1" y="919.4" font-size="10.5" text-anchor="start" textLength="23.4" lengthAdjust="spacingAndGlyphs">0.95</text>
<text x="365.1" y="952" font-size="10.5" text-anchor="start" textLength="23.4" lengthAdjust="spacingAndGlyphs">0.90</text>
<text x="365.1" y="984.5" font-size="10.5" text-anchor="start" textLength="23.4" lengthAdjust="spacingAndGlyphs">0.85</text>
<text x="403.4" y="995.2" font-size="10.5" text-anchor="start" textLength="13.4" lengthAdjust="spacingAndGlyphs">10</text>
<text x="417.1" y="991.2" font-size="7.5" text-anchor="start" textLength="11.1" lengthAdjust="spacingAndGlyphs">−4</text>
<text x="468.6" y="995.2" font-size="10.5" text-anchor="start" textLength="13.4" lengthAdjust="spacingAndGlyphs">10</text>
<text x="482.3" y="991.2" font-size="7.5" text-anchor="start" textLength="11.1" lengthAdjust="spacingAndGlyphs">−3</text>
<text x="533.8" y="995.2" font-size="10.5" text-anchor="start" textLength="13.4" lengthAdjust="spacingAndGlyphs">10</text>
<text x="547.5" y="991.2" font-size="7.5" text-anchor="start" textLength="11.1" lengthAdjust="spacingAndGlyphs">−2</text>
<text x="599" y="995.2" font-size="10.5" text-anchor="start" textLength="13.4" lengthAdjust="spacingAndGlyphs">10</text>
<text x="612.7" y="991.2" font-size="7.5" text-anchor="start" textLength="11.1" lengthAdjust="spacingAndGlyphs">−1</text>
<text x="667.4" y="995.2" font-size="10.5" text-anchor="start" textLength="13.4" lengthAdjust="spacingAndGlyphs">10</text>
<text x="681" y="991.2" font-size="7.5" text-anchor="start" textLength="4.8" lengthAdjust="spacingAndGlyphs">0</text>
<text x="534.2" y="1008.6" font-size="10.5" text-anchor="start" textLength="6.2" lengthAdjust="spacingAndGlyphs">x</text>
<text transform="translate(360 931.5) rotate(-90)" font-size="10.5" text-anchor="start" textLength="97" lengthAdjust="spacingAndGlyphs">Ratio to NNPDF4.0</text>
<text x="495.8" y="779.3" font-size="12.6" text-anchor="start" textLength="83" lengthAdjust="spacingAndGlyphs">g at 100 GeV</text>
<rect x="400.8" y="941.1" width="274.5" height="34.3" rx="2.2" ry="2.2" fill="#fff" fill-opacity="0.8" stroke="#ccc" stroke-opacity="0.8" stroke-width="1"/>
<rect x="405.5" y="945.9" width="20.5" height="7.1" fill="#66c2a5" fill-opacity="0.5"/>
<path d="M416.1 953L423.2 945.9" stroke="#444" stroke-width="1" stroke-opacity="0.75"/>
<rect x="405.5" y="945.9" width="20.5" height="7.1" fill="none" stroke="#66c2a5" stroke-width="1.3" stroke-dasharray="3.1 1.4"/>
<text x="435.2" y="953.4" font-size="10.5" text-anchor="start" textLength="118.6" lengthAdjust="spacingAndGlyphs">NNPDF4.0 (68 c.l.+1σ)</text>
<rect x="405.5" y="961.5" width="20.5" height="7.1" fill="#fc8d62" fill-opacity="0.5"/>
<path d="M413.4 961.5L420.5 968.6" stroke="#444" stroke-width="1" stroke-opacity="0.75"/>
<rect x="405.5" y="961.5" width="20.5" height="7.1" fill="none" stroke="#fc8d62" stroke-width="1.3" stroke-dasharray="3.1 1.4"/>
<text x="435.2" y="969" font-size="10.5" text-anchor="start" textLength="235.6" lengthAdjust="spacingAndGlyphs">NNPDF3.1-like (NNPDF3.1 meth) (68 c.l.+1σ)</text>
</g>
</svg></body></html>
